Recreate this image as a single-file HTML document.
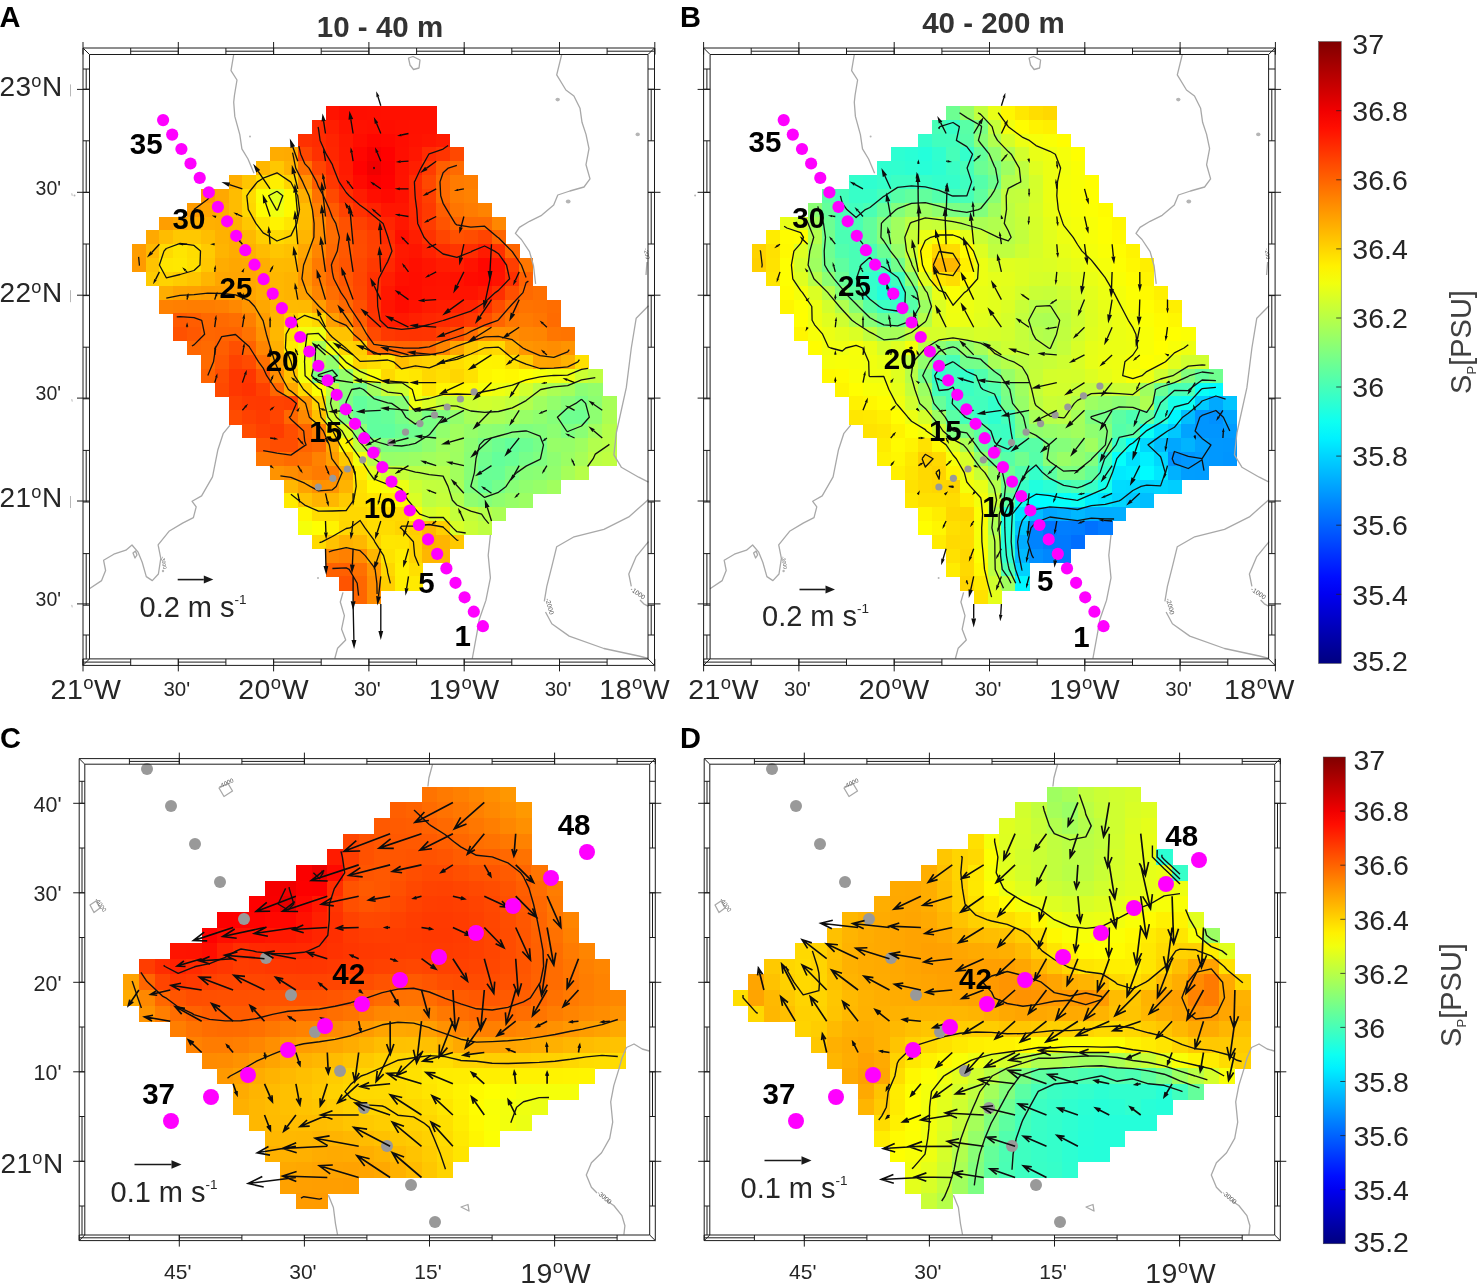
<!DOCTYPE html>
<html><head><meta charset="utf-8"><title>Figure</title>
<style>html,body{margin:0;padding:0;background:#fff}svg{display:block}text{font-family:'Liberation Sans', sans-serif}</style></head><body>
<svg width="1477" height="1287" viewBox="0 0 1477 1287">
<rect width="1477" height="1287" fill="#fff"/>
<g shape-rendering="crispEdges">
<rect x="325.5" y="105.8" width="14.2" height="14.2" fill="#ff1300"/>
<rect x="339.3" y="105.8" width="14.2" height="14.2" fill="#ff0d00"/>
<rect x="353.1" y="105.8" width="14.2" height="14.2" fill="#ff0e00"/>
<rect x="367" y="105.8" width="14.2" height="14.2" fill="#ff0f00"/>
<rect x="380.8" y="105.8" width="55.8" height="14.2" fill="#ff1000"/>
<rect x="311.6" y="119.6" width="14.2" height="14.2" fill="#ff2a00"/>
<rect x="325.5" y="119.6" width="14.2" height="14.2" fill="#ff1e00"/>
<rect x="339.3" y="119.6" width="14.2" height="14.2" fill="#ff1300"/>
<rect x="353.1" y="119.6" width="14.2" height="14.2" fill="#ff1100"/>
<rect x="367" y="119.6" width="14.2" height="14.2" fill="#ff0f00"/>
<rect x="380.8" y="119.6" width="14.2" height="14.2" fill="#ff0e00"/>
<rect x="394.7" y="119.6" width="14.2" height="14.2" fill="#ff1000"/>
<rect x="408.5" y="119.6" width="28.1" height="14.2" fill="#ff1100"/>
<rect x="297.8" y="133.5" width="14.2" height="14.2" fill="#ff3000"/>
<rect x="311.6" y="133.5" width="14.2" height="14.2" fill="#ff2b00"/>
<rect x="325.5" y="133.5" width="14.2" height="14.2" fill="#ff2400"/>
<rect x="339.3" y="133.5" width="14.2" height="14.2" fill="#ff1800"/>
<rect x="353.1" y="133.5" width="14.2" height="14.2" fill="#ff0d00"/>
<rect x="367" y="133.5" width="14.2" height="14.2" fill="#ff0600"/>
<rect x="380.8" y="133.5" width="14.2" height="14.2" fill="#ff0800"/>
<rect x="394.7" y="133.5" width="14.2" height="14.2" fill="#ff0d00"/>
<rect x="408.5" y="133.5" width="14.2" height="14.2" fill="#ff1200"/>
<rect x="422.3" y="133.5" width="14.2" height="14.2" fill="#ff1500"/>
<rect x="436.2" y="133.5" width="14.2" height="14.2" fill="#ff1a00"/>
<rect x="270.1" y="147.3" width="14.2" height="14.2" fill="#ffac00"/>
<rect x="283.9" y="147.3" width="14.2" height="14.2" fill="#ffaa00"/>
<rect x="297.8" y="147.3" width="14.2" height="14.2" fill="#ff4600"/>
<rect x="311.6" y="147.3" width="14.2" height="14.2" fill="#ff3000"/>
<rect x="325.5" y="147.3" width="14.2" height="14.2" fill="#ff2600"/>
<rect x="339.3" y="147.3" width="14.2" height="14.2" fill="#ff1900"/>
<rect x="353.1" y="147.3" width="14.2" height="14.2" fill="#ff0600"/>
<rect x="367" y="147.3" width="14.2" height="14.2" fill="#f80000"/>
<rect x="380.8" y="147.3" width="14.2" height="14.2" fill="#ff0100"/>
<rect x="394.7" y="147.3" width="14.2" height="14.2" fill="#ff0e00"/>
<rect x="408.5" y="147.3" width="14.2" height="14.2" fill="#ff1600"/>
<rect x="422.3" y="147.3" width="14.2" height="14.2" fill="#ff2b00"/>
<rect x="436.2" y="147.3" width="14.2" height="14.2" fill="#ff3400"/>
<rect x="450" y="147.3" width="14.2" height="14.2" fill="#ff4800"/>
<rect x="256.3" y="161.2" width="14.2" height="14.2" fill="#ffb700"/>
<rect x="270.1" y="161.2" width="14.2" height="14.2" fill="#ffc700"/>
<rect x="283.9" y="161.2" width="14.2" height="14.2" fill="#ffb300"/>
<rect x="297.8" y="161.2" width="14.2" height="14.2" fill="#ff7100"/>
<rect x="311.6" y="161.2" width="14.2" height="14.2" fill="#ff4400"/>
<rect x="325.5" y="161.2" width="14.2" height="14.2" fill="#ff2c00"/>
<rect x="339.3" y="161.2" width="14.2" height="14.2" fill="#ff1a00"/>
<rect x="353.1" y="161.2" width="14.2" height="14.2" fill="#ff0200"/>
<rect x="367" y="161.2" width="14.2" height="14.2" fill="#f00000"/>
<rect x="380.8" y="161.2" width="14.2" height="14.2" fill="#fd0000"/>
<rect x="394.7" y="161.2" width="14.2" height="14.2" fill="#ff1200"/>
<rect x="408.5" y="161.2" width="14.2" height="14.2" fill="#ff1e00"/>
<rect x="422.3" y="161.2" width="14.2" height="14.2" fill="#ff3c00"/>
<rect x="436.2" y="161.2" width="14.2" height="14.2" fill="#ff5f00"/>
<rect x="450" y="161.2" width="14.2" height="14.2" fill="#ff6a00"/>
<rect x="228.6" y="175" width="14.2" height="14.2" fill="#ffae00"/>
<rect x="242.4" y="175" width="14.2" height="14.2" fill="#ffc500"/>
<rect x="256.3" y="175" width="14.2" height="14.2" fill="#ffdf00"/>
<rect x="270.1" y="175" width="14.2" height="14.2" fill="#ffef00"/>
<rect x="283.9" y="175" width="14.2" height="14.2" fill="#ffd400"/>
<rect x="297.8" y="175" width="14.2" height="14.2" fill="#ff9300"/>
<rect x="311.6" y="175" width="14.2" height="14.2" fill="#ff5b00"/>
<rect x="325.5" y="175" width="14.2" height="14.2" fill="#ff3700"/>
<rect x="339.3" y="175" width="14.2" height="14.2" fill="#ff1d00"/>
<rect x="353.1" y="175" width="14.2" height="14.2" fill="#ff0a00"/>
<rect x="367" y="175" width="14.2" height="14.2" fill="#fc0000"/>
<rect x="380.8" y="175" width="14.2" height="14.2" fill="#ff0100"/>
<rect x="394.7" y="175" width="14.2" height="14.2" fill="#ff1300"/>
<rect x="408.5" y="175" width="14.2" height="14.2" fill="#ff2c00"/>
<rect x="422.3" y="175" width="14.2" height="14.2" fill="#ff4800"/>
<rect x="436.2" y="175" width="14.2" height="14.2" fill="#ff6b00"/>
<rect x="450" y="175" width="14.2" height="14.2" fill="#ff7b00"/>
<rect x="463.9" y="175" width="14.2" height="14.2" fill="#ff7e00"/>
<rect x="200.9" y="188.8" width="14.2" height="14.2" fill="#ff9900"/>
<rect x="214.7" y="188.8" width="14.2" height="14.2" fill="#ffa800"/>
<rect x="228.6" y="188.8" width="14.2" height="14.2" fill="#ffbc00"/>
<rect x="242.4" y="188.8" width="14.2" height="14.2" fill="#ffda00"/>
<rect x="256.3" y="188.8" width="14.2" height="14.2" fill="#faff05"/>
<rect x="270.1" y="188.8" width="14.2" height="14.2" fill="#e2ff1d"/>
<rect x="283.9" y="188.8" width="14.2" height="14.2" fill="#fff900"/>
<rect x="297.8" y="188.8" width="14.2" height="14.2" fill="#ffaf00"/>
<rect x="311.6" y="188.8" width="14.2" height="14.2" fill="#ff7100"/>
<rect x="325.5" y="188.8" width="14.2" height="14.2" fill="#ff4900"/>
<rect x="339.3" y="188.8" width="14.2" height="14.2" fill="#ff2f00"/>
<rect x="353.1" y="188.8" width="14.2" height="14.2" fill="#ff1c00"/>
<rect x="367" y="188.8" width="14.2" height="14.2" fill="#ff0e00"/>
<rect x="380.8" y="188.8" width="14.2" height="14.2" fill="#ff0900"/>
<rect x="394.7" y="188.8" width="14.2" height="14.2" fill="#ff1100"/>
<rect x="408.5" y="188.8" width="14.2" height="14.2" fill="#ff2b00"/>
<rect x="422.3" y="188.8" width="14.2" height="14.2" fill="#ff3f00"/>
<rect x="436.2" y="188.8" width="14.2" height="14.2" fill="#ff6b00"/>
<rect x="450" y="188.8" width="14.2" height="14.2" fill="#ff7d00"/>
<rect x="463.9" y="188.8" width="14.2" height="14.2" fill="#ff8200"/>
<rect x="187.1" y="202.7" width="14.2" height="14.2" fill="#ff9c00"/>
<rect x="200.9" y="202.7" width="14.2" height="14.2" fill="#ffa400"/>
<rect x="214.7" y="202.7" width="14.2" height="14.2" fill="#ffad00"/>
<rect x="228.6" y="202.7" width="14.2" height="14.2" fill="#ffbc00"/>
<rect x="242.4" y="202.7" width="14.2" height="14.2" fill="#ffd700"/>
<rect x="256.3" y="202.7" width="14.2" height="14.2" fill="#fffc00"/>
<rect x="270.1" y="202.7" width="14.2" height="14.2" fill="#f0ff0f"/>
<rect x="283.9" y="202.7" width="14.2" height="14.2" fill="#fff900"/>
<rect x="297.8" y="202.7" width="14.2" height="14.2" fill="#ffbe00"/>
<rect x="311.6" y="202.7" width="14.2" height="14.2" fill="#ff8100"/>
<rect x="325.5" y="202.7" width="14.2" height="14.2" fill="#ff5b00"/>
<rect x="339.3" y="202.7" width="14.2" height="14.2" fill="#ff4200"/>
<rect x="353.1" y="202.7" width="14.2" height="14.2" fill="#ff3100"/>
<rect x="367" y="202.7" width="14.2" height="14.2" fill="#ff2200"/>
<rect x="380.8" y="202.7" width="28.1" height="14.2" fill="#ff1600"/>
<rect x="408.5" y="202.7" width="14.2" height="14.2" fill="#ff2900"/>
<rect x="422.3" y="202.7" width="14.2" height="14.2" fill="#ff3a00"/>
<rect x="436.2" y="202.7" width="14.2" height="14.2" fill="#ff5d00"/>
<rect x="450" y="202.7" width="14.2" height="14.2" fill="#ff7500"/>
<rect x="463.9" y="202.7" width="14.2" height="14.2" fill="#ff7c00"/>
<rect x="477.7" y="202.7" width="14.2" height="14.2" fill="#ff8300"/>
<rect x="159.4" y="216.5" width="14.2" height="14.2" fill="#ff9e00"/>
<rect x="173.2" y="216.5" width="14.2" height="14.2" fill="#ffa600"/>
<rect x="187.1" y="216.5" width="14.2" height="14.2" fill="#ffaf00"/>
<rect x="200.9" y="216.5" width="14.2" height="14.2" fill="#ffb000"/>
<rect x="214.7" y="216.5" width="14.2" height="14.2" fill="#ffae00"/>
<rect x="228.6" y="216.5" width="14.2" height="14.2" fill="#ffb200"/>
<rect x="242.4" y="216.5" width="14.2" height="14.2" fill="#ffc700"/>
<rect x="256.3" y="216.5" width="14.2" height="14.2" fill="#ffe400"/>
<rect x="270.1" y="216.5" width="14.2" height="14.2" fill="#fff300"/>
<rect x="283.9" y="216.5" width="14.2" height="14.2" fill="#ffe600"/>
<rect x="297.8" y="216.5" width="14.2" height="14.2" fill="#ffbd00"/>
<rect x="311.6" y="216.5" width="14.2" height="14.2" fill="#ff8c00"/>
<rect x="325.5" y="216.5" width="14.2" height="14.2" fill="#ff6900"/>
<rect x="339.3" y="216.5" width="14.2" height="14.2" fill="#ff5100"/>
<rect x="353.1" y="216.5" width="14.2" height="14.2" fill="#ff4100"/>
<rect x="367" y="216.5" width="14.2" height="14.2" fill="#ff3500"/>
<rect x="380.8" y="216.5" width="14.2" height="14.2" fill="#ff2500"/>
<rect x="394.7" y="216.5" width="14.2" height="14.2" fill="#ff1700"/>
<rect x="408.5" y="216.5" width="14.2" height="14.2" fill="#ff2700"/>
<rect x="422.3" y="216.5" width="14.2" height="14.2" fill="#ff3c00"/>
<rect x="436.2" y="216.5" width="14.2" height="14.2" fill="#ff5400"/>
<rect x="450" y="216.5" width="14.2" height="14.2" fill="#ff6500"/>
<rect x="463.9" y="216.5" width="28.1" height="14.2" fill="#ff6b00"/>
<rect x="491.5" y="216.5" width="14.2" height="14.2" fill="#ff8700"/>
<rect x="145.5" y="230.4" width="14.2" height="14.2" fill="#ffa900"/>
<rect x="159.4" y="230.4" width="14.2" height="14.2" fill="#ffbc00"/>
<rect x="173.2" y="230.4" width="28.1" height="14.2" fill="#ffc800"/>
<rect x="200.9" y="230.4" width="14.2" height="14.2" fill="#ffbe00"/>
<rect x="214.7" y="230.4" width="14.2" height="14.2" fill="#ffb100"/>
<rect x="228.6" y="230.4" width="14.2" height="14.2" fill="#ffac00"/>
<rect x="242.4" y="230.4" width="14.2" height="14.2" fill="#ffb900"/>
<rect x="256.3" y="230.4" width="14.2" height="14.2" fill="#ffce00"/>
<rect x="270.1" y="230.4" width="14.2" height="14.2" fill="#ffda00"/>
<rect x="283.9" y="230.4" width="14.2" height="14.2" fill="#ffd200"/>
<rect x="297.8" y="230.4" width="14.2" height="14.2" fill="#ffb500"/>
<rect x="311.6" y="230.4" width="14.2" height="14.2" fill="#ff8f00"/>
<rect x="325.5" y="230.4" width="14.2" height="14.2" fill="#ff6e00"/>
<rect x="339.3" y="230.4" width="14.2" height="14.2" fill="#ff5800"/>
<rect x="353.1" y="230.4" width="14.2" height="14.2" fill="#ff4b00"/>
<rect x="367" y="230.4" width="14.2" height="14.2" fill="#ff4000"/>
<rect x="380.8" y="230.4" width="14.2" height="14.2" fill="#ff2b00"/>
<rect x="394.7" y="230.4" width="14.2" height="14.2" fill="#ff0f00"/>
<rect x="408.5" y="230.4" width="14.2" height="14.2" fill="#ff1e00"/>
<rect x="422.3" y="230.4" width="14.2" height="14.2" fill="#ff3200"/>
<rect x="436.2" y="230.4" width="14.2" height="14.2" fill="#ff4500"/>
<rect x="450" y="230.4" width="14.2" height="14.2" fill="#ff5100"/>
<rect x="463.9" y="230.4" width="14.2" height="14.2" fill="#ff4d00"/>
<rect x="477.7" y="230.4" width="14.2" height="14.2" fill="#ff4400"/>
<rect x="491.5" y="230.4" width="14.2" height="14.2" fill="#ff6500"/>
<rect x="131.7" y="244.2" width="14.2" height="14.2" fill="#ff9d00"/>
<rect x="145.5" y="244.2" width="14.2" height="14.2" fill="#ffb800"/>
<rect x="159.4" y="244.2" width="14.2" height="14.2" fill="#ffda00"/>
<rect x="173.2" y="244.2" width="14.2" height="14.2" fill="#ffe500"/>
<rect x="187.1" y="244.2" width="14.2" height="14.2" fill="#ffdd00"/>
<rect x="200.9" y="244.2" width="14.2" height="14.2" fill="#ffcb00"/>
<rect x="214.7" y="244.2" width="14.2" height="14.2" fill="#ffb400"/>
<rect x="228.6" y="244.2" width="14.2" height="14.2" fill="#ffac00"/>
<rect x="242.4" y="244.2" width="14.2" height="14.2" fill="#ffb100"/>
<rect x="256.3" y="244.2" width="14.2" height="14.2" fill="#ffbc00"/>
<rect x="270.1" y="244.2" width="14.2" height="14.2" fill="#ffc600"/>
<rect x="283.9" y="244.2" width="14.2" height="14.2" fill="#ffc100"/>
<rect x="297.8" y="244.2" width="14.2" height="14.2" fill="#ffa600"/>
<rect x="311.6" y="244.2" width="14.2" height="14.2" fill="#ff8500"/>
<rect x="325.5" y="244.2" width="14.2" height="14.2" fill="#ff6900"/>
<rect x="339.3" y="244.2" width="14.2" height="14.2" fill="#ff5800"/>
<rect x="353.1" y="244.2" width="14.2" height="14.2" fill="#ff4c00"/>
<rect x="367" y="244.2" width="14.2" height="14.2" fill="#ff4100"/>
<rect x="380.8" y="244.2" width="14.2" height="14.2" fill="#ff3200"/>
<rect x="394.7" y="244.2" width="14.2" height="14.2" fill="#ff1900"/>
<rect x="408.5" y="244.2" width="14.2" height="14.2" fill="#ff1500"/>
<rect x="422.3" y="244.2" width="14.2" height="14.2" fill="#ff2100"/>
<rect x="436.2" y="244.2" width="14.2" height="14.2" fill="#ff2e00"/>
<rect x="450" y="244.2" width="14.2" height="14.2" fill="#ff3500"/>
<rect x="463.9" y="244.2" width="14.2" height="14.2" fill="#ff2c00"/>
<rect x="477.7" y="244.2" width="14.2" height="14.2" fill="#ff1b00"/>
<rect x="491.5" y="244.2" width="14.2" height="14.2" fill="#ff3000"/>
<rect x="505.4" y="244.2" width="14.2" height="14.2" fill="#ff6500"/>
<rect x="131.7" y="258" width="14.2" height="14.2" fill="#ff9a00"/>
<rect x="145.5" y="258" width="14.2" height="14.2" fill="#ffc300"/>
<rect x="159.4" y="258" width="14.2" height="14.2" fill="#ffe600"/>
<rect x="173.2" y="258" width="14.2" height="14.2" fill="#ffe800"/>
<rect x="187.1" y="258" width="14.2" height="14.2" fill="#ffdf00"/>
<rect x="200.9" y="258" width="14.2" height="14.2" fill="#ffc700"/>
<rect x="214.7" y="258" width="14.2" height="14.2" fill="#ffac00"/>
<rect x="228.6" y="258" width="14.2" height="14.2" fill="#ffa700"/>
<rect x="242.4" y="258" width="14.2" height="14.2" fill="#ffa900"/>
<rect x="256.3" y="258" width="14.2" height="14.2" fill="#ffae00"/>
<rect x="270.1" y="258" width="14.2" height="14.2" fill="#ffba00"/>
<rect x="283.9" y="258" width="14.2" height="14.2" fill="#ffb900"/>
<rect x="297.8" y="258" width="14.2" height="14.2" fill="#ff9900"/>
<rect x="311.6" y="258" width="14.2" height="14.2" fill="#ff7900"/>
<rect x="325.5" y="258" width="14.2" height="14.2" fill="#ff6100"/>
<rect x="339.3" y="258" width="14.2" height="14.2" fill="#ff5400"/>
<rect x="353.1" y="258" width="14.2" height="14.2" fill="#ff4800"/>
<rect x="367" y="258" width="14.2" height="14.2" fill="#ff3900"/>
<rect x="380.8" y="258" width="14.2" height="14.2" fill="#ff2800"/>
<rect x="394.7" y="258" width="14.2" height="14.2" fill="#ff1500"/>
<rect x="408.5" y="258" width="14.2" height="14.2" fill="#ff0f00"/>
<rect x="422.3" y="258" width="14.2" height="14.2" fill="#ff1500"/>
<rect x="436.2" y="258" width="14.2" height="14.2" fill="#ff1c00"/>
<rect x="450" y="258" width="14.2" height="14.2" fill="#ff1d00"/>
<rect x="463.9" y="258" width="14.2" height="14.2" fill="#ff1300"/>
<rect x="477.7" y="258" width="14.2" height="14.2" fill="#ff0700"/>
<rect x="491.5" y="258" width="14.2" height="14.2" fill="#ff1000"/>
<rect x="505.4" y="258" width="14.2" height="14.2" fill="#ff3e00"/>
<rect x="519.2" y="258" width="14.2" height="14.2" fill="#ff7700"/>
<rect x="145.5" y="271.9" width="14.2" height="14.2" fill="#ffcb00"/>
<rect x="159.4" y="271.9" width="14.2" height="14.2" fill="#ffd300"/>
<rect x="173.2" y="271.9" width="14.2" height="14.2" fill="#ffcc00"/>
<rect x="187.1" y="271.9" width="14.2" height="14.2" fill="#ffc500"/>
<rect x="200.9" y="271.9" width="14.2" height="14.2" fill="#ffb500"/>
<rect x="214.7" y="271.9" width="14.2" height="14.2" fill="#ffa600"/>
<rect x="228.6" y="271.9" width="14.2" height="14.2" fill="#ffa500"/>
<rect x="242.4" y="271.9" width="14.2" height="14.2" fill="#ffa700"/>
<rect x="256.3" y="271.9" width="14.2" height="14.2" fill="#ffac00"/>
<rect x="270.1" y="271.9" width="14.2" height="14.2" fill="#ffb700"/>
<rect x="283.9" y="271.9" width="14.2" height="14.2" fill="#ffb300"/>
<rect x="297.8" y="271.9" width="14.2" height="14.2" fill="#ff9600"/>
<rect x="311.6" y="271.9" width="14.2" height="14.2" fill="#ff7900"/>
<rect x="325.5" y="271.9" width="14.2" height="14.2" fill="#ff6500"/>
<rect x="339.3" y="271.9" width="14.2" height="14.2" fill="#ff5700"/>
<rect x="353.1" y="271.9" width="14.2" height="14.2" fill="#ff4600"/>
<rect x="367" y="271.9" width="14.2" height="14.2" fill="#ff3100"/>
<rect x="380.8" y="271.9" width="14.2" height="14.2" fill="#ff1e00"/>
<rect x="394.7" y="271.9" width="14.2" height="14.2" fill="#ff1000"/>
<rect x="408.5" y="271.9" width="14.2" height="14.2" fill="#ff0d00"/>
<rect x="422.3" y="271.9" width="14.2" height="14.2" fill="#ff1100"/>
<rect x="436.2" y="271.9" width="14.2" height="14.2" fill="#ff1300"/>
<rect x="450" y="271.9" width="14.2" height="14.2" fill="#ff1100"/>
<rect x="463.9" y="271.9" width="14.2" height="14.2" fill="#ff0b00"/>
<rect x="477.7" y="271.9" width="14.2" height="14.2" fill="#ff0800"/>
<rect x="491.5" y="271.9" width="14.2" height="14.2" fill="#ff1200"/>
<rect x="505.4" y="271.9" width="14.2" height="14.2" fill="#ff3000"/>
<rect x="519.2" y="271.9" width="14.2" height="14.2" fill="#ff6100"/>
<rect x="159.4" y="285.7" width="14.2" height="14.2" fill="#ffad00"/>
<rect x="173.2" y="285.7" width="14.2" height="14.2" fill="#ffa300"/>
<rect x="187.1" y="285.7" width="14.2" height="14.2" fill="#ffa100"/>
<rect x="200.9" y="285.7" width="14.2" height="14.2" fill="#ff9d00"/>
<rect x="214.7" y="285.7" width="14.2" height="14.2" fill="#ff9e00"/>
<rect x="228.6" y="285.7" width="14.2" height="14.2" fill="#ffa000"/>
<rect x="242.4" y="285.7" width="14.2" height="14.2" fill="#ffa500"/>
<rect x="256.3" y="285.7" width="14.2" height="14.2" fill="#ffae00"/>
<rect x="270.1" y="285.7" width="14.2" height="14.2" fill="#ffb700"/>
<rect x="283.9" y="285.7" width="14.2" height="14.2" fill="#ffb300"/>
<rect x="297.8" y="285.7" width="14.2" height="14.2" fill="#ffa000"/>
<rect x="311.6" y="285.7" width="14.2" height="14.2" fill="#ff8400"/>
<rect x="325.5" y="285.7" width="14.2" height="14.2" fill="#ff6e00"/>
<rect x="339.3" y="285.7" width="14.2" height="14.2" fill="#ff5d00"/>
<rect x="353.1" y="285.7" width="14.2" height="14.2" fill="#ff4800"/>
<rect x="367" y="285.7" width="14.2" height="14.2" fill="#ff3100"/>
<rect x="380.8" y="285.7" width="14.2" height="14.2" fill="#ff1700"/>
<rect x="394.7" y="285.7" width="14.2" height="14.2" fill="#ff0b00"/>
<rect x="408.5" y="285.7" width="14.2" height="14.2" fill="#ff0d00"/>
<rect x="422.3" y="285.7" width="14.2" height="14.2" fill="#ff1300"/>
<rect x="436.2" y="285.7" width="14.2" height="14.2" fill="#ff1400"/>
<rect x="450" y="285.7" width="28.1" height="14.2" fill="#ff1300"/>
<rect x="477.7" y="285.7" width="14.2" height="14.2" fill="#ff1a00"/>
<rect x="491.5" y="285.7" width="14.2" height="14.2" fill="#ff2f00"/>
<rect x="505.4" y="285.7" width="14.2" height="14.2" fill="#ff4f00"/>
<rect x="519.2" y="285.7" width="14.2" height="14.2" fill="#ff6900"/>
<rect x="533.1" y="285.7" width="14.2" height="14.2" fill="#ff6f00"/>
<rect x="159.4" y="299.6" width="14.2" height="14.2" fill="#ff8100"/>
<rect x="173.2" y="299.6" width="14.2" height="14.2" fill="#ff7f00"/>
<rect x="187.1" y="299.6" width="28.1" height="14.2" fill="#ff7d00"/>
<rect x="214.7" y="299.6" width="14.2" height="14.2" fill="#ff8000"/>
<rect x="228.6" y="299.6" width="14.2" height="14.2" fill="#ff8800"/>
<rect x="242.4" y="299.6" width="14.2" height="14.2" fill="#ff9500"/>
<rect x="256.3" y="299.6" width="14.2" height="14.2" fill="#ffa700"/>
<rect x="270.1" y="299.6" width="14.2" height="14.2" fill="#ffb400"/>
<rect x="283.9" y="299.6" width="14.2" height="14.2" fill="#ffba00"/>
<rect x="297.8" y="299.6" width="14.2" height="14.2" fill="#ffb900"/>
<rect x="311.6" y="299.6" width="14.2" height="14.2" fill="#ff9d00"/>
<rect x="325.5" y="299.6" width="14.2" height="14.2" fill="#ff7c00"/>
<rect x="339.3" y="299.6" width="14.2" height="14.2" fill="#ff6900"/>
<rect x="353.1" y="299.6" width="14.2" height="14.2" fill="#ff5000"/>
<rect x="367" y="299.6" width="14.2" height="14.2" fill="#ff3300"/>
<rect x="380.8" y="299.6" width="14.2" height="14.2" fill="#ff1500"/>
<rect x="394.7" y="299.6" width="14.2" height="14.2" fill="#ff0c00"/>
<rect x="408.5" y="299.6" width="14.2" height="14.2" fill="#ff1200"/>
<rect x="422.3" y="299.6" width="14.2" height="14.2" fill="#ff1a00"/>
<rect x="436.2" y="299.6" width="14.2" height="14.2" fill="#ff1d00"/>
<rect x="450" y="299.6" width="14.2" height="14.2" fill="#ff2000"/>
<rect x="463.9" y="299.6" width="14.2" height="14.2" fill="#ff2300"/>
<rect x="477.7" y="299.6" width="14.2" height="14.2" fill="#ff3100"/>
<rect x="491.5" y="299.6" width="14.2" height="14.2" fill="#ff4c00"/>
<rect x="505.4" y="299.6" width="14.2" height="14.2" fill="#ff6800"/>
<rect x="519.2" y="299.6" width="14.2" height="14.2" fill="#ff7300"/>
<rect x="533.1" y="299.6" width="14.2" height="14.2" fill="#ff7100"/>
<rect x="546.9" y="299.6" width="14.2" height="14.2" fill="#ff6d00"/>
<rect x="173.2" y="313.4" width="14.2" height="14.2" fill="#ff5900"/>
<rect x="187.1" y="313.4" width="14.2" height="14.2" fill="#ff5d00"/>
<rect x="200.9" y="313.4" width="14.2" height="14.2" fill="#ff6800"/>
<rect x="214.7" y="313.4" width="14.2" height="14.2" fill="#ff6a00"/>
<rect x="228.6" y="313.4" width="14.2" height="14.2" fill="#ff6e00"/>
<rect x="242.4" y="313.4" width="14.2" height="14.2" fill="#ff7f00"/>
<rect x="256.3" y="313.4" width="14.2" height="14.2" fill="#ff9c00"/>
<rect x="270.1" y="313.4" width="14.2" height="14.2" fill="#ffb500"/>
<rect x="283.9" y="313.4" width="14.2" height="14.2" fill="#ffcb00"/>
<rect x="297.8" y="313.4" width="14.2" height="14.2" fill="#ffe400"/>
<rect x="311.6" y="313.4" width="14.2" height="14.2" fill="#ffd500"/>
<rect x="325.5" y="313.4" width="14.2" height="14.2" fill="#ff9f00"/>
<rect x="339.3" y="313.4" width="14.2" height="14.2" fill="#ff8600"/>
<rect x="353.1" y="313.4" width="14.2" height="14.2" fill="#ff5f00"/>
<rect x="367" y="313.4" width="14.2" height="14.2" fill="#ff3600"/>
<rect x="380.8" y="313.4" width="14.2" height="14.2" fill="#ff1c00"/>
<rect x="394.7" y="313.4" width="14.2" height="14.2" fill="#ff1900"/>
<rect x="408.5" y="313.4" width="14.2" height="14.2" fill="#ff2000"/>
<rect x="422.3" y="313.4" width="14.2" height="14.2" fill="#ff2600"/>
<rect x="436.2" y="313.4" width="14.2" height="14.2" fill="#ff2a00"/>
<rect x="450" y="313.4" width="14.2" height="14.2" fill="#ff3000"/>
<rect x="463.9" y="313.4" width="14.2" height="14.2" fill="#ff3800"/>
<rect x="477.7" y="313.4" width="14.2" height="14.2" fill="#ff4d00"/>
<rect x="491.5" y="313.4" width="14.2" height="14.2" fill="#ff6400"/>
<rect x="505.4" y="313.4" width="14.2" height="14.2" fill="#ff7700"/>
<rect x="519.2" y="313.4" width="14.2" height="14.2" fill="#ff7b00"/>
<rect x="533.1" y="313.4" width="14.2" height="14.2" fill="#ff7600"/>
<rect x="546.9" y="313.4" width="14.2" height="14.2" fill="#ff6b00"/>
<rect x="173.2" y="327.2" width="14.2" height="14.2" fill="#ff5100"/>
<rect x="187.1" y="327.2" width="14.2" height="14.2" fill="#ff5800"/>
<rect x="200.9" y="327.2" width="14.2" height="14.2" fill="#ff6600"/>
<rect x="214.7" y="327.2" width="28.1" height="14.2" fill="#ff6400"/>
<rect x="242.4" y="327.2" width="14.2" height="14.2" fill="#ff7300"/>
<rect x="256.3" y="327.2" width="14.2" height="14.2" fill="#ff9300"/>
<rect x="270.1" y="327.2" width="14.2" height="14.2" fill="#ffb700"/>
<rect x="283.9" y="327.2" width="14.2" height="14.2" fill="#ffe400"/>
<rect x="297.8" y="327.2" width="14.2" height="14.2" fill="#f2ff0d"/>
<rect x="311.6" y="327.2" width="14.2" height="14.2" fill="#edff12"/>
<rect x="325.5" y="327.2" width="14.2" height="14.2" fill="#ffc400"/>
<rect x="339.3" y="327.2" width="14.2" height="14.2" fill="#ffc200"/>
<rect x="353.1" y="327.2" width="14.2" height="14.2" fill="#ff7a00"/>
<rect x="367" y="327.2" width="14.2" height="14.2" fill="#ff4a00"/>
<rect x="380.8" y="327.2" width="14.2" height="14.2" fill="#ff3800"/>
<rect x="394.7" y="327.2" width="14.2" height="14.2" fill="#ff3400"/>
<rect x="408.5" y="327.2" width="14.2" height="14.2" fill="#ff3300"/>
<rect x="422.3" y="327.2" width="14.2" height="14.2" fill="#ff3400"/>
<rect x="436.2" y="327.2" width="14.2" height="14.2" fill="#ff4000"/>
<rect x="450" y="327.2" width="14.2" height="14.2" fill="#ff5100"/>
<rect x="463.9" y="327.2" width="14.2" height="14.2" fill="#ff6e00"/>
<rect x="477.7" y="327.2" width="14.2" height="14.2" fill="#ff8e00"/>
<rect x="491.5" y="327.2" width="14.2" height="14.2" fill="#ff9100"/>
<rect x="505.4" y="327.2" width="14.2" height="14.2" fill="#ff8e00"/>
<rect x="519.2" y="327.2" width="14.2" height="14.2" fill="#ff8700"/>
<rect x="533.1" y="327.2" width="14.2" height="14.2" fill="#ff8500"/>
<rect x="546.9" y="327.2" width="14.2" height="14.2" fill="#ff7600"/>
<rect x="560.7" y="327.2" width="14.2" height="14.2" fill="#ff7400"/>
<rect x="187.1" y="341.1" width="14.2" height="14.2" fill="#ff6600"/>
<rect x="200.9" y="341.1" width="14.2" height="14.2" fill="#ff6a00"/>
<rect x="214.7" y="341.1" width="14.2" height="14.2" fill="#ff5e00"/>
<rect x="228.6" y="341.1" width="14.2" height="14.2" fill="#ff4f00"/>
<rect x="242.4" y="341.1" width="14.2" height="14.2" fill="#ff6200"/>
<rect x="256.3" y="341.1" width="14.2" height="14.2" fill="#ff8500"/>
<rect x="270.1" y="341.1" width="14.2" height="14.2" fill="#ffb000"/>
<rect x="283.9" y="341.1" width="14.2" height="14.2" fill="#ffec00"/>
<rect x="297.8" y="341.1" width="14.2" height="14.2" fill="#f4ff0b"/>
<rect x="311.6" y="341.1" width="14.2" height="14.2" fill="#a8ff57"/>
<rect x="325.5" y="341.1" width="14.2" height="14.2" fill="#f1ff0e"/>
<rect x="339.3" y="341.1" width="14.2" height="14.2" fill="#ffd300"/>
<rect x="353.1" y="341.1" width="14.2" height="14.2" fill="#ffce00"/>
<rect x="367" y="341.1" width="14.2" height="14.2" fill="#ff6c00"/>
<rect x="380.8" y="341.1" width="14.2" height="14.2" fill="#ff6900"/>
<rect x="394.7" y="341.1" width="14.2" height="14.2" fill="#ff6300"/>
<rect x="408.5" y="341.1" width="14.2" height="14.2" fill="#ff6200"/>
<rect x="422.3" y="341.1" width="14.2" height="14.2" fill="#ff6800"/>
<rect x="436.2" y="341.1" width="14.2" height="14.2" fill="#ff8400"/>
<rect x="450" y="341.1" width="14.2" height="14.2" fill="#ffa700"/>
<rect x="463.9" y="341.1" width="14.2" height="14.2" fill="#ffc600"/>
<rect x="477.7" y="341.1" width="14.2" height="14.2" fill="#ffd500"/>
<rect x="491.5" y="341.1" width="14.2" height="14.2" fill="#ffd900"/>
<rect x="505.4" y="341.1" width="14.2" height="14.2" fill="#ffb100"/>
<rect x="519.2" y="341.1" width="14.2" height="14.2" fill="#ff9500"/>
<rect x="533.1" y="341.1" width="14.2" height="14.2" fill="#ff9100"/>
<rect x="546.9" y="341.1" width="14.2" height="14.2" fill="#ff8d00"/>
<rect x="560.7" y="341.1" width="14.2" height="14.2" fill="#ff9300"/>
<rect x="200.9" y="354.9" width="14.2" height="14.2" fill="#ff6b00"/>
<rect x="214.7" y="354.9" width="14.2" height="14.2" fill="#ff5800"/>
<rect x="228.6" y="354.9" width="14.2" height="14.2" fill="#ff4200"/>
<rect x="242.4" y="354.9" width="14.2" height="14.2" fill="#ff4b00"/>
<rect x="256.3" y="354.9" width="14.2" height="14.2" fill="#ff6f00"/>
<rect x="270.1" y="354.9" width="14.2" height="14.2" fill="#ffa400"/>
<rect x="283.9" y="354.9" width="14.2" height="14.2" fill="#ffd400"/>
<rect x="297.8" y="354.9" width="14.2" height="14.2" fill="#f0ff0f"/>
<rect x="311.6" y="354.9" width="14.2" height="14.2" fill="#a6ff59"/>
<rect x="325.5" y="354.9" width="14.2" height="14.2" fill="#92ff6d"/>
<rect x="339.3" y="354.9" width="14.2" height="14.2" fill="#f5ff0a"/>
<rect x="353.1" y="354.9" width="14.2" height="14.2" fill="#ffd500"/>
<rect x="367" y="354.9" width="14.2" height="14.2" fill="#ffdd00"/>
<rect x="380.8" y="354.9" width="14.2" height="14.2" fill="#ffe500"/>
<rect x="394.7" y="354.9" width="14.2" height="14.2" fill="#ffbd00"/>
<rect x="408.5" y="354.9" width="14.2" height="14.2" fill="#ffcd00"/>
<rect x="422.3" y="354.9" width="14.2" height="14.2" fill="#ffd200"/>
<rect x="436.2" y="354.9" width="14.2" height="14.2" fill="#ffd400"/>
<rect x="450" y="354.9" width="14.2" height="14.2" fill="#ffde00"/>
<rect x="463.9" y="354.9" width="14.2" height="14.2" fill="#ffe700"/>
<rect x="477.7" y="354.9" width="14.2" height="14.2" fill="#fff300"/>
<rect x="491.5" y="354.9" width="14.2" height="14.2" fill="#fff200"/>
<rect x="505.4" y="354.9" width="14.2" height="14.2" fill="#ffe100"/>
<rect x="519.2" y="354.9" width="14.2" height="14.2" fill="#ffcc00"/>
<rect x="533.1" y="354.9" width="14.2" height="14.2" fill="#ffa500"/>
<rect x="546.9" y="354.9" width="14.2" height="14.2" fill="#ffa300"/>
<rect x="560.7" y="354.9" width="14.2" height="14.2" fill="#ffb200"/>
<rect x="574.6" y="354.9" width="14.2" height="14.2" fill="#ffe000"/>
<rect x="200.9" y="368.8" width="14.2" height="14.2" fill="#ff6300"/>
<rect x="214.7" y="368.8" width="14.2" height="14.2" fill="#ff4d00"/>
<rect x="228.6" y="368.8" width="14.2" height="14.2" fill="#ff3700"/>
<rect x="242.4" y="368.8" width="14.2" height="14.2" fill="#ff3600"/>
<rect x="256.3" y="368.8" width="14.2" height="14.2" fill="#ff5500"/>
<rect x="270.1" y="368.8" width="14.2" height="14.2" fill="#ff8d00"/>
<rect x="283.9" y="368.8" width="14.2" height="14.2" fill="#ffc100"/>
<rect x="297.8" y="368.8" width="14.2" height="14.2" fill="#f4ff0b"/>
<rect x="311.6" y="368.8" width="14.2" height="14.2" fill="#7cff83"/>
<rect x="325.5" y="368.8" width="14.2" height="14.2" fill="#73ff8c"/>
<rect x="339.3" y="368.8" width="14.2" height="14.2" fill="#95ff6a"/>
<rect x="353.1" y="368.8" width="14.2" height="14.2" fill="#d8ff27"/>
<rect x="367" y="368.8" width="14.2" height="14.2" fill="#fbff04"/>
<rect x="380.8" y="368.8" width="14.2" height="14.2" fill="#ffd900"/>
<rect x="394.7" y="368.8" width="14.2" height="14.2" fill="#ffeb00"/>
<rect x="408.5" y="368.8" width="14.2" height="14.2" fill="#ffe700"/>
<rect x="422.3" y="368.8" width="14.2" height="14.2" fill="#ffd800"/>
<rect x="436.2" y="368.8" width="14.2" height="14.2" fill="#ffdf00"/>
<rect x="450" y="368.8" width="14.2" height="14.2" fill="#ffd600"/>
<rect x="463.9" y="368.8" width="14.2" height="14.2" fill="#ffe200"/>
<rect x="477.7" y="368.8" width="14.2" height="14.2" fill="#fff600"/>
<rect x="491.5" y="368.8" width="14.2" height="14.2" fill="#fffb00"/>
<rect x="505.4" y="368.8" width="14.2" height="14.2" fill="#fff800"/>
<rect x="519.2" y="368.8" width="14.2" height="14.2" fill="#feff01"/>
<rect x="533.1" y="368.8" width="14.2" height="14.2" fill="#f6ff09"/>
<rect x="546.9" y="368.8" width="14.2" height="14.2" fill="#f0ff0f"/>
<rect x="560.7" y="368.8" width="14.2" height="14.2" fill="#edff12"/>
<rect x="574.6" y="368.8" width="14.2" height="14.2" fill="#ccff33"/>
<rect x="588.4" y="368.8" width="14.2" height="14.2" fill="#beff41"/>
<rect x="214.7" y="382.6" width="14.2" height="14.2" fill="#ff4900"/>
<rect x="228.6" y="382.6" width="14.2" height="14.2" fill="#ff3700"/>
<rect x="242.4" y="382.6" width="14.2" height="14.2" fill="#ff3200"/>
<rect x="256.3" y="382.6" width="14.2" height="14.2" fill="#ff4000"/>
<rect x="270.1" y="382.6" width="14.2" height="14.2" fill="#ff6600"/>
<rect x="283.9" y="382.6" width="14.2" height="14.2" fill="#ffa800"/>
<rect x="297.8" y="382.6" width="14.2" height="14.2" fill="#ffd900"/>
<rect x="311.6" y="382.6" width="14.2" height="14.2" fill="#fcff03"/>
<rect x="325.5" y="382.6" width="14.2" height="14.2" fill="#c0ff3f"/>
<rect x="339.3" y="382.6" width="14.2" height="14.2" fill="#87ff78"/>
<rect x="353.1" y="382.6" width="14.2" height="14.2" fill="#74ff8b"/>
<rect x="367" y="382.6" width="14.2" height="14.2" fill="#a1ff5e"/>
<rect x="380.8" y="382.6" width="14.2" height="14.2" fill="#c6ff39"/>
<rect x="394.7" y="382.6" width="14.2" height="14.2" fill="#ceff31"/>
<rect x="408.5" y="382.6" width="14.2" height="14.2" fill="#fbff04"/>
<rect x="422.3" y="382.6" width="14.2" height="14.2" fill="#ffe500"/>
<rect x="436.2" y="382.6" width="14.2" height="14.2" fill="#fff400"/>
<rect x="450" y="382.6" width="14.2" height="14.2" fill="#fff700"/>
<rect x="463.9" y="382.6" width="14.2" height="14.2" fill="#fffb00"/>
<rect x="477.7" y="382.6" width="14.2" height="14.2" fill="#f6ff09"/>
<rect x="491.5" y="382.6" width="14.2" height="14.2" fill="#efff10"/>
<rect x="505.4" y="382.6" width="14.2" height="14.2" fill="#e7ff18"/>
<rect x="519.2" y="382.6" width="14.2" height="14.2" fill="#d2ff2d"/>
<rect x="533.1" y="382.6" width="14.2" height="14.2" fill="#b9ff46"/>
<rect x="546.9" y="382.6" width="14.2" height="14.2" fill="#abff54"/>
<rect x="560.7" y="382.6" width="14.2" height="14.2" fill="#a3ff5c"/>
<rect x="574.6" y="382.6" width="14.2" height="14.2" fill="#8cff73"/>
<rect x="588.4" y="382.6" width="14.2" height="14.2" fill="#93ff6c"/>
<rect x="228.6" y="396.4" width="14.2" height="14.2" fill="#ff4100"/>
<rect x="242.4" y="396.4" width="14.2" height="14.2" fill="#ff3a00"/>
<rect x="256.3" y="396.4" width="14.2" height="14.2" fill="#ff3900"/>
<rect x="270.1" y="396.4" width="14.2" height="14.2" fill="#ff4300"/>
<rect x="283.9" y="396.4" width="14.2" height="14.2" fill="#ff4000"/>
<rect x="297.8" y="396.4" width="14.2" height="14.2" fill="#ff9800"/>
<rect x="311.6" y="396.4" width="14.2" height="14.2" fill="#ffd400"/>
<rect x="325.5" y="396.4" width="14.2" height="14.2" fill="#a6ff59"/>
<rect x="339.3" y="396.4" width="14.2" height="14.2" fill="#7eff81"/>
<rect x="353.1" y="396.4" width="14.2" height="14.2" fill="#62ff9d"/>
<rect x="367" y="396.4" width="14.2" height="14.2" fill="#6eff91"/>
<rect x="380.8" y="396.4" width="14.2" height="14.2" fill="#7dff82"/>
<rect x="394.7" y="396.4" width="14.2" height="14.2" fill="#87ff78"/>
<rect x="408.5" y="396.4" width="14.2" height="14.2" fill="#eeff11"/>
<rect x="422.3" y="396.4" width="14.2" height="14.2" fill="#dbff24"/>
<rect x="436.2" y="396.4" width="14.2" height="14.2" fill="#c1ff3e"/>
<rect x="450" y="396.4" width="14.2" height="14.2" fill="#c2ff3d"/>
<rect x="463.9" y="396.4" width="14.2" height="14.2" fill="#ceff31"/>
<rect x="477.7" y="396.4" width="14.2" height="14.2" fill="#d1ff2e"/>
<rect x="491.5" y="396.4" width="14.2" height="14.2" fill="#cdff32"/>
<rect x="505.4" y="396.4" width="14.2" height="14.2" fill="#c3ff3c"/>
<rect x="519.2" y="396.4" width="14.2" height="14.2" fill="#b2ff4d"/>
<rect x="533.1" y="396.4" width="14.2" height="14.2" fill="#a0ff5f"/>
<rect x="546.9" y="396.4" width="14.2" height="14.2" fill="#93ff6c"/>
<rect x="560.7" y="396.4" width="14.2" height="14.2" fill="#87ff78"/>
<rect x="574.6" y="396.4" width="14.2" height="14.2" fill="#7aff85"/>
<rect x="588.4" y="396.4" width="14.2" height="14.2" fill="#8cff73"/>
<rect x="602.3" y="396.4" width="14.2" height="14.2" fill="#a7ff58"/>
<rect x="228.6" y="410.3" width="14.2" height="14.2" fill="#ff4b00"/>
<rect x="242.4" y="410.3" width="14.2" height="14.2" fill="#ff4100"/>
<rect x="256.3" y="410.3" width="14.2" height="14.2" fill="#ff3b00"/>
<rect x="270.1" y="410.3" width="14.2" height="14.2" fill="#ff4500"/>
<rect x="283.9" y="410.3" width="14.2" height="14.2" fill="#ff6700"/>
<rect x="297.8" y="410.3" width="14.2" height="14.2" fill="#ff8900"/>
<rect x="311.6" y="410.3" width="14.2" height="14.2" fill="#ffc100"/>
<rect x="325.5" y="410.3" width="14.2" height="14.2" fill="#ceff31"/>
<rect x="339.3" y="410.3" width="14.2" height="14.2" fill="#86ff79"/>
<rect x="353.1" y="410.3" width="14.2" height="14.2" fill="#69ff96"/>
<rect x="367" y="410.3" width="14.2" height="14.2" fill="#62ff9d"/>
<rect x="380.8" y="410.3" width="14.2" height="14.2" fill="#66ff99"/>
<rect x="394.7" y="410.3" width="14.2" height="14.2" fill="#78ff87"/>
<rect x="408.5" y="410.3" width="14.2" height="14.2" fill="#90ff6f"/>
<rect x="422.3" y="410.3" width="14.2" height="14.2" fill="#79ff86"/>
<rect x="436.2" y="410.3" width="14.2" height="14.2" fill="#7fff80"/>
<rect x="450" y="410.3" width="14.2" height="14.2" fill="#93ff6c"/>
<rect x="463.9" y="410.3" width="14.2" height="14.2" fill="#a6ff59"/>
<rect x="477.7" y="410.3" width="14.2" height="14.2" fill="#abff54"/>
<rect x="491.5" y="410.3" width="14.2" height="14.2" fill="#a9ff56"/>
<rect x="505.4" y="410.3" width="14.2" height="14.2" fill="#a2ff5d"/>
<rect x="519.2" y="410.3" width="14.2" height="14.2" fill="#98ff67"/>
<rect x="533.1" y="410.3" width="14.2" height="14.2" fill="#90ff6f"/>
<rect x="546.9" y="410.3" width="14.2" height="14.2" fill="#85ff7a"/>
<rect x="560.7" y="410.3" width="14.2" height="14.2" fill="#6fff90"/>
<rect x="574.6" y="410.3" width="14.2" height="14.2" fill="#6eff91"/>
<rect x="588.4" y="410.3" width="14.2" height="14.2" fill="#8eff71"/>
<rect x="602.3" y="410.3" width="14.2" height="14.2" fill="#acff53"/>
<rect x="242.4" y="424.1" width="14.2" height="14.2" fill="#ff4b00"/>
<rect x="256.3" y="424.1" width="14.2" height="14.2" fill="#ff4100"/>
<rect x="270.1" y="424.1" width="14.2" height="14.2" fill="#ff3c00"/>
<rect x="283.9" y="424.1" width="14.2" height="14.2" fill="#ff4d00"/>
<rect x="297.8" y="424.1" width="14.2" height="14.2" fill="#ff6500"/>
<rect x="311.6" y="424.1" width="14.2" height="14.2" fill="#ff7f00"/>
<rect x="325.5" y="424.1" width="14.2" height="14.2" fill="#ffd200"/>
<rect x="339.3" y="424.1" width="14.2" height="14.2" fill="#d8ff27"/>
<rect x="353.1" y="424.1" width="14.2" height="14.2" fill="#8bff74"/>
<rect x="367" y="424.1" width="14.2" height="14.2" fill="#61ff9e"/>
<rect x="380.8" y="424.1" width="14.2" height="14.2" fill="#60ff9f"/>
<rect x="394.7" y="424.1" width="14.2" height="14.2" fill="#6bff94"/>
<rect x="408.5" y="424.1" width="14.2" height="14.2" fill="#6fff90"/>
<rect x="422.3" y="424.1" width="14.2" height="14.2" fill="#7aff85"/>
<rect x="436.2" y="424.1" width="14.2" height="14.2" fill="#92ff6d"/>
<rect x="450" y="424.1" width="14.2" height="14.2" fill="#a1ff5e"/>
<rect x="463.9" y="424.1" width="14.2" height="14.2" fill="#96ff69"/>
<rect x="477.7" y="424.1" width="14.2" height="14.2" fill="#8dff72"/>
<rect x="491.5" y="424.1" width="14.2" height="14.2" fill="#8aff75"/>
<rect x="505.4" y="424.1" width="14.2" height="14.2" fill="#82ff7d"/>
<rect x="519.2" y="424.1" width="14.2" height="14.2" fill="#7fff80"/>
<rect x="533.1" y="424.1" width="14.2" height="14.2" fill="#84ff7b"/>
<rect x="546.9" y="424.1" width="14.2" height="14.2" fill="#8dff72"/>
<rect x="560.7" y="424.1" width="14.2" height="14.2" fill="#7eff81"/>
<rect x="574.6" y="424.1" width="14.2" height="14.2" fill="#8aff75"/>
<rect x="588.4" y="424.1" width="14.2" height="14.2" fill="#a2ff5d"/>
<rect x="602.3" y="424.1" width="14.2" height="14.2" fill="#b5ff4a"/>
<rect x="256.3" y="438" width="14.2" height="14.2" fill="#ff5600"/>
<rect x="270.1" y="438" width="28.1" height="14.2" fill="#ff4d00"/>
<rect x="297.8" y="438" width="14.2" height="14.2" fill="#ff6300"/>
<rect x="311.6" y="438" width="14.2" height="14.2" fill="#ff6900"/>
<rect x="325.5" y="438" width="14.2" height="14.2" fill="#ffaa00"/>
<rect x="339.3" y="438" width="14.2" height="14.2" fill="#fff700"/>
<rect x="353.1" y="438" width="14.2" height="14.2" fill="#c1ff3e"/>
<rect x="367" y="438" width="14.2" height="14.2" fill="#8bff74"/>
<rect x="380.8" y="438" width="14.2" height="14.2" fill="#7fff80"/>
<rect x="394.7" y="438" width="14.2" height="14.2" fill="#7dff82"/>
<rect x="408.5" y="438" width="14.2" height="14.2" fill="#81ff7e"/>
<rect x="422.3" y="438" width="14.2" height="14.2" fill="#8eff71"/>
<rect x="436.2" y="438" width="14.2" height="14.2" fill="#9fff60"/>
<rect x="450" y="438" width="14.2" height="14.2" fill="#a0ff5f"/>
<rect x="463.9" y="438" width="14.2" height="14.2" fill="#8dff72"/>
<rect x="477.7" y="438" width="14.2" height="14.2" fill="#78ff87"/>
<rect x="491.5" y="438" width="14.2" height="14.2" fill="#6dff92"/>
<rect x="505.4" y="438" width="14.2" height="14.2" fill="#63ff9c"/>
<rect x="519.2" y="438" width="14.2" height="14.2" fill="#6cff93"/>
<rect x="533.1" y="438" width="14.2" height="14.2" fill="#77ff88"/>
<rect x="546.9" y="438" width="14.2" height="14.2" fill="#97ff68"/>
<rect x="560.7" y="438" width="14.2" height="14.2" fill="#96ff69"/>
<rect x="574.6" y="438" width="14.2" height="14.2" fill="#9fff60"/>
<rect x="588.4" y="438" width="14.2" height="14.2" fill="#b2ff4d"/>
<rect x="602.3" y="438" width="14.2" height="14.2" fill="#b8ff47"/>
<rect x="256.3" y="451.8" width="14.2" height="14.2" fill="#ff7600"/>
<rect x="270.1" y="451.8" width="14.2" height="14.2" fill="#ff7200"/>
<rect x="283.9" y="451.8" width="14.2" height="14.2" fill="#ff6b00"/>
<rect x="297.8" y="451.8" width="14.2" height="14.2" fill="#ff6f00"/>
<rect x="311.6" y="451.8" width="14.2" height="14.2" fill="#ff8200"/>
<rect x="325.5" y="451.8" width="14.2" height="14.2" fill="#ff9d00"/>
<rect x="339.3" y="451.8" width="14.2" height="14.2" fill="#ffc900"/>
<rect x="353.1" y="451.8" width="14.2" height="14.2" fill="#f3ff0c"/>
<rect x="367" y="451.8" width="14.2" height="14.2" fill="#b8ff47"/>
<rect x="380.8" y="451.8" width="14.2" height="14.2" fill="#97ff68"/>
<rect x="394.7" y="451.8" width="14.2" height="14.2" fill="#99ff66"/>
<rect x="408.5" y="451.8" width="14.2" height="14.2" fill="#9cff63"/>
<rect x="422.3" y="451.8" width="14.2" height="14.2" fill="#a1ff5e"/>
<rect x="436.2" y="451.8" width="14.2" height="14.2" fill="#a7ff58"/>
<rect x="450" y="451.8" width="14.2" height="14.2" fill="#9eff61"/>
<rect x="463.9" y="451.8" width="14.2" height="14.2" fill="#89ff76"/>
<rect x="477.7" y="451.8" width="14.2" height="14.2" fill="#70ff8f"/>
<rect x="491.5" y="451.8" width="14.2" height="14.2" fill="#64ff9b"/>
<rect x="505.4" y="451.8" width="14.2" height="14.2" fill="#69ff96"/>
<rect x="519.2" y="451.8" width="14.2" height="14.2" fill="#76ff89"/>
<rect x="533.1" y="451.8" width="14.2" height="14.2" fill="#7fff80"/>
<rect x="546.9" y="451.8" width="14.2" height="14.2" fill="#8eff71"/>
<rect x="560.7" y="451.8" width="14.2" height="14.2" fill="#9bff64"/>
<rect x="574.6" y="451.8" width="14.2" height="14.2" fill="#a7ff58"/>
<rect x="588.4" y="451.8" width="14.2" height="14.2" fill="#bbff44"/>
<rect x="602.3" y="451.8" width="14.2" height="14.2" fill="#bfff40"/>
<rect x="270.1" y="465.6" width="14.2" height="14.2" fill="#ff9300"/>
<rect x="283.9" y="465.6" width="14.2" height="14.2" fill="#ff8d00"/>
<rect x="297.8" y="465.6" width="14.2" height="14.2" fill="#ff8400"/>
<rect x="311.6" y="465.6" width="14.2" height="14.2" fill="#ff7b00"/>
<rect x="325.5" y="465.6" width="14.2" height="14.2" fill="#ff7e00"/>
<rect x="339.3" y="465.6" width="14.2" height="14.2" fill="#ffa800"/>
<rect x="353.1" y="465.6" width="14.2" height="14.2" fill="#ffed00"/>
<rect x="367" y="465.6" width="14.2" height="14.2" fill="#e1ff1e"/>
<rect x="380.8" y="465.6" width="14.2" height="14.2" fill="#caff35"/>
<rect x="394.7" y="465.6" width="14.2" height="14.2" fill="#c6ff39"/>
<rect x="408.5" y="465.6" width="14.2" height="14.2" fill="#b9ff46"/>
<rect x="422.3" y="465.6" width="14.2" height="14.2" fill="#b6ff49"/>
<rect x="436.2" y="465.6" width="14.2" height="14.2" fill="#b5ff4a"/>
<rect x="450" y="465.6" width="14.2" height="14.2" fill="#a2ff5d"/>
<rect x="463.9" y="465.6" width="14.2" height="14.2" fill="#87ff78"/>
<rect x="477.7" y="465.6" width="14.2" height="14.2" fill="#6aff95"/>
<rect x="491.5" y="465.6" width="14.2" height="14.2" fill="#69ff96"/>
<rect x="505.4" y="465.6" width="14.2" height="14.2" fill="#7bff84"/>
<rect x="519.2" y="465.6" width="14.2" height="14.2" fill="#88ff77"/>
<rect x="533.1" y="465.6" width="14.2" height="14.2" fill="#8bff74"/>
<rect x="546.9" y="465.6" width="14.2" height="14.2" fill="#92ff6d"/>
<rect x="560.7" y="465.6" width="14.2" height="14.2" fill="#a6ff59"/>
<rect x="574.6" y="465.6" width="14.2" height="14.2" fill="#b6ff49"/>
<rect x="283.9" y="479.5" width="14.2" height="14.2" fill="#ffb700"/>
<rect x="297.8" y="479.5" width="14.2" height="14.2" fill="#ffa300"/>
<rect x="311.6" y="479.5" width="14.2" height="14.2" fill="#ff9100"/>
<rect x="325.5" y="479.5" width="14.2" height="14.2" fill="#ff9300"/>
<rect x="339.3" y="479.5" width="14.2" height="14.2" fill="#ffb300"/>
<rect x="353.1" y="479.5" width="14.2" height="14.2" fill="#ffe100"/>
<rect x="367" y="479.5" width="14.2" height="14.2" fill="#fffb00"/>
<rect x="380.8" y="479.5" width="14.2" height="14.2" fill="#f8ff07"/>
<rect x="394.7" y="479.5" width="14.2" height="14.2" fill="#ecff13"/>
<rect x="408.5" y="479.5" width="14.2" height="14.2" fill="#cdff32"/>
<rect x="422.3" y="479.5" width="14.2" height="14.2" fill="#c2ff3d"/>
<rect x="436.2" y="479.5" width="14.2" height="14.2" fill="#c1ff3e"/>
<rect x="450" y="479.5" width="14.2" height="14.2" fill="#a8ff57"/>
<rect x="463.9" y="479.5" width="14.2" height="14.2" fill="#80ff7f"/>
<rect x="477.7" y="479.5" width="14.2" height="14.2" fill="#67ff98"/>
<rect x="491.5" y="479.5" width="14.2" height="14.2" fill="#74ff8b"/>
<rect x="505.4" y="479.5" width="14.2" height="14.2" fill="#88ff77"/>
<rect x="519.2" y="479.5" width="14.2" height="14.2" fill="#91ff6e"/>
<rect x="533.1" y="479.5" width="14.2" height="14.2" fill="#97ff68"/>
<rect x="546.9" y="479.5" width="14.2" height="14.2" fill="#a1ff5e"/>
<rect x="283.9" y="493.3" width="14.2" height="14.2" fill="#ffeb00"/>
<rect x="297.8" y="493.3" width="14.2" height="14.2" fill="#ffc200"/>
<rect x="311.6" y="493.3" width="14.2" height="14.2" fill="#ffb200"/>
<rect x="325.5" y="493.3" width="14.2" height="14.2" fill="#ffb700"/>
<rect x="339.3" y="493.3" width="14.2" height="14.2" fill="#ffca00"/>
<rect x="353.1" y="493.3" width="14.2" height="14.2" fill="#ffde00"/>
<rect x="367" y="493.3" width="14.2" height="14.2" fill="#ffe600"/>
<rect x="380.8" y="493.3" width="14.2" height="14.2" fill="#ffe900"/>
<rect x="394.7" y="493.3" width="14.2" height="14.2" fill="#fffa00"/>
<rect x="408.5" y="493.3" width="14.2" height="14.2" fill="#daff25"/>
<rect x="422.3" y="493.3" width="14.2" height="14.2" fill="#beff41"/>
<rect x="436.2" y="493.3" width="14.2" height="14.2" fill="#c5ff3a"/>
<rect x="450" y="493.3" width="14.2" height="14.2" fill="#b2ff4d"/>
<rect x="463.9" y="493.3" width="14.2" height="14.2" fill="#90ff6f"/>
<rect x="477.7" y="493.3" width="14.2" height="14.2" fill="#86ff79"/>
<rect x="491.5" y="493.3" width="14.2" height="14.2" fill="#8fff70"/>
<rect x="505.4" y="493.3" width="14.2" height="14.2" fill="#97ff68"/>
<rect x="519.2" y="493.3" width="14.2" height="14.2" fill="#9cff63"/>
<rect x="297.8" y="507.2" width="14.2" height="14.2" fill="#fff600"/>
<rect x="311.6" y="507.2" width="28.1" height="14.2" fill="#ffdd00"/>
<rect x="339.3" y="507.2" width="28.1" height="14.2" fill="#ffd800"/>
<rect x="367" y="507.2" width="14.2" height="14.2" fill="#ffdc00"/>
<rect x="380.8" y="507.2" width="14.2" height="14.2" fill="#ffd800"/>
<rect x="394.7" y="507.2" width="14.2" height="14.2" fill="#ffda00"/>
<rect x="408.5" y="507.2" width="14.2" height="14.2" fill="#fdff02"/>
<rect x="422.3" y="507.2" width="14.2" height="14.2" fill="#d5ff2a"/>
<rect x="436.2" y="507.2" width="14.2" height="14.2" fill="#deff21"/>
<rect x="450" y="507.2" width="14.2" height="14.2" fill="#c4ff3b"/>
<rect x="463.9" y="507.2" width="14.2" height="14.2" fill="#c3ff3c"/>
<rect x="477.7" y="507.2" width="14.2" height="14.2" fill="#b5ff4a"/>
<rect x="491.5" y="507.2" width="14.2" height="14.2" fill="#abff54"/>
<rect x="297.8" y="521" width="14.2" height="14.2" fill="#f5ff0a"/>
<rect x="311.6" y="521" width="14.2" height="14.2" fill="#feff01"/>
<rect x="325.5" y="521" width="14.2" height="14.2" fill="#fff300"/>
<rect x="339.3" y="521" width="14.2" height="14.2" fill="#ffd600"/>
<rect x="353.1" y="521" width="14.2" height="14.2" fill="#ffd000"/>
<rect x="367" y="521" width="28.1" height="14.2" fill="#ffdc00"/>
<rect x="394.7" y="521" width="14.2" height="14.2" fill="#ffd400"/>
<rect x="408.5" y="521" width="14.2" height="14.2" fill="#ffcd00"/>
<rect x="422.3" y="521" width="14.2" height="14.2" fill="#ffb900"/>
<rect x="436.2" y="521" width="14.2" height="14.2" fill="#ffcf00"/>
<rect x="450" y="521" width="14.2" height="14.2" fill="#d7ff28"/>
<rect x="463.9" y="521" width="14.2" height="14.2" fill="#caff35"/>
<rect x="477.7" y="521" width="14.2" height="14.2" fill="#beff41"/>
<rect x="311.6" y="534.8" width="14.2" height="14.2" fill="#ffda00"/>
<rect x="325.5" y="534.8" width="14.2" height="14.2" fill="#ffc200"/>
<rect x="339.3" y="534.8" width="14.2" height="14.2" fill="#ffb100"/>
<rect x="353.1" y="534.8" width="14.2" height="14.2" fill="#ffb700"/>
<rect x="367" y="534.8" width="14.2" height="14.2" fill="#ffd300"/>
<rect x="380.8" y="534.8" width="14.2" height="14.2" fill="#ffe600"/>
<rect x="394.7" y="534.8" width="14.2" height="14.2" fill="#ffe500"/>
<rect x="408.5" y="534.8" width="14.2" height="14.2" fill="#ffd200"/>
<rect x="422.3" y="534.8" width="14.2" height="14.2" fill="#ffb100"/>
<rect x="436.2" y="534.8" width="14.2" height="14.2" fill="#ffb500"/>
<rect x="450" y="534.8" width="14.2" height="14.2" fill="#ffc900"/>
<rect x="325.5" y="548.7" width="14.2" height="14.2" fill="#ff8600"/>
<rect x="339.3" y="548.7" width="14.2" height="14.2" fill="#ff8000"/>
<rect x="353.1" y="548.7" width="14.2" height="14.2" fill="#ff8d00"/>
<rect x="367" y="548.7" width="14.2" height="14.2" fill="#ffb500"/>
<rect x="380.8" y="548.7" width="14.2" height="14.2" fill="#ffe200"/>
<rect x="394.7" y="548.7" width="14.2" height="14.2" fill="#ffee00"/>
<rect x="408.5" y="548.7" width="14.2" height="14.2" fill="#ffd300"/>
<rect x="422.3" y="548.7" width="14.2" height="14.2" fill="#ffb600"/>
<rect x="436.2" y="548.7" width="14.2" height="14.2" fill="#ffb700"/>
<rect x="325.5" y="562.5" width="14.2" height="14.2" fill="#ff6100"/>
<rect x="339.3" y="562.5" width="14.2" height="14.2" fill="#ff6000"/>
<rect x="353.1" y="562.5" width="14.2" height="14.2" fill="#ff7000"/>
<rect x="367" y="562.5" width="14.2" height="14.2" fill="#ff9600"/>
<rect x="380.8" y="562.5" width="14.2" height="14.2" fill="#ffd700"/>
<rect x="394.7" y="562.5" width="14.2" height="14.2" fill="#fff100"/>
<rect x="408.5" y="562.5" width="14.2" height="14.2" fill="#ffdf00"/>
<rect x="339.3" y="576.4" width="14.2" height="14.2" fill="#ff5400"/>
<rect x="353.1" y="576.4" width="14.2" height="14.2" fill="#ff6700"/>
<rect x="367" y="576.4" width="14.2" height="14.2" fill="#ff8e00"/>
<rect x="380.8" y="576.4" width="14.2" height="14.2" fill="#ffce00"/>
<rect x="394.7" y="576.4" width="14.2" height="14.2" fill="#fff000"/>
<rect x="408.5" y="576.4" width="14.2" height="14.2" fill="#ffea00"/>
<rect x="353.1" y="590.2" width="14.2" height="14.2" fill="#ff6500"/>
<rect x="367" y="590.2" width="14.2" height="14.2" fill="#ff8d00"/>
</g>
<g shape-rendering="crispEdges">
<rect x="946.1" y="105.8" width="14.2" height="14.2" fill="#6dff92"/>
<rect x="959.9" y="105.8" width="14.2" height="14.2" fill="#94ff6b"/>
<rect x="973.7" y="105.8" width="14.2" height="14.2" fill="#c1ff3e"/>
<rect x="987.6" y="105.8" width="14.2" height="14.2" fill="#e9ff16"/>
<rect x="1001.4" y="105.8" width="14.2" height="14.2" fill="#fff700"/>
<rect x="1015.3" y="105.8" width="14.2" height="14.2" fill="#ffe800"/>
<rect x="1029.1" y="105.8" width="14.2" height="14.2" fill="#ffdd00"/>
<rect x="1042.9" y="105.8" width="14.2" height="14.2" fill="#ffd800"/>
<rect x="932.2" y="119.6" width="14.2" height="14.2" fill="#48ffb7"/>
<rect x="946.1" y="119.6" width="14.2" height="14.2" fill="#37ffc8"/>
<rect x="959.9" y="119.6" width="14.2" height="14.2" fill="#59ffa6"/>
<rect x="973.7" y="119.6" width="14.2" height="14.2" fill="#7aff85"/>
<rect x="987.6" y="119.6" width="14.2" height="14.2" fill="#c5ff3a"/>
<rect x="1001.4" y="119.6" width="14.2" height="14.2" fill="#f1ff0e"/>
<rect x="1015.3" y="119.6" width="14.2" height="14.2" fill="#fffd00"/>
<rect x="1029.1" y="119.6" width="14.2" height="14.2" fill="#fff300"/>
<rect x="1042.9" y="119.6" width="14.2" height="14.2" fill="#ffef00"/>
<rect x="918.4" y="133.5" width="14.2" height="14.2" fill="#33ffcc"/>
<rect x="932.2" y="133.5" width="14.2" height="14.2" fill="#41ffbe"/>
<rect x="946.1" y="133.5" width="14.2" height="14.2" fill="#42ffbd"/>
<rect x="959.9" y="133.5" width="14.2" height="14.2" fill="#56ffa9"/>
<rect x="973.7" y="133.5" width="14.2" height="14.2" fill="#88ff77"/>
<rect x="987.6" y="133.5" width="14.2" height="14.2" fill="#b0ff4f"/>
<rect x="1001.4" y="133.5" width="14.2" height="14.2" fill="#d5ff2a"/>
<rect x="1015.3" y="133.5" width="14.2" height="14.2" fill="#ecff13"/>
<rect x="1029.1" y="133.5" width="14.2" height="14.2" fill="#f6ff09"/>
<rect x="1042.9" y="133.5" width="14.2" height="14.2" fill="#faff05"/>
<rect x="1056.8" y="133.5" width="14.2" height="14.2" fill="#fffd00"/>
<rect x="890.7" y="147.3" width="14.2" height="14.2" fill="#2dffd2"/>
<rect x="904.5" y="147.3" width="14.2" height="14.2" fill="#29ffd6"/>
<rect x="918.4" y="147.3" width="14.2" height="14.2" fill="#24ffdb"/>
<rect x="932.2" y="147.3" width="14.2" height="14.2" fill="#30ffcf"/>
<rect x="946.1" y="147.3" width="14.2" height="14.2" fill="#46ffb9"/>
<rect x="959.9" y="147.3" width="14.2" height="14.2" fill="#34ffcb"/>
<rect x="973.7" y="147.3" width="14.2" height="14.2" fill="#63ff9c"/>
<rect x="987.6" y="147.3" width="14.2" height="14.2" fill="#90ff6f"/>
<rect x="1001.4" y="147.3" width="14.2" height="14.2" fill="#b1ff4e"/>
<rect x="1015.3" y="147.3" width="14.2" height="14.2" fill="#d3ff2c"/>
<rect x="1029.1" y="147.3" width="14.2" height="14.2" fill="#e9ff16"/>
<rect x="1042.9" y="147.3" width="14.2" height="14.2" fill="#eeff11"/>
<rect x="1056.8" y="147.3" width="14.2" height="14.2" fill="#f5ff0a"/>
<rect x="1070.6" y="147.3" width="14.2" height="14.2" fill="#ffff00"/>
<rect x="876.9" y="161.2" width="14.2" height="14.2" fill="#2fffd0"/>
<rect x="890.7" y="161.2" width="14.2" height="14.2" fill="#30ffcf"/>
<rect x="904.5" y="161.2" width="14.2" height="14.2" fill="#2cffd3"/>
<rect x="918.4" y="161.2" width="14.2" height="14.2" fill="#27ffd8"/>
<rect x="932.2" y="161.2" width="14.2" height="14.2" fill="#2dffd2"/>
<rect x="946.1" y="161.2" width="14.2" height="14.2" fill="#3affc5"/>
<rect x="959.9" y="161.2" width="14.2" height="14.2" fill="#46ffb9"/>
<rect x="973.7" y="161.2" width="14.2" height="14.2" fill="#6bff94"/>
<rect x="987.6" y="161.2" width="14.2" height="14.2" fill="#7dff82"/>
<rect x="1001.4" y="161.2" width="14.2" height="14.2" fill="#9dff62"/>
<rect x="1015.3" y="161.2" width="14.2" height="14.2" fill="#bfff40"/>
<rect x="1029.1" y="161.2" width="14.2" height="14.2" fill="#e0ff1f"/>
<rect x="1042.9" y="161.2" width="14.2" height="14.2" fill="#ecff13"/>
<rect x="1056.8" y="161.2" width="14.2" height="14.2" fill="#f2ff0d"/>
<rect x="1070.6" y="161.2" width="14.2" height="14.2" fill="#faff05"/>
<rect x="849.2" y="175" width="14.2" height="14.2" fill="#33ffcc"/>
<rect x="863" y="175" width="14.2" height="14.2" fill="#2fffd0"/>
<rect x="876.9" y="175" width="14.2" height="14.2" fill="#35ffca"/>
<rect x="890.7" y="175" width="28.1" height="14.2" fill="#3cffc3"/>
<rect x="918.4" y="175" width="14.2" height="14.2" fill="#38ffc7"/>
<rect x="932.2" y="175" width="14.2" height="14.2" fill="#33ffcc"/>
<rect x="946.1" y="175" width="14.2" height="14.2" fill="#35ffca"/>
<rect x="959.9" y="175" width="14.2" height="14.2" fill="#3fffc0"/>
<rect x="973.7" y="175" width="14.2" height="14.2" fill="#55ffaa"/>
<rect x="987.6" y="175" width="14.2" height="14.2" fill="#6fff90"/>
<rect x="1001.4" y="175" width="14.2" height="14.2" fill="#b1ff4e"/>
<rect x="1015.3" y="175" width="14.2" height="14.2" fill="#b9ff46"/>
<rect x="1029.1" y="175" width="14.2" height="14.2" fill="#d4ff2b"/>
<rect x="1042.9" y="175" width="14.2" height="14.2" fill="#ecff13"/>
<rect x="1056.8" y="175" width="14.2" height="14.2" fill="#f5ff0a"/>
<rect x="1070.6" y="175" width="14.2" height="14.2" fill="#f9ff06"/>
<rect x="1084.5" y="175" width="14.2" height="14.2" fill="#fffe00"/>
<rect x="821.5" y="188.8" width="14.2" height="14.2" fill="#5bffa4"/>
<rect x="835.3" y="188.8" width="14.2" height="14.2" fill="#44ffbb"/>
<rect x="849.2" y="188.8" width="28.1" height="14.2" fill="#37ffc8"/>
<rect x="876.9" y="188.8" width="14.2" height="14.2" fill="#45ffba"/>
<rect x="890.7" y="188.8" width="14.2" height="14.2" fill="#58ffa7"/>
<rect x="904.5" y="188.8" width="14.2" height="14.2" fill="#63ff9c"/>
<rect x="918.4" y="188.8" width="14.2" height="14.2" fill="#62ff9d"/>
<rect x="932.2" y="188.8" width="14.2" height="14.2" fill="#53ffac"/>
<rect x="946.1" y="188.8" width="14.2" height="14.2" fill="#46ffb9"/>
<rect x="959.9" y="188.8" width="14.2" height="14.2" fill="#47ffb8"/>
<rect x="973.7" y="188.8" width="14.2" height="14.2" fill="#60ff9f"/>
<rect x="987.6" y="188.8" width="14.2" height="14.2" fill="#8aff75"/>
<rect x="1001.4" y="188.8" width="14.2" height="14.2" fill="#c1ff3e"/>
<rect x="1015.3" y="188.8" width="14.2" height="14.2" fill="#c3ff3c"/>
<rect x="1029.1" y="188.8" width="14.2" height="14.2" fill="#d5ff2a"/>
<rect x="1042.9" y="188.8" width="14.2" height="14.2" fill="#ecff13"/>
<rect x="1056.8" y="188.8" width="14.2" height="14.2" fill="#f6ff09"/>
<rect x="1070.6" y="188.8" width="14.2" height="14.2" fill="#f9ff06"/>
<rect x="1084.5" y="188.8" width="14.2" height="14.2" fill="#feff01"/>
<rect x="807.7" y="202.7" width="14.2" height="14.2" fill="#8bff74"/>
<rect x="821.5" y="202.7" width="14.2" height="14.2" fill="#64ff9b"/>
<rect x="835.3" y="202.7" width="14.2" height="14.2" fill="#4affb5"/>
<rect x="849.2" y="202.7" width="14.2" height="14.2" fill="#41ffbe"/>
<rect x="863" y="202.7" width="14.2" height="14.2" fill="#4affb5"/>
<rect x="876.9" y="202.7" width="14.2" height="14.2" fill="#67ff98"/>
<rect x="890.7" y="202.7" width="14.2" height="14.2" fill="#82ff7d"/>
<rect x="904.5" y="202.7" width="14.2" height="14.2" fill="#98ff67"/>
<rect x="918.4" y="202.7" width="14.2" height="14.2" fill="#9dff62"/>
<rect x="932.2" y="202.7" width="14.2" height="14.2" fill="#8fff70"/>
<rect x="946.1" y="202.7" width="14.2" height="14.2" fill="#7cff83"/>
<rect x="959.9" y="202.7" width="14.2" height="14.2" fill="#73ff8c"/>
<rect x="973.7" y="202.7" width="14.2" height="14.2" fill="#82ff7d"/>
<rect x="987.6" y="202.7" width="14.2" height="14.2" fill="#a1ff5e"/>
<rect x="1001.4" y="202.7" width="14.2" height="14.2" fill="#bcff43"/>
<rect x="1015.3" y="202.7" width="14.2" height="14.2" fill="#c9ff36"/>
<rect x="1029.1" y="202.7" width="14.2" height="14.2" fill="#d8ff27"/>
<rect x="1042.9" y="202.7" width="14.2" height="14.2" fill="#eaff15"/>
<rect x="1056.8" y="202.7" width="14.2" height="14.2" fill="#f5ff0a"/>
<rect x="1070.6" y="202.7" width="14.2" height="14.2" fill="#f8ff07"/>
<rect x="1084.5" y="202.7" width="14.2" height="14.2" fill="#fcff03"/>
<rect x="1098.3" y="202.7" width="14.2" height="14.2" fill="#fffc00"/>
<rect x="780" y="216.5" width="14.2" height="14.2" fill="#e8ff17"/>
<rect x="793.8" y="216.5" width="14.2" height="14.2" fill="#d3ff2c"/>
<rect x="807.7" y="216.5" width="14.2" height="14.2" fill="#a1ff5e"/>
<rect x="821.5" y="216.5" width="14.2" height="14.2" fill="#6dff92"/>
<rect x="835.3" y="216.5" width="14.2" height="14.2" fill="#4dffb2"/>
<rect x="849.2" y="216.5" width="14.2" height="14.2" fill="#4bffb4"/>
<rect x="863" y="216.5" width="14.2" height="14.2" fill="#62ff9d"/>
<rect x="876.9" y="216.5" width="14.2" height="14.2" fill="#85ff7a"/>
<rect x="890.7" y="216.5" width="14.2" height="14.2" fill="#a1ff5e"/>
<rect x="904.5" y="216.5" width="14.2" height="14.2" fill="#bbff44"/>
<rect x="918.4" y="216.5" width="14.2" height="14.2" fill="#caff35"/>
<rect x="932.2" y="216.5" width="14.2" height="14.2" fill="#c7ff38"/>
<rect x="946.1" y="216.5" width="14.2" height="14.2" fill="#c1ff3e"/>
<rect x="959.9" y="216.5" width="14.2" height="14.2" fill="#b2ff4d"/>
<rect x="973.7" y="216.5" width="14.2" height="14.2" fill="#abff54"/>
<rect x="987.6" y="216.5" width="14.2" height="14.2" fill="#b1ff4e"/>
<rect x="1001.4" y="216.5" width="14.2" height="14.2" fill="#bbff44"/>
<rect x="1015.3" y="216.5" width="14.2" height="14.2" fill="#c6ff39"/>
<rect x="1029.1" y="216.5" width="14.2" height="14.2" fill="#d6ff29"/>
<rect x="1042.9" y="216.5" width="14.2" height="14.2" fill="#e6ff19"/>
<rect x="1056.8" y="216.5" width="14.2" height="14.2" fill="#f1ff0e"/>
<rect x="1070.6" y="216.5" width="14.2" height="14.2" fill="#f5ff0a"/>
<rect x="1084.5" y="216.5" width="14.2" height="14.2" fill="#f8ff07"/>
<rect x="1098.3" y="216.5" width="14.2" height="14.2" fill="#ffff00"/>
<rect x="1112.1" y="216.5" width="14.2" height="14.2" fill="#fff600"/>
<rect x="766.1" y="230.4" width="14.2" height="14.2" fill="#ffec00"/>
<rect x="780" y="230.4" width="14.2" height="14.2" fill="#fffc00"/>
<rect x="793.8" y="230.4" width="14.2" height="14.2" fill="#fffe00"/>
<rect x="807.7" y="230.4" width="14.2" height="14.2" fill="#b3ff4c"/>
<rect x="821.5" y="230.4" width="14.2" height="14.2" fill="#72ff8d"/>
<rect x="835.3" y="230.4" width="28.1" height="14.2" fill="#4bffb4"/>
<rect x="863" y="230.4" width="14.2" height="14.2" fill="#62ff9d"/>
<rect x="876.9" y="230.4" width="14.2" height="14.2" fill="#87ff78"/>
<rect x="890.7" y="230.4" width="14.2" height="14.2" fill="#a6ff59"/>
<rect x="904.5" y="230.4" width="14.2" height="14.2" fill="#c9ff36"/>
<rect x="918.4" y="230.4" width="14.2" height="14.2" fill="#ebff14"/>
<rect x="932.2" y="230.4" width="28.1" height="14.2" fill="#faff05"/>
<rect x="959.9" y="230.4" width="14.2" height="14.2" fill="#e6ff19"/>
<rect x="973.7" y="230.4" width="14.2" height="14.2" fill="#cbff34"/>
<rect x="987.6" y="230.4" width="14.2" height="14.2" fill="#b9ff46"/>
<rect x="1001.4" y="230.4" width="14.2" height="14.2" fill="#b6ff49"/>
<rect x="1015.3" y="230.4" width="14.2" height="14.2" fill="#c2ff3d"/>
<rect x="1029.1" y="230.4" width="14.2" height="14.2" fill="#d4ff2b"/>
<rect x="1042.9" y="230.4" width="14.2" height="14.2" fill="#e2ff1d"/>
<rect x="1056.8" y="230.4" width="14.2" height="14.2" fill="#edff12"/>
<rect x="1070.6" y="230.4" width="14.2" height="14.2" fill="#f3ff0c"/>
<rect x="1084.5" y="230.4" width="14.2" height="14.2" fill="#f7ff08"/>
<rect x="1098.3" y="230.4" width="14.2" height="14.2" fill="#fdff02"/>
<rect x="1112.1" y="230.4" width="14.2" height="14.2" fill="#fff900"/>
<rect x="752.3" y="244.2" width="14.2" height="14.2" fill="#ffd300"/>
<rect x="766.1" y="244.2" width="14.2" height="14.2" fill="#ffe100"/>
<rect x="780" y="244.2" width="14.2" height="14.2" fill="#fffa00"/>
<rect x="793.8" y="244.2" width="14.2" height="14.2" fill="#deff21"/>
<rect x="807.7" y="244.2" width="14.2" height="14.2" fill="#a4ff5b"/>
<rect x="821.5" y="244.2" width="14.2" height="14.2" fill="#6fff90"/>
<rect x="835.3" y="244.2" width="14.2" height="14.2" fill="#52ffad"/>
<rect x="849.2" y="244.2" width="14.2" height="14.2" fill="#49ffb6"/>
<rect x="863" y="244.2" width="14.2" height="14.2" fill="#4bffb4"/>
<rect x="876.9" y="244.2" width="14.2" height="14.2" fill="#6bff94"/>
<rect x="890.7" y="244.2" width="14.2" height="14.2" fill="#96ff69"/>
<rect x="904.5" y="244.2" width="14.2" height="14.2" fill="#caff35"/>
<rect x="918.4" y="244.2" width="14.2" height="14.2" fill="#fff900"/>
<rect x="932.2" y="244.2" width="14.2" height="14.2" fill="#ffd500"/>
<rect x="946.1" y="244.2" width="14.2" height="14.2" fill="#ffdb00"/>
<rect x="959.9" y="244.2" width="14.2" height="14.2" fill="#fffc00"/>
<rect x="973.7" y="244.2" width="14.2" height="14.2" fill="#deff21"/>
<rect x="987.6" y="244.2" width="14.2" height="14.2" fill="#c0ff3f"/>
<rect x="1001.4" y="244.2" width="14.2" height="14.2" fill="#bfff40"/>
<rect x="1015.3" y="244.2" width="14.2" height="14.2" fill="#ccff33"/>
<rect x="1029.1" y="244.2" width="14.2" height="14.2" fill="#d6ff29"/>
<rect x="1042.9" y="244.2" width="14.2" height="14.2" fill="#e0ff1f"/>
<rect x="1056.8" y="244.2" width="14.2" height="14.2" fill="#e8ff17"/>
<rect x="1070.6" y="244.2" width="14.2" height="14.2" fill="#efff10"/>
<rect x="1084.5" y="244.2" width="14.2" height="14.2" fill="#f4ff0b"/>
<rect x="1098.3" y="244.2" width="14.2" height="14.2" fill="#faff05"/>
<rect x="1112.1" y="244.2" width="14.2" height="14.2" fill="#fffd00"/>
<rect x="1126" y="244.2" width="14.2" height="14.2" fill="#fff400"/>
<rect x="752.3" y="258" width="14.2" height="14.2" fill="#ffd000"/>
<rect x="766.1" y="258" width="14.2" height="14.2" fill="#ffe300"/>
<rect x="780" y="258" width="14.2" height="14.2" fill="#feff01"/>
<rect x="793.8" y="258" width="14.2" height="14.2" fill="#d5ff2a"/>
<rect x="807.7" y="258" width="14.2" height="14.2" fill="#9fff60"/>
<rect x="821.5" y="258" width="14.2" height="14.2" fill="#74ff8b"/>
<rect x="835.3" y="258" width="14.2" height="14.2" fill="#5fffa0"/>
<rect x="849.2" y="258" width="14.2" height="14.2" fill="#4affb5"/>
<rect x="863" y="258" width="14.2" height="14.2" fill="#41ffbe"/>
<rect x="876.9" y="258" width="14.2" height="14.2" fill="#4cffb3"/>
<rect x="890.7" y="258" width="14.2" height="14.2" fill="#73ff8c"/>
<rect x="904.5" y="258" width="14.2" height="14.2" fill="#b5ff4a"/>
<rect x="918.4" y="258" width="14.2" height="14.2" fill="#fffe00"/>
<rect x="932.2" y="258" width="14.2" height="14.2" fill="#ffb600"/>
<rect x="946.1" y="258" width="14.2" height="14.2" fill="#ffb700"/>
<rect x="959.9" y="258" width="14.2" height="14.2" fill="#fff000"/>
<rect x="973.7" y="258" width="14.2" height="14.2" fill="#ecff13"/>
<rect x="987.6" y="258" width="14.2" height="14.2" fill="#dbff24"/>
<rect x="1001.4" y="258" width="14.2" height="14.2" fill="#e0ff1f"/>
<rect x="1015.3" y="258" width="14.2" height="14.2" fill="#ddff22"/>
<rect x="1029.1" y="258" width="14.2" height="14.2" fill="#daff25"/>
<rect x="1042.9" y="258" width="14.2" height="14.2" fill="#dcff23"/>
<rect x="1056.8" y="258" width="14.2" height="14.2" fill="#e2ff1d"/>
<rect x="1070.6" y="258" width="14.2" height="14.2" fill="#e9ff16"/>
<rect x="1084.5" y="258" width="14.2" height="14.2" fill="#efff10"/>
<rect x="1098.3" y="258" width="14.2" height="14.2" fill="#f5ff0a"/>
<rect x="1112.1" y="258" width="14.2" height="14.2" fill="#fdff02"/>
<rect x="1126" y="258" width="14.2" height="14.2" fill="#fff800"/>
<rect x="1139.8" y="258" width="14.2" height="14.2" fill="#ffef00"/>
<rect x="766.1" y="271.9" width="14.2" height="14.2" fill="#ffe600"/>
<rect x="780" y="271.9" width="14.2" height="14.2" fill="#feff01"/>
<rect x="793.8" y="271.9" width="14.2" height="14.2" fill="#dfff20"/>
<rect x="807.7" y="271.9" width="14.2" height="14.2" fill="#b6ff49"/>
<rect x="821.5" y="271.9" width="14.2" height="14.2" fill="#8dff72"/>
<rect x="835.3" y="271.9" width="14.2" height="14.2" fill="#6bff94"/>
<rect x="849.2" y="271.9" width="14.2" height="14.2" fill="#47ffb8"/>
<rect x="863" y="271.9" width="14.2" height="14.2" fill="#34ffcb"/>
<rect x="876.9" y="271.9" width="14.2" height="14.2" fill="#2cffd3"/>
<rect x="890.7" y="271.9" width="14.2" height="14.2" fill="#41ffbe"/>
<rect x="904.5" y="271.9" width="14.2" height="14.2" fill="#8bff74"/>
<rect x="918.4" y="271.9" width="14.2" height="14.2" fill="#e0ff1f"/>
<rect x="932.2" y="271.9" width="14.2" height="14.2" fill="#ffe600"/>
<rect x="946.1" y="271.9" width="14.2" height="14.2" fill="#ffdd00"/>
<rect x="959.9" y="271.9" width="14.2" height="14.2" fill="#fffc00"/>
<rect x="973.7" y="271.9" width="14.2" height="14.2" fill="#ecff13"/>
<rect x="987.6" y="271.9" width="14.2" height="14.2" fill="#e5ff1a"/>
<rect x="1001.4" y="271.9" width="14.2" height="14.2" fill="#e4ff1b"/>
<rect x="1015.3" y="271.9" width="14.2" height="14.2" fill="#ddff22"/>
<rect x="1029.1" y="271.9" width="14.2" height="14.2" fill="#d6ff29"/>
<rect x="1042.9" y="271.9" width="14.2" height="14.2" fill="#d4ff2b"/>
<rect x="1056.8" y="271.9" width="14.2" height="14.2" fill="#d9ff26"/>
<rect x="1070.6" y="271.9" width="14.2" height="14.2" fill="#e1ff1e"/>
<rect x="1084.5" y="271.9" width="14.2" height="14.2" fill="#e9ff16"/>
<rect x="1098.3" y="271.9" width="14.2" height="14.2" fill="#f0ff0f"/>
<rect x="1112.1" y="271.9" width="14.2" height="14.2" fill="#f9ff06"/>
<rect x="1126" y="271.9" width="14.2" height="14.2" fill="#fffd00"/>
<rect x="1139.8" y="271.9" width="14.2" height="14.2" fill="#fff400"/>
<rect x="780" y="285.7" width="14.2" height="14.2" fill="#fffc00"/>
<rect x="793.8" y="285.7" width="14.2" height="14.2" fill="#f4ff0b"/>
<rect x="807.7" y="285.7" width="14.2" height="14.2" fill="#dbff24"/>
<rect x="821.5" y="285.7" width="14.2" height="14.2" fill="#b7ff48"/>
<rect x="835.3" y="285.7" width="14.2" height="14.2" fill="#87ff78"/>
<rect x="849.2" y="285.7" width="14.2" height="14.2" fill="#5cffa3"/>
<rect x="863" y="285.7" width="14.2" height="14.2" fill="#36ffc9"/>
<rect x="876.9" y="285.7" width="14.2" height="14.2" fill="#21ffde"/>
<rect x="890.7" y="285.7" width="14.2" height="14.2" fill="#28ffd7"/>
<rect x="904.5" y="285.7" width="14.2" height="14.2" fill="#5fffa0"/>
<rect x="918.4" y="285.7" width="14.2" height="14.2" fill="#b0ff4f"/>
<rect x="932.2" y="285.7" width="14.2" height="14.2" fill="#e9ff16"/>
<rect x="946.1" y="285.7" width="14.2" height="14.2" fill="#fbff04"/>
<rect x="959.9" y="285.7" width="14.2" height="14.2" fill="#efff10"/>
<rect x="973.7" y="285.7" width="14.2" height="14.2" fill="#e7ff18"/>
<rect x="987.6" y="285.7" width="14.2" height="14.2" fill="#e4ff1b"/>
<rect x="1001.4" y="285.7" width="14.2" height="14.2" fill="#e0ff1f"/>
<rect x="1015.3" y="285.7" width="14.2" height="14.2" fill="#d4ff2b"/>
<rect x="1029.1" y="285.7" width="14.2" height="14.2" fill="#c9ff36"/>
<rect x="1042.9" y="285.7" width="14.2" height="14.2" fill="#c7ff38"/>
<rect x="1056.8" y="285.7" width="14.2" height="14.2" fill="#ceff31"/>
<rect x="1070.6" y="285.7" width="14.2" height="14.2" fill="#d9ff26"/>
<rect x="1084.5" y="285.7" width="14.2" height="14.2" fill="#e3ff1c"/>
<rect x="1098.3" y="285.7" width="14.2" height="14.2" fill="#ecff13"/>
<rect x="1112.1" y="285.7" width="14.2" height="14.2" fill="#f4ff0b"/>
<rect x="1126" y="285.7" width="14.2" height="14.2" fill="#fcff03"/>
<rect x="1139.8" y="285.7" width="14.2" height="14.2" fill="#fff900"/>
<rect x="1153.7" y="285.7" width="14.2" height="14.2" fill="#fff000"/>
<rect x="780" y="299.6" width="14.2" height="14.2" fill="#fff500"/>
<rect x="793.8" y="299.6" width="14.2" height="14.2" fill="#feff01"/>
<rect x="807.7" y="299.6" width="14.2" height="14.2" fill="#eeff11"/>
<rect x="821.5" y="299.6" width="14.2" height="14.2" fill="#d3ff2c"/>
<rect x="835.3" y="299.6" width="14.2" height="14.2" fill="#b1ff4e"/>
<rect x="849.2" y="299.6" width="14.2" height="14.2" fill="#87ff78"/>
<rect x="863" y="299.6" width="14.2" height="14.2" fill="#5affa5"/>
<rect x="876.9" y="299.6" width="14.2" height="14.2" fill="#3dffc2"/>
<rect x="890.7" y="299.6" width="14.2" height="14.2" fill="#38ffc7"/>
<rect x="904.5" y="299.6" width="14.2" height="14.2" fill="#55ffaa"/>
<rect x="918.4" y="299.6" width="14.2" height="14.2" fill="#9cff63"/>
<rect x="932.2" y="299.6" width="14.2" height="14.2" fill="#dbff24"/>
<rect x="946.1" y="299.6" width="14.2" height="14.2" fill="#f0ff0f"/>
<rect x="959.9" y="299.6" width="14.2" height="14.2" fill="#edff12"/>
<rect x="973.7" y="299.6" width="14.2" height="14.2" fill="#e6ff19"/>
<rect x="987.6" y="299.6" width="14.2" height="14.2" fill="#e2ff1d"/>
<rect x="1001.4" y="299.6" width="14.2" height="14.2" fill="#dbff24"/>
<rect x="1015.3" y="299.6" width="14.2" height="14.2" fill="#c8ff37"/>
<rect x="1029.1" y="299.6" width="14.2" height="14.2" fill="#b8ff47"/>
<rect x="1042.9" y="299.6" width="14.2" height="14.2" fill="#b7ff48"/>
<rect x="1056.8" y="299.6" width="14.2" height="14.2" fill="#c3ff3c"/>
<rect x="1070.6" y="299.6" width="14.2" height="14.2" fill="#d1ff2e"/>
<rect x="1084.5" y="299.6" width="14.2" height="14.2" fill="#deff21"/>
<rect x="1098.3" y="299.6" width="14.2" height="14.2" fill="#e8ff17"/>
<rect x="1112.1" y="299.6" width="14.2" height="14.2" fill="#f0ff0f"/>
<rect x="1126" y="299.6" width="14.2" height="14.2" fill="#f8ff07"/>
<rect x="1139.8" y="299.6" width="14.2" height="14.2" fill="#fffe00"/>
<rect x="1153.7" y="299.6" width="14.2" height="14.2" fill="#fff600"/>
<rect x="1167.5" y="299.6" width="14.2" height="14.2" fill="#ffef00"/>
<rect x="793.8" y="313.4" width="14.2" height="14.2" fill="#ffff00"/>
<rect x="807.7" y="313.4" width="14.2" height="14.2" fill="#eeff11"/>
<rect x="821.5" y="313.4" width="14.2" height="14.2" fill="#e0ff1f"/>
<rect x="835.3" y="313.4" width="14.2" height="14.2" fill="#ceff31"/>
<rect x="849.2" y="313.4" width="14.2" height="14.2" fill="#afff50"/>
<rect x="863" y="313.4" width="14.2" height="14.2" fill="#88ff77"/>
<rect x="876.9" y="313.4" width="14.2" height="14.2" fill="#6dff92"/>
<rect x="890.7" y="313.4" width="14.2" height="14.2" fill="#66ff99"/>
<rect x="904.5" y="313.4" width="14.2" height="14.2" fill="#7eff81"/>
<rect x="918.4" y="313.4" width="14.2" height="14.2" fill="#b5ff4a"/>
<rect x="932.2" y="313.4" width="14.2" height="14.2" fill="#e0ff1f"/>
<rect x="946.1" y="313.4" width="14.2" height="14.2" fill="#eeff11"/>
<rect x="959.9" y="313.4" width="14.2" height="14.2" fill="#ebff14"/>
<rect x="973.7" y="313.4" width="14.2" height="14.2" fill="#e2ff1d"/>
<rect x="987.6" y="313.4" width="14.2" height="14.2" fill="#ddff22"/>
<rect x="1001.4" y="313.4" width="14.2" height="14.2" fill="#d5ff2a"/>
<rect x="1015.3" y="313.4" width="14.2" height="14.2" fill="#c2ff3d"/>
<rect x="1029.1" y="313.4" width="14.2" height="14.2" fill="#adff52"/>
<rect x="1042.9" y="313.4" width="14.2" height="14.2" fill="#abff54"/>
<rect x="1056.8" y="313.4" width="14.2" height="14.2" fill="#bdff42"/>
<rect x="1070.6" y="313.4" width="14.2" height="14.2" fill="#cfff30"/>
<rect x="1084.5" y="313.4" width="14.2" height="14.2" fill="#ddff22"/>
<rect x="1098.3" y="313.4" width="14.2" height="14.2" fill="#e6ff19"/>
<rect x="1112.1" y="313.4" width="14.2" height="14.2" fill="#ecff13"/>
<rect x="1126" y="313.4" width="14.2" height="14.2" fill="#f3ff0c"/>
<rect x="1139.8" y="313.4" width="14.2" height="14.2" fill="#fbff04"/>
<rect x="1153.7" y="313.4" width="14.2" height="14.2" fill="#fffb00"/>
<rect x="1167.5" y="313.4" width="14.2" height="14.2" fill="#fff700"/>
<rect x="793.8" y="327.2" width="14.2" height="14.2" fill="#fff600"/>
<rect x="807.7" y="327.2" width="14.2" height="14.2" fill="#f7ff08"/>
<rect x="821.5" y="327.2" width="14.2" height="14.2" fill="#ecff13"/>
<rect x="835.3" y="327.2" width="14.2" height="14.2" fill="#e4ff1b"/>
<rect x="849.2" y="327.2" width="14.2" height="14.2" fill="#daff25"/>
<rect x="863" y="327.2" width="14.2" height="14.2" fill="#c0ff3f"/>
<rect x="876.9" y="327.2" width="14.2" height="14.2" fill="#a4ff5b"/>
<rect x="890.7" y="327.2" width="14.2" height="14.2" fill="#a6ff59"/>
<rect x="904.5" y="327.2" width="14.2" height="14.2" fill="#c0ff3f"/>
<rect x="918.4" y="327.2" width="14.2" height="14.2" fill="#d5ff2a"/>
<rect x="932.2" y="327.2" width="14.2" height="14.2" fill="#d6ff29"/>
<rect x="946.1" y="327.2" width="14.2" height="14.2" fill="#cfff30"/>
<rect x="959.9" y="327.2" width="14.2" height="14.2" fill="#d2ff2d"/>
<rect x="973.7" y="327.2" width="14.2" height="14.2" fill="#d8ff27"/>
<rect x="987.6" y="327.2" width="14.2" height="14.2" fill="#d6ff29"/>
<rect x="1001.4" y="327.2" width="14.2" height="14.2" fill="#d2ff2d"/>
<rect x="1015.3" y="327.2" width="14.2" height="14.2" fill="#c5ff3a"/>
<rect x="1029.1" y="327.2" width="14.2" height="14.2" fill="#b5ff4a"/>
<rect x="1042.9" y="327.2" width="14.2" height="14.2" fill="#b1ff4e"/>
<rect x="1056.8" y="327.2" width="14.2" height="14.2" fill="#c0ff3f"/>
<rect x="1070.6" y="327.2" width="14.2" height="14.2" fill="#d2ff2d"/>
<rect x="1084.5" y="327.2" width="14.2" height="14.2" fill="#e0ff1f"/>
<rect x="1098.3" y="327.2" width="14.2" height="14.2" fill="#e7ff18"/>
<rect x="1112.1" y="327.2" width="14.2" height="14.2" fill="#ebff14"/>
<rect x="1126" y="327.2" width="14.2" height="14.2" fill="#efff10"/>
<rect x="1139.8" y="327.2" width="14.2" height="14.2" fill="#f8ff07"/>
<rect x="1153.7" y="327.2" width="14.2" height="14.2" fill="#fffd00"/>
<rect x="1167.5" y="327.2" width="14.2" height="14.2" fill="#ffff00"/>
<rect x="1181.3" y="327.2" width="14.2" height="14.2" fill="#fcff03"/>
<rect x="807.7" y="341.1" width="14.2" height="14.2" fill="#fffd00"/>
<rect x="821.5" y="341.1" width="14.2" height="14.2" fill="#f1ff0e"/>
<rect x="835.3" y="341.1" width="14.2" height="14.2" fill="#efff10"/>
<rect x="849.2" y="341.1" width="14.2" height="14.2" fill="#f6ff09"/>
<rect x="863" y="341.1" width="14.2" height="14.2" fill="#ebff14"/>
<rect x="876.9" y="341.1" width="14.2" height="14.2" fill="#d5ff2a"/>
<rect x="890.7" y="341.1" width="14.2" height="14.2" fill="#dfff20"/>
<rect x="904.5" y="341.1" width="14.2" height="14.2" fill="#f4ff0b"/>
<rect x="918.4" y="341.1" width="14.2" height="14.2" fill="#baff45"/>
<rect x="932.2" y="341.1" width="14.2" height="14.2" fill="#8cff73"/>
<rect x="946.1" y="341.1" width="14.2" height="14.2" fill="#78ff87"/>
<rect x="959.9" y="341.1" width="14.2" height="14.2" fill="#95ff6a"/>
<rect x="973.7" y="341.1" width="14.2" height="14.2" fill="#a7ff58"/>
<rect x="987.6" y="341.1" width="14.2" height="14.2" fill="#c3ff3c"/>
<rect x="1001.4" y="341.1" width="14.2" height="14.2" fill="#cdff32"/>
<rect x="1015.3" y="341.1" width="14.2" height="14.2" fill="#c6ff39"/>
<rect x="1029.1" y="341.1" width="14.2" height="14.2" fill="#beff41"/>
<rect x="1042.9" y="341.1" width="14.2" height="14.2" fill="#b8ff47"/>
<rect x="1056.8" y="341.1" width="14.2" height="14.2" fill="#c4ff3b"/>
<rect x="1070.6" y="341.1" width="14.2" height="14.2" fill="#d8ff27"/>
<rect x="1084.5" y="341.1" width="14.2" height="14.2" fill="#e6ff19"/>
<rect x="1098.3" y="341.1" width="28.1" height="14.2" fill="#ebff14"/>
<rect x="1126" y="341.1" width="14.2" height="14.2" fill="#edff12"/>
<rect x="1139.8" y="341.1" width="14.2" height="14.2" fill="#f8ff07"/>
<rect x="1153.7" y="341.1" width="14.2" height="14.2" fill="#ffff00"/>
<rect x="1167.5" y="341.1" width="14.2" height="14.2" fill="#f8ff07"/>
<rect x="1181.3" y="341.1" width="14.2" height="14.2" fill="#eeff11"/>
<rect x="821.5" y="354.9" width="14.2" height="14.2" fill="#f5ff0a"/>
<rect x="835.3" y="354.9" width="14.2" height="14.2" fill="#f7ff08"/>
<rect x="849.2" y="354.9" width="14.2" height="14.2" fill="#f5ff0a"/>
<rect x="863" y="354.9" width="14.2" height="14.2" fill="#f0ff0f"/>
<rect x="876.9" y="354.9" width="14.2" height="14.2" fill="#e9ff16"/>
<rect x="890.7" y="354.9" width="14.2" height="14.2" fill="#deff21"/>
<rect x="904.5" y="354.9" width="14.2" height="14.2" fill="#beff41"/>
<rect x="918.4" y="354.9" width="14.2" height="14.2" fill="#92ff6d"/>
<rect x="932.2" y="354.9" width="14.2" height="14.2" fill="#59ffa6"/>
<rect x="946.1" y="354.9" width="14.2" height="14.2" fill="#46ffb9"/>
<rect x="959.9" y="354.9" width="14.2" height="14.2" fill="#74ff8b"/>
<rect x="973.7" y="354.9" width="14.2" height="14.2" fill="#76ff89"/>
<rect x="987.6" y="354.9" width="14.2" height="14.2" fill="#a8ff57"/>
<rect x="1001.4" y="354.9" width="14.2" height="14.2" fill="#b5ff4a"/>
<rect x="1015.3" y="354.9" width="14.2" height="14.2" fill="#bdff42"/>
<rect x="1029.1" y="354.9" width="14.2" height="14.2" fill="#c3ff3c"/>
<rect x="1042.9" y="354.9" width="14.2" height="14.2" fill="#c8ff37"/>
<rect x="1056.8" y="354.9" width="14.2" height="14.2" fill="#ceff31"/>
<rect x="1070.6" y="354.9" width="14.2" height="14.2" fill="#d9ff26"/>
<rect x="1084.5" y="354.9" width="14.2" height="14.2" fill="#e7ff18"/>
<rect x="1098.3" y="354.9" width="14.2" height="14.2" fill="#edff12"/>
<rect x="1112.1" y="354.9" width="14.2" height="14.2" fill="#eeff11"/>
<rect x="1126" y="354.9" width="14.2" height="14.2" fill="#f4ff0b"/>
<rect x="1139.8" y="354.9" width="14.2" height="14.2" fill="#fdff02"/>
<rect x="1153.7" y="354.9" width="14.2" height="14.2" fill="#f8ff07"/>
<rect x="1167.5" y="354.9" width="14.2" height="14.2" fill="#e3ff1c"/>
<rect x="1181.3" y="354.9" width="14.2" height="14.2" fill="#d0ff2f"/>
<rect x="1195.2" y="354.9" width="14.2" height="14.2" fill="#cfff30"/>
<rect x="821.5" y="368.8" width="14.2" height="14.2" fill="#fff900"/>
<rect x="835.3" y="368.8" width="14.2" height="14.2" fill="#fffb00"/>
<rect x="849.2" y="368.8" width="14.2" height="14.2" fill="#f9ff06"/>
<rect x="863" y="368.8" width="28.1" height="14.2" fill="#f0ff0f"/>
<rect x="890.7" y="368.8" width="14.2" height="14.2" fill="#e0ff1f"/>
<rect x="904.5" y="368.8" width="14.2" height="14.2" fill="#b7ff48"/>
<rect x="918.4" y="368.8" width="14.2" height="14.2" fill="#73ff8c"/>
<rect x="932.2" y="368.8" width="14.2" height="14.2" fill="#32ffcd"/>
<rect x="946.1" y="368.8" width="14.2" height="14.2" fill="#41ffbe"/>
<rect x="959.9" y="368.8" width="14.2" height="14.2" fill="#33ffcc"/>
<rect x="973.7" y="368.8" width="14.2" height="14.2" fill="#50ffaf"/>
<rect x="987.6" y="368.8" width="14.2" height="14.2" fill="#6eff91"/>
<rect x="1001.4" y="368.8" width="14.2" height="14.2" fill="#96ff69"/>
<rect x="1015.3" y="368.8" width="14.2" height="14.2" fill="#afff50"/>
<rect x="1029.1" y="368.8" width="14.2" height="14.2" fill="#c6ff39"/>
<rect x="1042.9" y="368.8" width="14.2" height="14.2" fill="#d4ff2b"/>
<rect x="1056.8" y="368.8" width="14.2" height="14.2" fill="#d5ff2a"/>
<rect x="1070.6" y="368.8" width="14.2" height="14.2" fill="#d4ff2b"/>
<rect x="1084.5" y="368.8" width="14.2" height="14.2" fill="#ddff22"/>
<rect x="1098.3" y="368.8" width="14.2" height="14.2" fill="#e6ff19"/>
<rect x="1112.1" y="368.8" width="14.2" height="14.2" fill="#edff12"/>
<rect x="1126" y="368.8" width="14.2" height="14.2" fill="#faff05"/>
<rect x="1139.8" y="368.8" width="14.2" height="14.2" fill="#ecff13"/>
<rect x="1153.7" y="368.8" width="14.2" height="14.2" fill="#d0ff2f"/>
<rect x="1167.5" y="368.8" width="14.2" height="14.2" fill="#b5ff4a"/>
<rect x="1181.3" y="368.8" width="14.2" height="14.2" fill="#82ff7d"/>
<rect x="1195.2" y="368.8" width="14.2" height="14.2" fill="#63ff9c"/>
<rect x="1209" y="368.8" width="14.2" height="14.2" fill="#70ff8f"/>
<rect x="835.3" y="382.6" width="14.2" height="14.2" fill="#fff500"/>
<rect x="849.2" y="382.6" width="14.2" height="14.2" fill="#fffe00"/>
<rect x="863" y="382.6" width="14.2" height="14.2" fill="#f8ff07"/>
<rect x="876.9" y="382.6" width="14.2" height="14.2" fill="#f7ff08"/>
<rect x="890.7" y="382.6" width="14.2" height="14.2" fill="#e7ff18"/>
<rect x="904.5" y="382.6" width="14.2" height="14.2" fill="#c2ff3d"/>
<rect x="918.4" y="382.6" width="14.2" height="14.2" fill="#9bff64"/>
<rect x="932.2" y="382.6" width="14.2" height="14.2" fill="#44ffbb"/>
<rect x="946.1" y="382.6" width="14.2" height="14.2" fill="#48ffb7"/>
<rect x="959.9" y="382.6" width="14.2" height="14.2" fill="#3cffc3"/>
<rect x="973.7" y="382.6" width="14.2" height="14.2" fill="#45ffba"/>
<rect x="987.6" y="382.6" width="14.2" height="14.2" fill="#50ffaf"/>
<rect x="1001.4" y="382.6" width="14.2" height="14.2" fill="#7cff83"/>
<rect x="1015.3" y="382.6" width="14.2" height="14.2" fill="#9fff60"/>
<rect x="1029.1" y="382.6" width="14.2" height="14.2" fill="#c4ff3b"/>
<rect x="1042.9" y="382.6" width="14.2" height="14.2" fill="#d3ff2c"/>
<rect x="1056.8" y="382.6" width="14.2" height="14.2" fill="#d2ff2d"/>
<rect x="1070.6" y="382.6" width="14.2" height="14.2" fill="#c8ff37"/>
<rect x="1084.5" y="382.6" width="14.2" height="14.2" fill="#c3ff3c"/>
<rect x="1098.3" y="382.6" width="14.2" height="14.2" fill="#c5ff3a"/>
<rect x="1112.1" y="382.6" width="14.2" height="14.2" fill="#ccff33"/>
<rect x="1126" y="382.6" width="14.2" height="14.2" fill="#cdff32"/>
<rect x="1139.8" y="382.6" width="14.2" height="14.2" fill="#9fff60"/>
<rect x="1153.7" y="382.6" width="14.2" height="14.2" fill="#6dff92"/>
<rect x="1167.5" y="382.6" width="14.2" height="14.2" fill="#4affb5"/>
<rect x="1181.3" y="382.6" width="14.2" height="14.2" fill="#4bffb4"/>
<rect x="1195.2" y="382.6" width="14.2" height="14.2" fill="#09fff6"/>
<rect x="1209" y="382.6" width="14.2" height="14.2" fill="#00fbff"/>
<rect x="849.2" y="396.4" width="14.2" height="14.2" fill="#fff200"/>
<rect x="863" y="396.4" width="14.2" height="14.2" fill="#fff700"/>
<rect x="876.9" y="396.4" width="14.2" height="14.2" fill="#fffd00"/>
<rect x="890.7" y="396.4" width="14.2" height="14.2" fill="#efff10"/>
<rect x="904.5" y="396.4" width="14.2" height="14.2" fill="#d1ff2e"/>
<rect x="918.4" y="396.4" width="14.2" height="14.2" fill="#a8ff57"/>
<rect x="932.2" y="396.4" width="14.2" height="14.2" fill="#67ff98"/>
<rect x="946.1" y="396.4" width="28.1" height="14.2" fill="#45ffba"/>
<rect x="973.7" y="396.4" width="14.2" height="14.2" fill="#42ffbd"/>
<rect x="987.6" y="396.4" width="14.2" height="14.2" fill="#33ffcc"/>
<rect x="1001.4" y="396.4" width="14.2" height="14.2" fill="#75ff8a"/>
<rect x="1015.3" y="396.4" width="14.2" height="14.2" fill="#97ff68"/>
<rect x="1029.1" y="396.4" width="14.2" height="14.2" fill="#bbff44"/>
<rect x="1042.9" y="396.4" width="14.2" height="14.2" fill="#caff35"/>
<rect x="1056.8" y="396.4" width="14.2" height="14.2" fill="#c7ff38"/>
<rect x="1070.6" y="396.4" width="14.2" height="14.2" fill="#b4ff4b"/>
<rect x="1084.5" y="396.4" width="14.2" height="14.2" fill="#9dff62"/>
<rect x="1098.3" y="396.4" width="14.2" height="14.2" fill="#93ff6c"/>
<rect x="1112.1" y="396.4" width="14.2" height="14.2" fill="#8bff74"/>
<rect x="1126" y="396.4" width="14.2" height="14.2" fill="#94ff6b"/>
<rect x="1139.8" y="396.4" width="14.2" height="14.2" fill="#afff50"/>
<rect x="1153.7" y="396.4" width="14.2" height="14.2" fill="#45ffba"/>
<rect x="1167.5" y="396.4" width="14.2" height="14.2" fill="#16ffe9"/>
<rect x="1181.3" y="396.4" width="14.2" height="14.2" fill="#0efff1"/>
<rect x="1195.2" y="396.4" width="14.2" height="14.2" fill="#00caff"/>
<rect x="1209" y="396.4" width="14.2" height="14.2" fill="#00a9ff"/>
<rect x="1222.9" y="396.4" width="14.2" height="14.2" fill="#00c4ff"/>
<rect x="849.2" y="410.3" width="14.2" height="14.2" fill="#ffe700"/>
<rect x="863" y="410.3" width="14.2" height="14.2" fill="#ffe900"/>
<rect x="876.9" y="410.3" width="14.2" height="14.2" fill="#ffef00"/>
<rect x="890.7" y="410.3" width="14.2" height="14.2" fill="#fffe00"/>
<rect x="904.5" y="410.3" width="14.2" height="14.2" fill="#ecff13"/>
<rect x="918.4" y="410.3" width="14.2" height="14.2" fill="#d5ff2a"/>
<rect x="932.2" y="410.3" width="14.2" height="14.2" fill="#9dff62"/>
<rect x="946.1" y="410.3" width="14.2" height="14.2" fill="#5affa5"/>
<rect x="959.9" y="410.3" width="14.2" height="14.2" fill="#45ffba"/>
<rect x="973.7" y="410.3" width="14.2" height="14.2" fill="#39ffc6"/>
<rect x="987.6" y="410.3" width="14.2" height="14.2" fill="#2effd1"/>
<rect x="1001.4" y="410.3" width="14.2" height="14.2" fill="#45ffba"/>
<rect x="1015.3" y="410.3" width="14.2" height="14.2" fill="#7bff84"/>
<rect x="1029.1" y="410.3" width="14.2" height="14.2" fill="#a8ff57"/>
<rect x="1042.9" y="410.3" width="14.2" height="14.2" fill="#b7ff48"/>
<rect x="1056.8" y="410.3" width="14.2" height="14.2" fill="#baff45"/>
<rect x="1070.6" y="410.3" width="14.2" height="14.2" fill="#a5ff5a"/>
<rect x="1084.5" y="410.3" width="14.2" height="14.2" fill="#7eff81"/>
<rect x="1098.3" y="410.3" width="14.2" height="14.2" fill="#75ff8a"/>
<rect x="1112.1" y="410.3" width="14.2" height="14.2" fill="#5cffa3"/>
<rect x="1126" y="410.3" width="14.2" height="14.2" fill="#4cffb3"/>
<rect x="1139.8" y="410.3" width="14.2" height="14.2" fill="#67ff98"/>
<rect x="1153.7" y="410.3" width="14.2" height="14.2" fill="#2bffd4"/>
<rect x="1167.5" y="410.3" width="14.2" height="14.2" fill="#00f7ff"/>
<rect x="1181.3" y="410.3" width="14.2" height="14.2" fill="#00beff"/>
<rect x="1195.2" y="410.3" width="14.2" height="14.2" fill="#0095ff"/>
<rect x="1209" y="410.3" width="14.2" height="14.2" fill="#0090ff"/>
<rect x="1222.9" y="410.3" width="14.2" height="14.2" fill="#00a6ff"/>
<rect x="863" y="424.1" width="14.2" height="14.2" fill="#ffe300"/>
<rect x="876.9" y="424.1" width="14.2" height="14.2" fill="#ffe600"/>
<rect x="890.7" y="424.1" width="14.2" height="14.2" fill="#fff300"/>
<rect x="904.5" y="424.1" width="14.2" height="14.2" fill="#fdff02"/>
<rect x="918.4" y="424.1" width="14.2" height="14.2" fill="#f4ff0b"/>
<rect x="932.2" y="424.1" width="14.2" height="14.2" fill="#cdff32"/>
<rect x="946.1" y="424.1" width="14.2" height="14.2" fill="#80ff7f"/>
<rect x="959.9" y="424.1" width="14.2" height="14.2" fill="#79ff86"/>
<rect x="973.7" y="424.1" width="14.2" height="14.2" fill="#5cffa3"/>
<rect x="987.6" y="424.1" width="14.2" height="14.2" fill="#3fffc0"/>
<rect x="1001.4" y="424.1" width="14.2" height="14.2" fill="#3cffc3"/>
<rect x="1015.3" y="424.1" width="14.2" height="14.2" fill="#77ff88"/>
<rect x="1029.1" y="424.1" width="14.2" height="14.2" fill="#91ff6e"/>
<rect x="1042.9" y="424.1" width="14.2" height="14.2" fill="#97ff68"/>
<rect x="1056.8" y="424.1" width="14.2" height="14.2" fill="#9bff64"/>
<rect x="1070.6" y="424.1" width="14.2" height="14.2" fill="#a2ff5d"/>
<rect x="1084.5" y="424.1" width="14.2" height="14.2" fill="#8fff70"/>
<rect x="1098.3" y="424.1" width="14.2" height="14.2" fill="#87ff78"/>
<rect x="1112.1" y="424.1" width="14.2" height="14.2" fill="#55ffaa"/>
<rect x="1126" y="424.1" width="14.2" height="14.2" fill="#5dffa2"/>
<rect x="1139.8" y="424.1" width="14.2" height="14.2" fill="#0bfff4"/>
<rect x="1153.7" y="424.1" width="14.2" height="14.2" fill="#00e1ff"/>
<rect x="1167.5" y="424.1" width="14.2" height="14.2" fill="#00c8ff"/>
<rect x="1181.3" y="424.1" width="14.2" height="14.2" fill="#00a3ff"/>
<rect x="1195.2" y="424.1" width="28.1" height="14.2" fill="#0095ff"/>
<rect x="1222.9" y="424.1" width="14.2" height="14.2" fill="#009cff"/>
<rect x="876.9" y="438" width="14.2" height="14.2" fill="#ffec00"/>
<rect x="890.7" y="438" width="14.2" height="14.2" fill="#fffb00"/>
<rect x="904.5" y="438" width="14.2" height="14.2" fill="#fff400"/>
<rect x="918.4" y="438" width="14.2" height="14.2" fill="#ffe200"/>
<rect x="932.2" y="438" width="14.2" height="14.2" fill="#fff900"/>
<rect x="946.1" y="438" width="14.2" height="14.2" fill="#dcff23"/>
<rect x="959.9" y="438" width="14.2" height="14.2" fill="#acff53"/>
<rect x="973.7" y="438" width="14.2" height="14.2" fill="#67ff98"/>
<rect x="987.6" y="438" width="14.2" height="14.2" fill="#49ffb6"/>
<rect x="1001.4" y="438" width="14.2" height="14.2" fill="#3effc1"/>
<rect x="1015.3" y="438" width="14.2" height="14.2" fill="#55ffaa"/>
<rect x="1029.1" y="438" width="14.2" height="14.2" fill="#59ffa6"/>
<rect x="1042.9" y="438" width="14.2" height="14.2" fill="#81ff7e"/>
<rect x="1056.8" y="438" width="14.2" height="14.2" fill="#85ff7a"/>
<rect x="1070.6" y="438" width="14.2" height="14.2" fill="#8eff71"/>
<rect x="1084.5" y="438" width="14.2" height="14.2" fill="#a0ff5f"/>
<rect x="1098.3" y="438" width="14.2" height="14.2" fill="#80ff7f"/>
<rect x="1112.1" y="438" width="14.2" height="14.2" fill="#36ffc9"/>
<rect x="1126" y="438" width="14.2" height="14.2" fill="#02fffd"/>
<rect x="1139.8" y="438" width="14.2" height="14.2" fill="#00d7ff"/>
<rect x="1153.7" y="438" width="14.2" height="14.2" fill="#00bdff"/>
<rect x="1167.5" y="438" width="14.2" height="14.2" fill="#00a7ff"/>
<rect x="1181.3" y="438" width="14.2" height="14.2" fill="#00b4ff"/>
<rect x="1195.2" y="438" width="14.2" height="14.2" fill="#00a2ff"/>
<rect x="1209" y="438" width="14.2" height="14.2" fill="#0098ff"/>
<rect x="1222.9" y="438" width="14.2" height="14.2" fill="#0097ff"/>
<rect x="876.9" y="451.8" width="14.2" height="14.2" fill="#fff200"/>
<rect x="890.7" y="451.8" width="14.2" height="14.2" fill="#fff700"/>
<rect x="904.5" y="451.8" width="14.2" height="14.2" fill="#ffe900"/>
<rect x="918.4" y="451.8" width="14.2" height="14.2" fill="#ffce00"/>
<rect x="932.2" y="451.8" width="14.2" height="14.2" fill="#ffd900"/>
<rect x="946.1" y="451.8" width="14.2" height="14.2" fill="#f8ff07"/>
<rect x="959.9" y="451.8" width="14.2" height="14.2" fill="#d9ff26"/>
<rect x="973.7" y="451.8" width="14.2" height="14.2" fill="#96ff69"/>
<rect x="987.6" y="451.8" width="14.2" height="14.2" fill="#6aff95"/>
<rect x="1001.4" y="451.8" width="14.2" height="14.2" fill="#58ffa7"/>
<rect x="1015.3" y="451.8" width="14.2" height="14.2" fill="#71ff8e"/>
<rect x="1029.1" y="451.8" width="14.2" height="14.2" fill="#56ffa9"/>
<rect x="1042.9" y="451.8" width="14.2" height="14.2" fill="#8aff75"/>
<rect x="1056.8" y="451.8" width="14.2" height="14.2" fill="#9aff65"/>
<rect x="1070.6" y="451.8" width="14.2" height="14.2" fill="#92ff6d"/>
<rect x="1084.5" y="451.8" width="14.2" height="14.2" fill="#81ff7e"/>
<rect x="1098.3" y="451.8" width="14.2" height="14.2" fill="#44ffbb"/>
<rect x="1112.1" y="451.8" width="14.2" height="14.2" fill="#04fffb"/>
<rect x="1126" y="451.8" width="14.2" height="14.2" fill="#00e1ff"/>
<rect x="1139.8" y="451.8" width="14.2" height="14.2" fill="#00f0ff"/>
<rect x="1153.7" y="451.8" width="14.2" height="14.2" fill="#00d8ff"/>
<rect x="1167.5" y="451.8" width="14.2" height="14.2" fill="#0090ff"/>
<rect x="1181.3" y="451.8" width="14.2" height="14.2" fill="#0097ff"/>
<rect x="1195.2" y="451.8" width="14.2" height="14.2" fill="#009cff"/>
<rect x="1209" y="451.8" width="14.2" height="14.2" fill="#0098ff"/>
<rect x="1222.9" y="451.8" width="14.2" height="14.2" fill="#0095ff"/>
<rect x="890.7" y="465.6" width="14.2" height="14.2" fill="#fff000"/>
<rect x="904.5" y="465.6" width="14.2" height="14.2" fill="#ffe500"/>
<rect x="918.4" y="465.6" width="14.2" height="14.2" fill="#ffd900"/>
<rect x="932.2" y="465.6" width="14.2" height="14.2" fill="#ffd300"/>
<rect x="946.1" y="465.6" width="14.2" height="14.2" fill="#fff400"/>
<rect x="959.9" y="465.6" width="14.2" height="14.2" fill="#ebff14"/>
<rect x="973.7" y="465.6" width="14.2" height="14.2" fill="#c7ff38"/>
<rect x="987.6" y="465.6" width="14.2" height="14.2" fill="#98ff67"/>
<rect x="1001.4" y="465.6" width="14.2" height="14.2" fill="#6eff91"/>
<rect x="1015.3" y="465.6" width="14.2" height="14.2" fill="#51ffae"/>
<rect x="1029.1" y="465.6" width="14.2" height="14.2" fill="#35ffca"/>
<rect x="1042.9" y="465.6" width="14.2" height="14.2" fill="#5bffa4"/>
<rect x="1056.8" y="465.6" width="14.2" height="14.2" fill="#7dff82"/>
<rect x="1070.6" y="465.6" width="14.2" height="14.2" fill="#7cff83"/>
<rect x="1084.5" y="465.6" width="14.2" height="14.2" fill="#65ff9a"/>
<rect x="1098.3" y="465.6" width="14.2" height="14.2" fill="#35ffca"/>
<rect x="1112.1" y="465.6" width="14.2" height="14.2" fill="#00eaff"/>
<rect x="1126" y="465.6" width="14.2" height="14.2" fill="#00efff"/>
<rect x="1139.8" y="465.6" width="14.2" height="14.2" fill="#00fcff"/>
<rect x="1153.7" y="465.6" width="14.2" height="14.2" fill="#00e7ff"/>
<rect x="1167.5" y="465.6" width="14.2" height="14.2" fill="#00b1ff"/>
<rect x="1181.3" y="465.6" width="14.2" height="14.2" fill="#009eff"/>
<rect x="1195.2" y="465.6" width="14.2" height="14.2" fill="#009dff"/>
<rect x="904.5" y="479.5" width="14.2" height="14.2" fill="#ffe200"/>
<rect x="918.4" y="479.5" width="14.2" height="14.2" fill="#ffda00"/>
<rect x="932.2" y="479.5" width="14.2" height="14.2" fill="#ffd600"/>
<rect x="946.1" y="479.5" width="14.2" height="14.2" fill="#ffd400"/>
<rect x="959.9" y="479.5" width="14.2" height="14.2" fill="#f4ff0b"/>
<rect x="973.7" y="479.5" width="14.2" height="14.2" fill="#e9ff16"/>
<rect x="987.6" y="479.5" width="14.2" height="14.2" fill="#b4ff4b"/>
<rect x="1001.4" y="479.5" width="14.2" height="14.2" fill="#72ff8d"/>
<rect x="1015.3" y="479.5" width="14.2" height="14.2" fill="#39ffc6"/>
<rect x="1029.1" y="479.5" width="14.2" height="14.2" fill="#20ffdf"/>
<rect x="1042.9" y="479.5" width="14.2" height="14.2" fill="#2bffd4"/>
<rect x="1056.8" y="479.5" width="14.2" height="14.2" fill="#42ffbd"/>
<rect x="1070.6" y="479.5" width="14.2" height="14.2" fill="#4dffb2"/>
<rect x="1084.5" y="479.5" width="14.2" height="14.2" fill="#39ffc6"/>
<rect x="1098.3" y="479.5" width="14.2" height="14.2" fill="#14ffeb"/>
<rect x="1112.1" y="479.5" width="14.2" height="14.2" fill="#00dcff"/>
<rect x="1126" y="479.5" width="14.2" height="14.2" fill="#00daff"/>
<rect x="1139.8" y="479.5" width="14.2" height="14.2" fill="#00d1ff"/>
<rect x="1153.7" y="479.5" width="14.2" height="14.2" fill="#00d4ff"/>
<rect x="1167.5" y="479.5" width="14.2" height="14.2" fill="#00ceff"/>
<rect x="904.5" y="493.3" width="14.2" height="14.2" fill="#ffe800"/>
<rect x="918.4" y="493.3" width="28.1" height="14.2" fill="#ffe000"/>
<rect x="946.1" y="493.3" width="14.2" height="14.2" fill="#ffdc00"/>
<rect x="959.9" y="493.3" width="14.2" height="14.2" fill="#ffee00"/>
<rect x="973.7" y="493.3" width="14.2" height="14.2" fill="#f3ff0c"/>
<rect x="987.6" y="493.3" width="14.2" height="14.2" fill="#c8ff37"/>
<rect x="1001.4" y="493.3" width="14.2" height="14.2" fill="#5effa1"/>
<rect x="1015.3" y="493.3" width="14.2" height="14.2" fill="#13ffec"/>
<rect x="1029.1" y="493.3" width="28.1" height="14.2" fill="#00ffff"/>
<rect x="1056.8" y="493.3" width="14.2" height="14.2" fill="#06fff9"/>
<rect x="1070.6" y="493.3" width="14.2" height="14.2" fill="#0ffff0"/>
<rect x="1084.5" y="493.3" width="14.2" height="14.2" fill="#00eeff"/>
<rect x="1098.3" y="493.3" width="14.2" height="14.2" fill="#00e5ff"/>
<rect x="1112.1" y="493.3" width="14.2" height="14.2" fill="#00d6ff"/>
<rect x="1126" y="493.3" width="14.2" height="14.2" fill="#00c8ff"/>
<rect x="1139.8" y="493.3" width="14.2" height="14.2" fill="#00beff"/>
<rect x="918.4" y="507.2" width="14.2" height="14.2" fill="#fff700"/>
<rect x="932.2" y="507.2" width="14.2" height="14.2" fill="#ffed00"/>
<rect x="946.1" y="507.2" width="14.2" height="14.2" fill="#ffd700"/>
<rect x="959.9" y="507.2" width="14.2" height="14.2" fill="#ffd500"/>
<rect x="973.7" y="507.2" width="14.2" height="14.2" fill="#fbff04"/>
<rect x="987.6" y="507.2" width="14.2" height="14.2" fill="#b1ff4e"/>
<rect x="1001.4" y="507.2" width="14.2" height="14.2" fill="#20ffdf"/>
<rect x="1015.3" y="507.2" width="14.2" height="14.2" fill="#00e2ff"/>
<rect x="1029.1" y="507.2" width="14.2" height="14.2" fill="#00beff"/>
<rect x="1042.9" y="507.2" width="14.2" height="14.2" fill="#00a6ff"/>
<rect x="1056.8" y="507.2" width="14.2" height="14.2" fill="#00acff"/>
<rect x="1070.6" y="507.2" width="14.2" height="14.2" fill="#00b8ff"/>
<rect x="1084.5" y="507.2" width="14.2" height="14.2" fill="#00aeff"/>
<rect x="1098.3" y="507.2" width="14.2" height="14.2" fill="#00adff"/>
<rect x="1112.1" y="507.2" width="14.2" height="14.2" fill="#00aeff"/>
<rect x="918.4" y="521" width="14.2" height="14.2" fill="#ffff00"/>
<rect x="932.2" y="521" width="14.2" height="14.2" fill="#fff600"/>
<rect x="946.1" y="521" width="14.2" height="14.2" fill="#ffdf00"/>
<rect x="959.9" y="521" width="14.2" height="14.2" fill="#ffdb00"/>
<rect x="973.7" y="521" width="14.2" height="14.2" fill="#f7ff08"/>
<rect x="987.6" y="521" width="14.2" height="14.2" fill="#aaff55"/>
<rect x="1001.4" y="521" width="14.2" height="14.2" fill="#24ffdb"/>
<rect x="1015.3" y="521" width="14.2" height="14.2" fill="#00c5ff"/>
<rect x="1029.1" y="521" width="14.2" height="14.2" fill="#0084ff"/>
<rect x="1042.9" y="521" width="14.2" height="14.2" fill="#0074ff"/>
<rect x="1056.8" y="521" width="14.2" height="14.2" fill="#007eff"/>
<rect x="1070.6" y="521" width="14.2" height="14.2" fill="#007cff"/>
<rect x="1084.5" y="521" width="14.2" height="14.2" fill="#0071ff"/>
<rect x="1098.3" y="521" width="14.2" height="14.2" fill="#007bff"/>
<rect x="932.2" y="534.8" width="14.2" height="14.2" fill="#ffeb00"/>
<rect x="946.1" y="534.8" width="28.1" height="14.2" fill="#ffda00"/>
<rect x="973.7" y="534.8" width="14.2" height="14.2" fill="#f6ff09"/>
<rect x="987.6" y="534.8" width="14.2" height="14.2" fill="#bbff44"/>
<rect x="1001.4" y="534.8" width="14.2" height="14.2" fill="#28ffd7"/>
<rect x="1015.3" y="534.8" width="14.2" height="14.2" fill="#00acff"/>
<rect x="1029.1" y="534.8" width="14.2" height="14.2" fill="#0083ff"/>
<rect x="1042.9" y="534.8" width="28.1" height="14.2" fill="#0079ff"/>
<rect x="1070.6" y="534.8" width="14.2" height="14.2" fill="#006eff"/>
<rect x="946.1" y="548.7" width="14.2" height="14.2" fill="#ffe100"/>
<rect x="959.9" y="548.7" width="14.2" height="14.2" fill="#ffd700"/>
<rect x="973.7" y="548.7" width="14.2" height="14.2" fill="#fdff02"/>
<rect x="987.6" y="548.7" width="14.2" height="14.2" fill="#bcff43"/>
<rect x="1001.4" y="548.7" width="14.2" height="14.2" fill="#33ffcc"/>
<rect x="1015.3" y="548.7" width="14.2" height="14.2" fill="#00b8ff"/>
<rect x="1029.1" y="548.7" width="14.2" height="14.2" fill="#0090ff"/>
<rect x="1042.9" y="548.7" width="14.2" height="14.2" fill="#0087ff"/>
<rect x="1056.8" y="548.7" width="14.2" height="14.2" fill="#0079ff"/>
<rect x="946.1" y="562.5" width="14.2" height="14.2" fill="#ffec00"/>
<rect x="959.9" y="562.5" width="14.2" height="14.2" fill="#ffd900"/>
<rect x="973.7" y="562.5" width="14.2" height="14.2" fill="#fff900"/>
<rect x="987.6" y="562.5" width="14.2" height="14.2" fill="#bdff42"/>
<rect x="1001.4" y="562.5" width="14.2" height="14.2" fill="#4effb1"/>
<rect x="1015.3" y="562.5" width="14.2" height="14.2" fill="#00d1ff"/>
<rect x="959.9" y="576.4" width="14.2" height="14.2" fill="#ffd400"/>
<rect x="973.7" y="576.4" width="14.2" height="14.2" fill="#ffea00"/>
<rect x="987.6" y="576.4" width="14.2" height="14.2" fill="#d0ff2f"/>
<rect x="1001.4" y="576.4" width="14.2" height="14.2" fill="#a0ff5f"/>
<rect x="1015.3" y="576.4" width="14.2" height="14.2" fill="#00f8ff"/>
<rect x="973.7" y="590.2" width="14.2" height="14.2" fill="#ffe100"/>
<rect x="987.6" y="590.2" width="14.2" height="14.2" fill="#e5ff1a"/>
</g>
<g shape-rendering="crispEdges">
<rect x="421.5" y="786.8" width="16.1" height="16" fill="#ff7300"/>
<rect x="437.2" y="786.8" width="16.1" height="16" fill="#ff7a00"/>
<rect x="452.9" y="786.8" width="16.1" height="16" fill="#ff8000"/>
<rect x="468.6" y="786.8" width="16.1" height="16" fill="#ff8700"/>
<rect x="484.3" y="786.8" width="16.1" height="16" fill="#ff8f00"/>
<rect x="500" y="786.8" width="16.1" height="16" fill="#ff9700"/>
<rect x="390.1" y="802.4" width="16.1" height="16" fill="#ff5f00"/>
<rect x="405.8" y="802.4" width="16.1" height="16" fill="#ff6300"/>
<rect x="421.5" y="802.4" width="16.1" height="16" fill="#ff6b00"/>
<rect x="437.2" y="802.4" width="16.1" height="16" fill="#ff7200"/>
<rect x="452.9" y="802.4" width="16.1" height="16" fill="#ff7800"/>
<rect x="468.6" y="802.4" width="16.1" height="16" fill="#ff8000"/>
<rect x="484.3" y="802.4" width="16.1" height="16" fill="#ff8800"/>
<rect x="500" y="802.4" width="16.1" height="16" fill="#ff9000"/>
<rect x="515.7" y="802.4" width="16.1" height="16" fill="#ff9900"/>
<rect x="374.4" y="818.1" width="16.1" height="16" fill="#ff5900"/>
<rect x="390.1" y="818.1" width="16.1" height="16" fill="#ff5b00"/>
<rect x="405.8" y="818.1" width="16.1" height="16" fill="#ff5d00"/>
<rect x="421.5" y="818.1" width="16.1" height="16" fill="#ff6200"/>
<rect x="437.2" y="818.1" width="16.1" height="16" fill="#ff6900"/>
<rect x="452.9" y="818.1" width="16.1" height="16" fill="#ff7000"/>
<rect x="468.6" y="818.1" width="16.1" height="16" fill="#ff7700"/>
<rect x="484.3" y="818.1" width="16.1" height="16" fill="#ff7e00"/>
<rect x="500" y="818.1" width="16.1" height="16" fill="#ff8700"/>
<rect x="515.7" y="818.1" width="16.1" height="16" fill="#ff9000"/>
<rect x="343" y="833.7" width="16.1" height="16" fill="#ff4500"/>
<rect x="358.7" y="833.7" width="16.1" height="16" fill="#ff5100"/>
<rect x="374.4" y="833.7" width="16.1" height="16" fill="#ff5700"/>
<rect x="390.1" y="833.7" width="16.1" height="16" fill="#ff5800"/>
<rect x="405.8" y="833.7" width="16.1" height="16" fill="#ff5900"/>
<rect x="421.5" y="833.7" width="16.1" height="16" fill="#ff5a00"/>
<rect x="437.2" y="833.7" width="16.1" height="16" fill="#ff5f00"/>
<rect x="452.9" y="833.7" width="16.1" height="16" fill="#ff6700"/>
<rect x="468.6" y="833.7" width="16.1" height="16" fill="#ff6e00"/>
<rect x="484.3" y="833.7" width="16.1" height="16" fill="#ff7200"/>
<rect x="500" y="833.7" width="16.1" height="16" fill="#ff7800"/>
<rect x="515.7" y="833.7" width="16.1" height="16" fill="#ff8200"/>
<rect x="327.3" y="849.3" width="16.1" height="16" fill="#ff1b00"/>
<rect x="343" y="849.3" width="16.1" height="16" fill="#ff3d00"/>
<rect x="358.7" y="849.3" width="16.1" height="16" fill="#ff5100"/>
<rect x="374.4" y="849.3" width="16.1" height="16" fill="#ff5700"/>
<rect x="390.1" y="849.3" width="16.1" height="16" fill="#ff5600"/>
<rect x="405.8" y="849.3" width="16.1" height="16" fill="#ff5400"/>
<rect x="421.5" y="849.3" width="16.1" height="16" fill="#ff5200"/>
<rect x="437.2" y="849.3" width="16.1" height="16" fill="#ff5500"/>
<rect x="452.9" y="849.3" width="16.1" height="16" fill="#ff5c00"/>
<rect x="468.6" y="849.3" width="16.1" height="16" fill="#ff6200"/>
<rect x="484.3" y="849.3" width="16.1" height="16" fill="#ff6300"/>
<rect x="500" y="849.3" width="16.1" height="16" fill="#ff6800"/>
<rect x="515.7" y="849.3" width="16.1" height="16" fill="#ff7200"/>
<rect x="295.9" y="864.9" width="16.1" height="16" fill="#fb0000"/>
<rect x="311.6" y="864.9" width="16.1" height="16" fill="#ea0000"/>
<rect x="327.3" y="864.9" width="16.1" height="16" fill="#ff0800"/>
<rect x="343" y="864.9" width="16.1" height="16" fill="#ff4100"/>
<rect x="358.7" y="864.9" width="16.1" height="16" fill="#ff5500"/>
<rect x="374.4" y="864.9" width="16.1" height="16" fill="#ff5800"/>
<rect x="390.1" y="864.9" width="16.1" height="16" fill="#ff5400"/>
<rect x="405.8" y="864.9" width="16.1" height="16" fill="#ff4e00"/>
<rect x="421.5" y="864.9" width="31.8" height="16" fill="#ff4a00"/>
<rect x="452.9" y="864.9" width="16.1" height="16" fill="#ff4f00"/>
<rect x="468.6" y="864.9" width="16.1" height="16" fill="#ff5400"/>
<rect x="484.3" y="864.9" width="16.1" height="16" fill="#ff5600"/>
<rect x="500" y="864.9" width="16.1" height="16" fill="#ff5b00"/>
<rect x="515.7" y="864.9" width="16.1" height="16" fill="#ff6500"/>
<rect x="531.4" y="864.9" width="16.1" height="16" fill="#ff7400"/>
<rect x="264.5" y="880.6" width="16.1" height="16" fill="#f60000"/>
<rect x="280.2" y="880.6" width="16.1" height="16" fill="#f00000"/>
<rect x="295.9" y="880.6" width="16.1" height="16" fill="#fd0000"/>
<rect x="311.6" y="880.6" width="16.1" height="16" fill="#fc0000"/>
<rect x="327.3" y="880.6" width="16.1" height="16" fill="#ff2d00"/>
<rect x="343" y="880.6" width="16.1" height="16" fill="#ff5300"/>
<rect x="358.7" y="880.6" width="16.1" height="16" fill="#ff5a00"/>
<rect x="374.4" y="880.6" width="16.1" height="16" fill="#ff5700"/>
<rect x="390.1" y="880.6" width="16.1" height="16" fill="#ff5000"/>
<rect x="405.8" y="880.6" width="16.1" height="16" fill="#ff4800"/>
<rect x="421.5" y="880.6" width="16.1" height="16" fill="#ff4300"/>
<rect x="437.2" y="880.6" width="16.1" height="16" fill="#ff4200"/>
<rect x="452.9" y="880.6" width="16.1" height="16" fill="#ff4500"/>
<rect x="468.6" y="880.6" width="16.1" height="16" fill="#ff4900"/>
<rect x="484.3" y="880.6" width="16.1" height="16" fill="#ff4d00"/>
<rect x="500" y="880.6" width="16.1" height="16" fill="#ff5400"/>
<rect x="515.7" y="880.6" width="16.1" height="16" fill="#ff5e00"/>
<rect x="531.4" y="880.6" width="16.1" height="16" fill="#ff6d00"/>
<rect x="547.1" y="880.6" width="16.1" height="16" fill="#ff7d00"/>
<rect x="248.8" y="896.2" width="16.1" height="16" fill="#fe0000"/>
<rect x="264.5" y="896.2" width="16.1" height="16" fill="#f80000"/>
<rect x="280.2" y="896.2" width="16.1" height="16" fill="#e40000"/>
<rect x="295.9" y="896.2" width="16.1" height="16" fill="#ff0700"/>
<rect x="311.6" y="896.2" width="16.1" height="16" fill="#ff1800"/>
<rect x="327.3" y="896.2" width="16.1" height="16" fill="#ff3500"/>
<rect x="343" y="896.2" width="16.1" height="16" fill="#ff4f00"/>
<rect x="358.7" y="896.2" width="16.1" height="16" fill="#ff5500"/>
<rect x="374.4" y="896.2" width="16.1" height="16" fill="#ff5100"/>
<rect x="390.1" y="896.2" width="16.1" height="16" fill="#ff4a00"/>
<rect x="405.8" y="896.2" width="16.1" height="16" fill="#ff4200"/>
<rect x="421.5" y="896.2" width="16.1" height="16" fill="#ff3e00"/>
<rect x="437.2" y="896.2" width="16.1" height="16" fill="#ff3d00"/>
<rect x="452.9" y="896.2" width="16.1" height="16" fill="#ff3f00"/>
<rect x="468.6" y="896.2" width="16.1" height="16" fill="#ff4300"/>
<rect x="484.3" y="896.2" width="16.1" height="16" fill="#ff4800"/>
<rect x="500" y="896.2" width="16.1" height="16" fill="#ff5000"/>
<rect x="515.7" y="896.2" width="16.1" height="16" fill="#ff5a00"/>
<rect x="531.4" y="896.2" width="16.1" height="16" fill="#ff6800"/>
<rect x="547.1" y="896.2" width="16.1" height="16" fill="#ff7900"/>
<rect x="217.4" y="911.8" width="16.1" height="16" fill="#fd0000"/>
<rect x="233.1" y="911.8" width="16.1" height="16" fill="#ff0000"/>
<rect x="248.8" y="911.8" width="16.1" height="16" fill="#ff0300"/>
<rect x="264.5" y="911.8" width="16.1" height="16" fill="#ff0700"/>
<rect x="280.2" y="911.8" width="16.1" height="16" fill="#ff0600"/>
<rect x="295.9" y="911.8" width="16.1" height="16" fill="#ff1100"/>
<rect x="311.6" y="911.8" width="16.1" height="16" fill="#ff2000"/>
<rect x="327.3" y="911.8" width="16.1" height="16" fill="#ff3100"/>
<rect x="343" y="911.8" width="16.1" height="16" fill="#ff4200"/>
<rect x="358.7" y="911.8" width="16.1" height="16" fill="#ff4800"/>
<rect x="374.4" y="911.8" width="16.1" height="16" fill="#ff4700"/>
<rect x="390.1" y="911.8" width="16.1" height="16" fill="#ff4200"/>
<rect x="405.8" y="911.8" width="16.1" height="16" fill="#ff3d00"/>
<rect x="421.5" y="911.8" width="31.8" height="16" fill="#ff3a00"/>
<rect x="452.9" y="911.8" width="16.1" height="16" fill="#ff3c00"/>
<rect x="468.6" y="911.8" width="16.1" height="16" fill="#ff4000"/>
<rect x="484.3" y="911.8" width="16.1" height="16" fill="#ff4600"/>
<rect x="500" y="911.8" width="16.1" height="16" fill="#ff4d00"/>
<rect x="515.7" y="911.8" width="16.1" height="16" fill="#ff5700"/>
<rect x="531.4" y="911.8" width="16.1" height="16" fill="#ff6500"/>
<rect x="547.1" y="911.8" width="16.1" height="16" fill="#ff7500"/>
<rect x="562.8" y="911.8" width="16.1" height="16" fill="#ff8500"/>
<rect x="201.7" y="927.5" width="16.1" height="16" fill="#ff0100"/>
<rect x="217.4" y="927.5" width="16.1" height="16" fill="#ff0d00"/>
<rect x="233.1" y="927.5" width="31.8" height="16" fill="#ff1200"/>
<rect x="264.5" y="927.5" width="16.1" height="16" fill="#ff1600"/>
<rect x="280.2" y="927.5" width="16.1" height="16" fill="#ff1900"/>
<rect x="295.9" y="927.5" width="16.1" height="16" fill="#ff1e00"/>
<rect x="311.6" y="927.5" width="16.1" height="16" fill="#ff2500"/>
<rect x="327.3" y="927.5" width="16.1" height="16" fill="#ff2f00"/>
<rect x="343" y="927.5" width="16.1" height="16" fill="#ff3900"/>
<rect x="358.7" y="927.5" width="16.1" height="16" fill="#ff3d00"/>
<rect x="374.4" y="927.5" width="16.1" height="16" fill="#ff3e00"/>
<rect x="390.1" y="927.5" width="16.1" height="16" fill="#ff3d00"/>
<rect x="405.8" y="927.5" width="16.1" height="16" fill="#ff3b00"/>
<rect x="421.5" y="927.5" width="31.8" height="16" fill="#ff3900"/>
<rect x="452.9" y="927.5" width="16.1" height="16" fill="#ff3b00"/>
<rect x="468.6" y="927.5" width="16.1" height="16" fill="#ff4000"/>
<rect x="484.3" y="927.5" width="16.1" height="16" fill="#ff4500"/>
<rect x="500" y="927.5" width="16.1" height="16" fill="#ff4c00"/>
<rect x="515.7" y="927.5" width="16.1" height="16" fill="#ff5600"/>
<rect x="531.4" y="927.5" width="16.1" height="16" fill="#ff6200"/>
<rect x="547.1" y="927.5" width="16.1" height="16" fill="#ff7100"/>
<rect x="562.8" y="927.5" width="16.1" height="16" fill="#ff8100"/>
<rect x="170.3" y="943.1" width="16.1" height="16" fill="#ff1400"/>
<rect x="186" y="943.1" width="16.1" height="16" fill="#ff1300"/>
<rect x="201.7" y="943.1" width="16.1" height="16" fill="#ff0d00"/>
<rect x="217.4" y="943.1" width="16.1" height="16" fill="#ff2200"/>
<rect x="233.1" y="943.1" width="16.1" height="16" fill="#ff2e00"/>
<rect x="248.8" y="943.1" width="16.1" height="16" fill="#ff2900"/>
<rect x="264.5" y="943.1" width="31.8" height="16" fill="#ff2800"/>
<rect x="295.9" y="943.1" width="16.1" height="16" fill="#ff2900"/>
<rect x="311.6" y="943.1" width="16.1" height="16" fill="#ff2d00"/>
<rect x="327.3" y="943.1" width="16.1" height="16" fill="#ff3200"/>
<rect x="343" y="943.1" width="16.1" height="16" fill="#ff3600"/>
<rect x="358.7" y="943.1" width="16.1" height="16" fill="#ff3900"/>
<rect x="374.4" y="943.1" width="16.1" height="16" fill="#ff3a00"/>
<rect x="390.1" y="943.1" width="16.1" height="16" fill="#ff3c00"/>
<rect x="405.8" y="943.1" width="16.1" height="16" fill="#ff3d00"/>
<rect x="421.5" y="943.1" width="31.8" height="16" fill="#ff3b00"/>
<rect x="452.9" y="943.1" width="16.1" height="16" fill="#ff3d00"/>
<rect x="468.6" y="943.1" width="16.1" height="16" fill="#ff4000"/>
<rect x="484.3" y="943.1" width="16.1" height="16" fill="#ff4500"/>
<rect x="500" y="943.1" width="16.1" height="16" fill="#ff4c00"/>
<rect x="515.7" y="943.1" width="16.1" height="16" fill="#ff5500"/>
<rect x="531.4" y="943.1" width="16.1" height="16" fill="#ff6000"/>
<rect x="547.1" y="943.1" width="16.1" height="16" fill="#ff6d00"/>
<rect x="562.8" y="943.1" width="16.1" height="16" fill="#ff7b00"/>
<rect x="578.5" y="943.1" width="16.1" height="16" fill="#ff8500"/>
<rect x="138.9" y="958.7" width="16.1" height="16" fill="#ff3d00"/>
<rect x="154.6" y="958.7" width="16.1" height="16" fill="#ff2c00"/>
<rect x="170.3" y="958.7" width="16.1" height="16" fill="#ff2100"/>
<rect x="186" y="958.7" width="16.1" height="16" fill="#ff2a00"/>
<rect x="201.7" y="958.7" width="16.1" height="16" fill="#ff3100"/>
<rect x="217.4" y="958.7" width="16.1" height="16" fill="#ff3600"/>
<rect x="233.1" y="958.7" width="16.1" height="16" fill="#ff3d00"/>
<rect x="248.8" y="958.7" width="16.1" height="16" fill="#ff3b00"/>
<rect x="264.5" y="958.7" width="16.1" height="16" fill="#ff3800"/>
<rect x="280.2" y="958.7" width="16.1" height="16" fill="#ff3600"/>
<rect x="295.9" y="958.7" width="16.1" height="16" fill="#ff3500"/>
<rect x="311.6" y="958.7" width="16.1" height="16" fill="#ff3600"/>
<rect x="327.3" y="958.7" width="16.1" height="16" fill="#ff3900"/>
<rect x="343" y="958.7" width="16.1" height="16" fill="#ff3b00"/>
<rect x="358.7" y="958.7" width="16.1" height="16" fill="#ff3e00"/>
<rect x="374.4" y="958.7" width="16.1" height="16" fill="#ff4100"/>
<rect x="390.1" y="958.7" width="16.1" height="16" fill="#ff4500"/>
<rect x="405.8" y="958.7" width="16.1" height="16" fill="#ff4700"/>
<rect x="421.5" y="958.7" width="16.1" height="16" fill="#ff4400"/>
<rect x="437.2" y="958.7" width="31.8" height="16" fill="#ff4100"/>
<rect x="468.6" y="958.7" width="16.1" height="16" fill="#ff4400"/>
<rect x="484.3" y="958.7" width="16.1" height="16" fill="#ff4700"/>
<rect x="500" y="958.7" width="16.1" height="16" fill="#ff4d00"/>
<rect x="515.7" y="958.7" width="16.1" height="16" fill="#ff5500"/>
<rect x="531.4" y="958.7" width="16.1" height="16" fill="#ff6000"/>
<rect x="547.1" y="958.7" width="16.1" height="16" fill="#ff6c00"/>
<rect x="562.8" y="958.7" width="16.1" height="16" fill="#ff7600"/>
<rect x="578.5" y="958.7" width="16.1" height="16" fill="#ff8000"/>
<rect x="594.2" y="958.7" width="16.1" height="16" fill="#ff8600"/>
<rect x="123.2" y="974.4" width="16.1" height="16" fill="#ffa200"/>
<rect x="138.9" y="974.4" width="16.1" height="16" fill="#ff6500"/>
<rect x="154.6" y="974.4" width="16.1" height="16" fill="#ff4400"/>
<rect x="170.3" y="974.4" width="16.1" height="16" fill="#ff3600"/>
<rect x="186" y="974.4" width="16.1" height="16" fill="#ff3900"/>
<rect x="201.7" y="974.4" width="16.1" height="16" fill="#ff4100"/>
<rect x="217.4" y="974.4" width="16.1" height="16" fill="#ff4500"/>
<rect x="233.1" y="974.4" width="16.1" height="16" fill="#ff4700"/>
<rect x="248.8" y="974.4" width="16.1" height="16" fill="#ff4600"/>
<rect x="264.5" y="974.4" width="16.1" height="16" fill="#ff4500"/>
<rect x="280.2" y="974.4" width="16.1" height="16" fill="#ff4300"/>
<rect x="295.9" y="974.4" width="16.1" height="16" fill="#ff4200"/>
<rect x="311.6" y="974.4" width="16.1" height="16" fill="#ff4300"/>
<rect x="327.3" y="974.4" width="16.1" height="16" fill="#ff4500"/>
<rect x="343" y="974.4" width="16.1" height="16" fill="#ff4800"/>
<rect x="358.7" y="974.4" width="16.1" height="16" fill="#ff4d00"/>
<rect x="374.4" y="974.4" width="16.1" height="16" fill="#ff5300"/>
<rect x="390.1" y="974.4" width="16.1" height="16" fill="#ff5800"/>
<rect x="405.8" y="974.4" width="16.1" height="16" fill="#ff5a00"/>
<rect x="421.5" y="974.4" width="16.1" height="16" fill="#ff5500"/>
<rect x="437.2" y="974.4" width="16.1" height="16" fill="#ff4e00"/>
<rect x="452.9" y="974.4" width="16.1" height="16" fill="#ff4c00"/>
<rect x="468.6" y="974.4" width="16.1" height="16" fill="#ff4b00"/>
<rect x="484.3" y="974.4" width="16.1" height="16" fill="#ff4d00"/>
<rect x="500" y="974.4" width="16.1" height="16" fill="#ff5100"/>
<rect x="515.7" y="974.4" width="16.1" height="16" fill="#ff5800"/>
<rect x="531.4" y="974.4" width="16.1" height="16" fill="#ff6200"/>
<rect x="547.1" y="974.4" width="16.1" height="16" fill="#ff6c00"/>
<rect x="562.8" y="974.4" width="16.1" height="16" fill="#ff7500"/>
<rect x="578.5" y="974.4" width="16.1" height="16" fill="#ff7d00"/>
<rect x="594.2" y="974.4" width="16.1" height="16" fill="#ff8300"/>
<rect x="123.2" y="990" width="16.1" height="16" fill="#ffab00"/>
<rect x="138.9" y="990" width="16.1" height="16" fill="#ff8800"/>
<rect x="154.6" y="990" width="16.1" height="16" fill="#ff6700"/>
<rect x="170.3" y="990" width="16.1" height="16" fill="#ff5500"/>
<rect x="186" y="990" width="16.1" height="16" fill="#ff4e00"/>
<rect x="201.7" y="990" width="16.1" height="16" fill="#ff4f00"/>
<rect x="217.4" y="990" width="31.8" height="16" fill="#ff5000"/>
<rect x="248.8" y="990" width="16.1" height="16" fill="#ff5100"/>
<rect x="264.5" y="990" width="47.5" height="16" fill="#ff5200"/>
<rect x="311.6" y="990" width="16.1" height="16" fill="#ff5300"/>
<rect x="327.3" y="990" width="16.1" height="16" fill="#ff5600"/>
<rect x="343" y="990" width="16.1" height="16" fill="#ff5b00"/>
<rect x="358.7" y="990" width="16.1" height="16" fill="#ff6300"/>
<rect x="374.4" y="990" width="16.1" height="16" fill="#ff6b00"/>
<rect x="390.1" y="990" width="16.1" height="16" fill="#ff7100"/>
<rect x="405.8" y="990" width="16.1" height="16" fill="#ff7200"/>
<rect x="421.5" y="990" width="16.1" height="16" fill="#ff6c00"/>
<rect x="437.2" y="990" width="16.1" height="16" fill="#ff6200"/>
<rect x="452.9" y="990" width="16.1" height="16" fill="#ff5c00"/>
<rect x="468.6" y="990" width="16.1" height="16" fill="#ff5800"/>
<rect x="484.3" y="990" width="16.1" height="16" fill="#ff5700"/>
<rect x="500" y="990" width="16.1" height="16" fill="#ff5a00"/>
<rect x="515.7" y="990" width="16.1" height="16" fill="#ff5f00"/>
<rect x="531.4" y="990" width="16.1" height="16" fill="#ff6800"/>
<rect x="547.1" y="990" width="16.1" height="16" fill="#ff7100"/>
<rect x="562.8" y="990" width="16.1" height="16" fill="#ff7900"/>
<rect x="578.5" y="990" width="16.1" height="16" fill="#ff7f00"/>
<rect x="594.2" y="990" width="16.1" height="16" fill="#ff8400"/>
<rect x="609.9" y="990" width="16.1" height="16" fill="#ff8700"/>
<rect x="138.9" y="1005.6" width="16.1" height="16" fill="#ff9400"/>
<rect x="154.6" y="1005.6" width="16.1" height="16" fill="#ff7e00"/>
<rect x="170.3" y="1005.6" width="16.1" height="16" fill="#ff6d00"/>
<rect x="186" y="1005.6" width="16.1" height="16" fill="#ff6200"/>
<rect x="201.7" y="1005.6" width="16.1" height="16" fill="#ff5d00"/>
<rect x="217.4" y="1005.6" width="31.8" height="16" fill="#ff5c00"/>
<rect x="248.8" y="1005.6" width="16.1" height="16" fill="#ff5d00"/>
<rect x="264.5" y="1005.6" width="16.1" height="16" fill="#ff6200"/>
<rect x="280.2" y="1005.6" width="16.1" height="16" fill="#ff6600"/>
<rect x="295.9" y="1005.6" width="16.1" height="16" fill="#ff6800"/>
<rect x="311.6" y="1005.6" width="16.1" height="16" fill="#ff6900"/>
<rect x="327.3" y="1005.6" width="16.1" height="16" fill="#ff6e00"/>
<rect x="343" y="1005.6" width="16.1" height="16" fill="#ff7400"/>
<rect x="358.7" y="1005.6" width="16.1" height="16" fill="#ff7e00"/>
<rect x="374.4" y="1005.6" width="16.1" height="16" fill="#ff8700"/>
<rect x="390.1" y="1005.6" width="16.1" height="16" fill="#ff8c00"/>
<rect x="405.8" y="1005.6" width="16.1" height="16" fill="#ff8b00"/>
<rect x="421.5" y="1005.6" width="16.1" height="16" fill="#ff8300"/>
<rect x="437.2" y="1005.6" width="16.1" height="16" fill="#ff7800"/>
<rect x="452.9" y="1005.6" width="16.1" height="16" fill="#ff6e00"/>
<rect x="468.6" y="1005.6" width="16.1" height="16" fill="#ff6800"/>
<rect x="484.3" y="1005.6" width="16.1" height="16" fill="#ff6700"/>
<rect x="500" y="1005.6" width="16.1" height="16" fill="#ff6900"/>
<rect x="515.7" y="1005.6" width="16.1" height="16" fill="#ff6e00"/>
<rect x="531.4" y="1005.6" width="16.1" height="16" fill="#ff7500"/>
<rect x="547.1" y="1005.6" width="16.1" height="16" fill="#ff7d00"/>
<rect x="562.8" y="1005.6" width="16.1" height="16" fill="#ff8400"/>
<rect x="578.5" y="1005.6" width="16.1" height="16" fill="#ff8900"/>
<rect x="594.2" y="1005.6" width="16.1" height="16" fill="#ff8d00"/>
<rect x="609.9" y="1005.6" width="16.1" height="16" fill="#ff9300"/>
<rect x="170.3" y="1021.2" width="16.1" height="16" fill="#ff7e00"/>
<rect x="186" y="1021.2" width="16.1" height="16" fill="#ff7300"/>
<rect x="201.7" y="1021.2" width="16.1" height="16" fill="#ff6d00"/>
<rect x="217.4" y="1021.2" width="16.1" height="16" fill="#ff6b00"/>
<rect x="233.1" y="1021.2" width="16.1" height="16" fill="#ff6c00"/>
<rect x="248.8" y="1021.2" width="16.1" height="16" fill="#ff7000"/>
<rect x="264.5" y="1021.2" width="16.1" height="16" fill="#ff7700"/>
<rect x="280.2" y="1021.2" width="16.1" height="16" fill="#ff7e00"/>
<rect x="295.9" y="1021.2" width="16.1" height="16" fill="#ff8200"/>
<rect x="311.6" y="1021.2" width="16.1" height="16" fill="#ff8500"/>
<rect x="327.3" y="1021.2" width="16.1" height="16" fill="#ff8a00"/>
<rect x="343" y="1021.2" width="16.1" height="16" fill="#ff9000"/>
<rect x="358.7" y="1021.2" width="16.1" height="16" fill="#ff9a00"/>
<rect x="374.4" y="1021.2" width="16.1" height="16" fill="#ffa400"/>
<rect x="390.1" y="1021.2" width="16.1" height="16" fill="#ffa800"/>
<rect x="405.8" y="1021.2" width="16.1" height="16" fill="#ffa600"/>
<rect x="421.5" y="1021.2" width="16.1" height="16" fill="#ff9e00"/>
<rect x="437.2" y="1021.2" width="16.1" height="16" fill="#ff9100"/>
<rect x="452.9" y="1021.2" width="16.1" height="16" fill="#ff8500"/>
<rect x="468.6" y="1021.2" width="31.8" height="16" fill="#ff7f00"/>
<rect x="500" y="1021.2" width="16.1" height="16" fill="#ff8200"/>
<rect x="515.7" y="1021.2" width="16.1" height="16" fill="#ff8600"/>
<rect x="531.4" y="1021.2" width="16.1" height="16" fill="#ff8c00"/>
<rect x="547.1" y="1021.2" width="16.1" height="16" fill="#ff9100"/>
<rect x="562.8" y="1021.2" width="16.1" height="16" fill="#ff9800"/>
<rect x="578.5" y="1021.2" width="16.1" height="16" fill="#ff9d00"/>
<rect x="594.2" y="1021.2" width="16.1" height="16" fill="#ffa200"/>
<rect x="609.9" y="1021.2" width="16.1" height="16" fill="#ffa900"/>
<rect x="186" y="1036.9" width="16.1" height="16" fill="#ff8200"/>
<rect x="201.7" y="1036.9" width="31.8" height="16" fill="#ff7c00"/>
<rect x="233.1" y="1036.9" width="16.1" height="16" fill="#ff7f00"/>
<rect x="248.8" y="1036.9" width="16.1" height="16" fill="#ff8600"/>
<rect x="264.5" y="1036.9" width="16.1" height="16" fill="#ff8f00"/>
<rect x="280.2" y="1036.9" width="16.1" height="16" fill="#ff9700"/>
<rect x="295.9" y="1036.9" width="16.1" height="16" fill="#ff9d00"/>
<rect x="311.6" y="1036.9" width="16.1" height="16" fill="#ffa100"/>
<rect x="327.3" y="1036.9" width="16.1" height="16" fill="#ffa500"/>
<rect x="343" y="1036.9" width="16.1" height="16" fill="#ffac00"/>
<rect x="358.7" y="1036.9" width="16.1" height="16" fill="#ffb400"/>
<rect x="374.4" y="1036.9" width="16.1" height="16" fill="#ffbd00"/>
<rect x="390.1" y="1036.9" width="16.1" height="16" fill="#ffc100"/>
<rect x="405.8" y="1036.9" width="16.1" height="16" fill="#ffc200"/>
<rect x="421.5" y="1036.9" width="16.1" height="16" fill="#ffc000"/>
<rect x="437.2" y="1036.9" width="16.1" height="16" fill="#ffb500"/>
<rect x="452.9" y="1036.9" width="16.1" height="16" fill="#ffa800"/>
<rect x="468.6" y="1036.9" width="16.1" height="16" fill="#ffa200"/>
<rect x="484.3" y="1036.9" width="16.1" height="16" fill="#ffa300"/>
<rect x="500" y="1036.9" width="16.1" height="16" fill="#ffa400"/>
<rect x="515.7" y="1036.9" width="16.1" height="16" fill="#ffa700"/>
<rect x="531.4" y="1036.9" width="16.1" height="16" fill="#ffab00"/>
<rect x="547.1" y="1036.9" width="16.1" height="16" fill="#ffb000"/>
<rect x="562.8" y="1036.9" width="16.1" height="16" fill="#ffb600"/>
<rect x="578.5" y="1036.9" width="16.1" height="16" fill="#ffbc00"/>
<rect x="594.2" y="1036.9" width="16.1" height="16" fill="#ffc000"/>
<rect x="609.9" y="1036.9" width="16.1" height="16" fill="#ffc200"/>
<rect x="201.7" y="1052.5" width="16.1" height="16" fill="#ff8b00"/>
<rect x="217.4" y="1052.5" width="16.1" height="16" fill="#ff8c00"/>
<rect x="233.1" y="1052.5" width="16.1" height="16" fill="#ff9200"/>
<rect x="248.8" y="1052.5" width="16.1" height="16" fill="#ff9b00"/>
<rect x="264.5" y="1052.5" width="16.1" height="16" fill="#ffa400"/>
<rect x="280.2" y="1052.5" width="16.1" height="16" fill="#ffac00"/>
<rect x="295.9" y="1052.5" width="16.1" height="16" fill="#ffb200"/>
<rect x="311.6" y="1052.5" width="16.1" height="16" fill="#ffb700"/>
<rect x="327.3" y="1052.5" width="16.1" height="16" fill="#ffbc00"/>
<rect x="343" y="1052.5" width="16.1" height="16" fill="#ffc300"/>
<rect x="358.7" y="1052.5" width="16.1" height="16" fill="#ffc900"/>
<rect x="374.4" y="1052.5" width="16.1" height="16" fill="#ffd000"/>
<rect x="390.1" y="1052.5" width="16.1" height="16" fill="#ffd500"/>
<rect x="405.8" y="1052.5" width="16.1" height="16" fill="#ffd800"/>
<rect x="421.5" y="1052.5" width="16.1" height="16" fill="#ffdd00"/>
<rect x="437.2" y="1052.5" width="16.1" height="16" fill="#ffde00"/>
<rect x="452.9" y="1052.5" width="16.1" height="16" fill="#ffd400"/>
<rect x="468.6" y="1052.5" width="16.1" height="16" fill="#ffd300"/>
<rect x="484.3" y="1052.5" width="16.1" height="16" fill="#ffcf00"/>
<rect x="500" y="1052.5" width="16.1" height="16" fill="#ffcd00"/>
<rect x="515.7" y="1052.5" width="16.1" height="16" fill="#ffce00"/>
<rect x="531.4" y="1052.5" width="16.1" height="16" fill="#ffd000"/>
<rect x="547.1" y="1052.5" width="16.1" height="16" fill="#ffd200"/>
<rect x="562.8" y="1052.5" width="16.1" height="16" fill="#ffd700"/>
<rect x="578.5" y="1052.5" width="16.1" height="16" fill="#ffdc00"/>
<rect x="594.2" y="1052.5" width="16.1" height="16" fill="#ffde00"/>
<rect x="609.9" y="1052.5" width="16.1" height="16" fill="#ffdb00"/>
<rect x="217.4" y="1068.1" width="16.1" height="16" fill="#ff9900"/>
<rect x="233.1" y="1068.1" width="16.1" height="16" fill="#ffa100"/>
<rect x="248.8" y="1068.1" width="16.1" height="16" fill="#ffac00"/>
<rect x="264.5" y="1068.1" width="16.1" height="16" fill="#ffb300"/>
<rect x="280.2" y="1068.1" width="16.1" height="16" fill="#ffb900"/>
<rect x="295.9" y="1068.1" width="16.1" height="16" fill="#ffbf00"/>
<rect x="311.6" y="1068.1" width="16.1" height="16" fill="#ffc500"/>
<rect x="327.3" y="1068.1" width="16.1" height="16" fill="#ffcc00"/>
<rect x="343" y="1068.1" width="16.1" height="16" fill="#ffd200"/>
<rect x="358.7" y="1068.1" width="16.1" height="16" fill="#ffd600"/>
<rect x="374.4" y="1068.1" width="16.1" height="16" fill="#ffda00"/>
<rect x="390.1" y="1068.1" width="16.1" height="16" fill="#ffdd00"/>
<rect x="405.8" y="1068.1" width="16.1" height="16" fill="#ffe100"/>
<rect x="421.5" y="1068.1" width="16.1" height="16" fill="#ffe800"/>
<rect x="437.2" y="1068.1" width="16.1" height="16" fill="#ffec00"/>
<rect x="452.9" y="1068.1" width="16.1" height="16" fill="#ffed00"/>
<rect x="468.6" y="1068.1" width="31.8" height="16" fill="#ffef00"/>
<rect x="500" y="1068.1" width="16.1" height="16" fill="#fff000"/>
<rect x="515.7" y="1068.1" width="31.8" height="16" fill="#fff200"/>
<rect x="547.1" y="1068.1" width="16.1" height="16" fill="#fff300"/>
<rect x="562.8" y="1068.1" width="16.1" height="16" fill="#fff400"/>
<rect x="578.5" y="1068.1" width="16.1" height="16" fill="#fff500"/>
<rect x="233.1" y="1083.8" width="16.1" height="16" fill="#ffab00"/>
<rect x="248.8" y="1083.8" width="16.1" height="16" fill="#ffb400"/>
<rect x="264.5" y="1083.8" width="16.1" height="16" fill="#ffbb00"/>
<rect x="280.2" y="1083.8" width="16.1" height="16" fill="#ffc000"/>
<rect x="295.9" y="1083.8" width="16.1" height="16" fill="#ffc400"/>
<rect x="311.6" y="1083.8" width="16.1" height="16" fill="#ffca00"/>
<rect x="327.3" y="1083.8" width="16.1" height="16" fill="#ffd100"/>
<rect x="343" y="1083.8" width="16.1" height="16" fill="#ffd700"/>
<rect x="358.7" y="1083.8" width="16.1" height="16" fill="#ffd900"/>
<rect x="374.4" y="1083.8" width="16.1" height="16" fill="#ffda00"/>
<rect x="390.1" y="1083.8" width="16.1" height="16" fill="#ffdc00"/>
<rect x="405.8" y="1083.8" width="16.1" height="16" fill="#ffdf00"/>
<rect x="421.5" y="1083.8" width="16.1" height="16" fill="#ffe500"/>
<rect x="437.2" y="1083.8" width="16.1" height="16" fill="#ffec00"/>
<rect x="452.9" y="1083.8" width="16.1" height="16" fill="#fff300"/>
<rect x="468.6" y="1083.8" width="16.1" height="16" fill="#fffa00"/>
<rect x="484.3" y="1083.8" width="16.1" height="16" fill="#feff01"/>
<rect x="500" y="1083.8" width="16.1" height="16" fill="#f9ff06"/>
<rect x="515.7" y="1083.8" width="16.1" height="16" fill="#f4ff0b"/>
<rect x="531.4" y="1083.8" width="47.5" height="16" fill="#f5ff0a"/>
<rect x="233.1" y="1099.4" width="16.1" height="16" fill="#ffb000"/>
<rect x="248.8" y="1099.4" width="16.1" height="16" fill="#ffb700"/>
<rect x="264.5" y="1099.4" width="16.1" height="16" fill="#ffbc00"/>
<rect x="280.2" y="1099.4" width="16.1" height="16" fill="#ffc000"/>
<rect x="295.9" y="1099.4" width="16.1" height="16" fill="#ffc300"/>
<rect x="311.6" y="1099.4" width="16.1" height="16" fill="#ffc600"/>
<rect x="327.3" y="1099.4" width="16.1" height="16" fill="#ffcb00"/>
<rect x="343" y="1099.4" width="16.1" height="16" fill="#ffd100"/>
<rect x="358.7" y="1099.4" width="31.8" height="16" fill="#ffd400"/>
<rect x="390.1" y="1099.4" width="16.1" height="16" fill="#ffd600"/>
<rect x="405.8" y="1099.4" width="16.1" height="16" fill="#ffd800"/>
<rect x="421.5" y="1099.4" width="16.1" height="16" fill="#ffdd00"/>
<rect x="437.2" y="1099.4" width="16.1" height="16" fill="#ffe600"/>
<rect x="452.9" y="1099.4" width="16.1" height="16" fill="#fff100"/>
<rect x="468.6" y="1099.4" width="16.1" height="16" fill="#fffc00"/>
<rect x="484.3" y="1099.4" width="16.1" height="16" fill="#f9ff06"/>
<rect x="500" y="1099.4" width="16.1" height="16" fill="#f3ff0c"/>
<rect x="515.7" y="1099.4" width="16.1" height="16" fill="#efff10"/>
<rect x="531.4" y="1099.4" width="16.1" height="16" fill="#ebff14"/>
<rect x="248.8" y="1115" width="16.1" height="16" fill="#ffb700"/>
<rect x="264.5" y="1115" width="16.1" height="16" fill="#ffbb00"/>
<rect x="280.2" y="1115" width="47.5" height="16" fill="#ffbd00"/>
<rect x="327.3" y="1115" width="16.1" height="16" fill="#ffbf00"/>
<rect x="343" y="1115" width="16.1" height="16" fill="#ffc500"/>
<rect x="358.7" y="1115" width="16.1" height="16" fill="#ffc900"/>
<rect x="374.4" y="1115" width="16.1" height="16" fill="#ffcd00"/>
<rect x="390.1" y="1115" width="16.1" height="16" fill="#ffd300"/>
<rect x="405.8" y="1115" width="16.1" height="16" fill="#ffd200"/>
<rect x="421.5" y="1115" width="16.1" height="16" fill="#ffd600"/>
<rect x="437.2" y="1115" width="16.1" height="16" fill="#ffe000"/>
<rect x="452.9" y="1115" width="16.1" height="16" fill="#ffed00"/>
<rect x="468.6" y="1115" width="16.1" height="16" fill="#fffa00"/>
<rect x="484.3" y="1115" width="16.1" height="16" fill="#faff05"/>
<rect x="500" y="1115" width="16.1" height="16" fill="#f2ff0d"/>
<rect x="515.7" y="1115" width="16.1" height="16" fill="#ecff13"/>
<rect x="264.5" y="1130.7" width="16.1" height="16" fill="#ffb700"/>
<rect x="280.2" y="1130.7" width="16.1" height="16" fill="#ffb800"/>
<rect x="295.9" y="1130.7" width="16.1" height="16" fill="#ffb700"/>
<rect x="311.6" y="1130.7" width="16.1" height="16" fill="#ffb400"/>
<rect x="327.3" y="1130.7" width="16.1" height="16" fill="#ffb300"/>
<rect x="343" y="1130.7" width="16.1" height="16" fill="#ffb700"/>
<rect x="358.7" y="1130.7" width="16.1" height="16" fill="#ffbc00"/>
<rect x="374.4" y="1130.7" width="16.1" height="16" fill="#ffc100"/>
<rect x="390.1" y="1130.7" width="16.1" height="16" fill="#ffc700"/>
<rect x="405.8" y="1130.7" width="16.1" height="16" fill="#ffcb00"/>
<rect x="421.5" y="1130.7" width="16.1" height="16" fill="#ffd100"/>
<rect x="437.2" y="1130.7" width="16.1" height="16" fill="#ffdc00"/>
<rect x="452.9" y="1130.7" width="16.1" height="16" fill="#ffe900"/>
<rect x="468.6" y="1130.7" width="16.1" height="16" fill="#fff600"/>
<rect x="484.3" y="1130.7" width="16.1" height="16" fill="#fcff03"/>
<rect x="264.5" y="1146.3" width="31.8" height="16" fill="#ffb100"/>
<rect x="295.9" y="1146.3" width="16.1" height="16" fill="#ffb000"/>
<rect x="311.6" y="1146.3" width="16.1" height="16" fill="#ffac00"/>
<rect x="327.3" y="1146.3" width="16.1" height="16" fill="#ffaa00"/>
<rect x="343" y="1146.3" width="16.1" height="16" fill="#ffab00"/>
<rect x="358.7" y="1146.3" width="16.1" height="16" fill="#ffae00"/>
<rect x="374.4" y="1146.3" width="16.1" height="16" fill="#ffb400"/>
<rect x="390.1" y="1146.3" width="16.1" height="16" fill="#ffbb00"/>
<rect x="405.8" y="1146.3" width="16.1" height="16" fill="#ffc300"/>
<rect x="421.5" y="1146.3" width="16.1" height="16" fill="#ffcc00"/>
<rect x="437.2" y="1146.3" width="16.1" height="16" fill="#ffd800"/>
<rect x="452.9" y="1146.3" width="16.1" height="16" fill="#ffe500"/>
<rect x="280.2" y="1161.9" width="16.1" height="16" fill="#ffa900"/>
<rect x="295.9" y="1161.9" width="16.1" height="16" fill="#ffa700"/>
<rect x="311.6" y="1161.9" width="16.1" height="16" fill="#ffa400"/>
<rect x="327.3" y="1161.9" width="16.1" height="16" fill="#ffa300"/>
<rect x="343" y="1161.9" width="16.1" height="16" fill="#ffa200"/>
<rect x="358.7" y="1161.9" width="16.1" height="16" fill="#ffa400"/>
<rect x="374.4" y="1161.9" width="16.1" height="16" fill="#ffa800"/>
<rect x="390.1" y="1161.9" width="16.1" height="16" fill="#ffb100"/>
<rect x="405.8" y="1161.9" width="16.1" height="16" fill="#ffbb00"/>
<rect x="421.5" y="1161.9" width="16.1" height="16" fill="#ffc700"/>
<rect x="437.2" y="1161.9" width="16.1" height="16" fill="#ffd400"/>
<rect x="280.2" y="1177.5" width="16.1" height="16" fill="#ffa100"/>
<rect x="295.9" y="1177.5" width="16.1" height="16" fill="#ff9f00"/>
<rect x="311.6" y="1177.5" width="31.8" height="16" fill="#ff9e00"/>
<rect x="343" y="1177.5" width="16.1" height="16" fill="#ff9d00"/>
<rect x="295.9" y="1193.2" width="31.8" height="16" fill="#ff9b00"/>
</g>
<g shape-rendering="crispEdges">
<rect x="1046.5" y="786.8" width="16.1" height="16" fill="#9fff60"/>
<rect x="1062.2" y="786.8" width="16.1" height="16" fill="#a9ff56"/>
<rect x="1077.9" y="786.8" width="16.1" height="16" fill="#c2ff3d"/>
<rect x="1093.6" y="786.8" width="16.1" height="16" fill="#cbff34"/>
<rect x="1109.3" y="786.8" width="16.1" height="16" fill="#d0ff2f"/>
<rect x="1125" y="786.8" width="16.1" height="16" fill="#d5ff2a"/>
<rect x="1015.1" y="802.4" width="16.1" height="16" fill="#d2ff2d"/>
<rect x="1030.8" y="802.4" width="16.1" height="16" fill="#c2ff3d"/>
<rect x="1046.5" y="802.4" width="16.1" height="16" fill="#a5ff5a"/>
<rect x="1062.2" y="802.4" width="16.1" height="16" fill="#9aff65"/>
<rect x="1077.9" y="802.4" width="16.1" height="16" fill="#baff45"/>
<rect x="1093.6" y="802.4" width="16.1" height="16" fill="#c8ff37"/>
<rect x="1109.3" y="802.4" width="16.1" height="16" fill="#cfff30"/>
<rect x="1125" y="802.4" width="16.1" height="16" fill="#d9ff26"/>
<rect x="1140.7" y="802.4" width="16.1" height="16" fill="#deff21"/>
<rect x="999.4" y="818.1" width="16.1" height="16" fill="#dfff20"/>
<rect x="1015.1" y="818.1" width="16.1" height="16" fill="#d6ff29"/>
<rect x="1030.8" y="818.1" width="16.1" height="16" fill="#c8ff37"/>
<rect x="1046.5" y="818.1" width="16.1" height="16" fill="#b1ff4e"/>
<rect x="1062.2" y="818.1" width="16.1" height="16" fill="#a5ff5a"/>
<rect x="1077.9" y="818.1" width="16.1" height="16" fill="#b3ff4c"/>
<rect x="1093.6" y="818.1" width="16.1" height="16" fill="#c1ff3e"/>
<rect x="1109.3" y="818.1" width="16.1" height="16" fill="#cfff30"/>
<rect x="1125" y="818.1" width="16.1" height="16" fill="#ddff22"/>
<rect x="1140.7" y="818.1" width="16.1" height="16" fill="#e5ff1a"/>
<rect x="968" y="833.7" width="16.1" height="16" fill="#ffe000"/>
<rect x="983.7" y="833.7" width="16.1" height="16" fill="#f5ff0a"/>
<rect x="999.4" y="833.7" width="16.1" height="16" fill="#deff21"/>
<rect x="1015.1" y="833.7" width="16.1" height="16" fill="#d5ff2a"/>
<rect x="1030.8" y="833.7" width="16.1" height="16" fill="#ccff33"/>
<rect x="1046.5" y="833.7" width="16.1" height="16" fill="#c0ff3f"/>
<rect x="1062.2" y="833.7" width="31.8" height="16" fill="#baff45"/>
<rect x="1093.6" y="833.7" width="16.1" height="16" fill="#c2ff3d"/>
<rect x="1109.3" y="833.7" width="16.1" height="16" fill="#d1ff2e"/>
<rect x="1125" y="833.7" width="16.1" height="16" fill="#dfff20"/>
<rect x="1140.7" y="833.7" width="16.1" height="16" fill="#e7ff18"/>
<rect x="936.6" y="849.3" width="16.1" height="16" fill="#ffc600"/>
<rect x="952.3" y="849.3" width="16.1" height="16" fill="#ffd400"/>
<rect x="968" y="849.3" width="16.1" height="16" fill="#ffd900"/>
<rect x="983.7" y="849.3" width="16.1" height="16" fill="#fdff02"/>
<rect x="999.4" y="849.3" width="16.1" height="16" fill="#dfff20"/>
<rect x="1015.1" y="849.3" width="16.1" height="16" fill="#d2ff2d"/>
<rect x="1030.8" y="849.3" width="16.1" height="16" fill="#caff35"/>
<rect x="1046.5" y="849.3" width="16.1" height="16" fill="#c1ff3e"/>
<rect x="1062.2" y="849.3" width="16.1" height="16" fill="#bbff44"/>
<rect x="1077.9" y="849.3" width="16.1" height="16" fill="#bcff43"/>
<rect x="1093.6" y="849.3" width="16.1" height="16" fill="#c6ff39"/>
<rect x="1109.3" y="849.3" width="16.1" height="16" fill="#d4ff2b"/>
<rect x="1125" y="849.3" width="16.1" height="16" fill="#dfff20"/>
<rect x="1140.7" y="849.3" width="16.1" height="16" fill="#e6ff19"/>
<rect x="1156.4" y="849.3" width="16.1" height="16" fill="#2bffd4"/>
<rect x="920.9" y="864.9" width="16.1" height="16" fill="#ffae00"/>
<rect x="936.6" y="864.9" width="16.1" height="16" fill="#ffc000"/>
<rect x="952.3" y="864.9" width="16.1" height="16" fill="#ffd400"/>
<rect x="968" y="864.9" width="16.1" height="16" fill="#ffe700"/>
<rect x="983.7" y="864.9" width="16.1" height="16" fill="#f8ff07"/>
<rect x="999.4" y="864.9" width="16.1" height="16" fill="#e1ff1e"/>
<rect x="1015.1" y="864.9" width="16.1" height="16" fill="#d4ff2b"/>
<rect x="1030.8" y="864.9" width="16.1" height="16" fill="#cbff34"/>
<rect x="1046.5" y="864.9" width="16.1" height="16" fill="#c1ff3e"/>
<rect x="1062.2" y="864.9" width="16.1" height="16" fill="#b9ff46"/>
<rect x="1077.9" y="864.9" width="16.1" height="16" fill="#bdff42"/>
<rect x="1093.6" y="864.9" width="16.1" height="16" fill="#c9ff36"/>
<rect x="1109.3" y="864.9" width="16.1" height="16" fill="#d6ff29"/>
<rect x="1125" y="864.9" width="16.1" height="16" fill="#e0ff1f"/>
<rect x="1140.7" y="864.9" width="16.1" height="16" fill="#e6ff19"/>
<rect x="1156.4" y="864.9" width="16.1" height="16" fill="#e9ff16"/>
<rect x="1172.1" y="864.9" width="16.1" height="16" fill="#36ffc9"/>
<rect x="889.5" y="880.6" width="16.1" height="16" fill="#ffa900"/>
<rect x="905.2" y="880.6" width="16.1" height="16" fill="#ffa800"/>
<rect x="920.9" y="880.6" width="16.1" height="16" fill="#ffad00"/>
<rect x="936.6" y="880.6" width="16.1" height="16" fill="#ffbd00"/>
<rect x="952.3" y="880.6" width="16.1" height="16" fill="#ffd100"/>
<rect x="968" y="880.6" width="16.1" height="16" fill="#ffe800"/>
<rect x="983.7" y="880.6" width="16.1" height="16" fill="#ffff00"/>
<rect x="999.4" y="880.6" width="16.1" height="16" fill="#ecff13"/>
<rect x="1015.1" y="880.6" width="16.1" height="16" fill="#dfff20"/>
<rect x="1030.8" y="880.6" width="16.1" height="16" fill="#d5ff2a"/>
<rect x="1046.5" y="880.6" width="16.1" height="16" fill="#cbff34"/>
<rect x="1062.2" y="880.6" width="16.1" height="16" fill="#c5ff3a"/>
<rect x="1077.9" y="880.6" width="16.1" height="16" fill="#c7ff38"/>
<rect x="1093.6" y="880.6" width="16.1" height="16" fill="#d1ff2e"/>
<rect x="1109.3" y="880.6" width="16.1" height="16" fill="#dbff24"/>
<rect x="1125" y="880.6" width="16.1" height="16" fill="#e2ff1d"/>
<rect x="1140.7" y="880.6" width="16.1" height="16" fill="#e7ff18"/>
<rect x="1156.4" y="880.6" width="16.1" height="16" fill="#ecff13"/>
<rect x="1172.1" y="880.6" width="16.1" height="16" fill="#edff12"/>
<rect x="873.8" y="896.2" width="16.1" height="16" fill="#ffae00"/>
<rect x="889.5" y="896.2" width="16.1" height="16" fill="#ffa800"/>
<rect x="905.2" y="896.2" width="16.1" height="16" fill="#ffa700"/>
<rect x="920.9" y="896.2" width="16.1" height="16" fill="#ffad00"/>
<rect x="936.6" y="896.2" width="16.1" height="16" fill="#ffbb00"/>
<rect x="952.3" y="896.2" width="16.1" height="16" fill="#ffcf00"/>
<rect x="968" y="896.2" width="16.1" height="16" fill="#ffe100"/>
<rect x="983.7" y="896.2" width="16.1" height="16" fill="#ffee00"/>
<rect x="999.4" y="896.2" width="16.1" height="16" fill="#fffc00"/>
<rect x="1015.1" y="896.2" width="16.1" height="16" fill="#f5ff0a"/>
<rect x="1030.8" y="896.2" width="16.1" height="16" fill="#eaff15"/>
<rect x="1046.5" y="896.2" width="16.1" height="16" fill="#ddff22"/>
<rect x="1062.2" y="896.2" width="16.1" height="16" fill="#d7ff28"/>
<rect x="1077.9" y="896.2" width="16.1" height="16" fill="#d8ff27"/>
<rect x="1093.6" y="896.2" width="16.1" height="16" fill="#deff21"/>
<rect x="1109.3" y="896.2" width="16.1" height="16" fill="#e5ff1a"/>
<rect x="1125" y="896.2" width="16.1" height="16" fill="#ebff14"/>
<rect x="1140.7" y="896.2" width="16.1" height="16" fill="#f0ff0f"/>
<rect x="1156.4" y="896.2" width="16.1" height="16" fill="#f7ff08"/>
<rect x="1172.1" y="896.2" width="16.1" height="16" fill="#f9ff06"/>
<rect x="842.4" y="911.8" width="16.1" height="16" fill="#ffb700"/>
<rect x="858.1" y="911.8" width="16.1" height="16" fill="#ffb000"/>
<rect x="873.8" y="911.8" width="16.1" height="16" fill="#ffab00"/>
<rect x="889.5" y="911.8" width="16.1" height="16" fill="#ffa700"/>
<rect x="905.2" y="911.8" width="16.1" height="16" fill="#ffa500"/>
<rect x="920.9" y="911.8" width="16.1" height="16" fill="#ffa900"/>
<rect x="936.6" y="911.8" width="16.1" height="16" fill="#ffb400"/>
<rect x="952.3" y="911.8" width="16.1" height="16" fill="#ffc300"/>
<rect x="968" y="911.8" width="16.1" height="16" fill="#ffd000"/>
<rect x="983.7" y="911.8" width="16.1" height="16" fill="#ffd700"/>
<rect x="999.4" y="911.8" width="16.1" height="16" fill="#ffdd00"/>
<rect x="1015.1" y="911.8" width="16.1" height="16" fill="#ffe900"/>
<rect x="1030.8" y="911.8" width="16.1" height="16" fill="#fffa00"/>
<rect x="1046.5" y="911.8" width="16.1" height="16" fill="#f1ff0e"/>
<rect x="1062.2" y="911.8" width="31.8" height="16" fill="#e9ff16"/>
<rect x="1093.6" y="911.8" width="16.1" height="16" fill="#ecff13"/>
<rect x="1109.3" y="911.8" width="16.1" height="16" fill="#f1ff0e"/>
<rect x="1125" y="911.8" width="16.1" height="16" fill="#f9ff06"/>
<rect x="1140.7" y="911.8" width="16.1" height="16" fill="#fffb00"/>
<rect x="1156.4" y="911.8" width="16.1" height="16" fill="#fff100"/>
<rect x="1172.1" y="911.8" width="16.1" height="16" fill="#fff400"/>
<rect x="1187.8" y="911.8" width="16.1" height="16" fill="#e2ff1d"/>
<rect x="826.7" y="927.5" width="16.1" height="16" fill="#ffc100"/>
<rect x="842.4" y="927.5" width="16.1" height="16" fill="#ffb400"/>
<rect x="858.1" y="927.5" width="16.1" height="16" fill="#ffad00"/>
<rect x="873.8" y="927.5" width="16.1" height="16" fill="#ffa900"/>
<rect x="889.5" y="927.5" width="16.1" height="16" fill="#ffa600"/>
<rect x="905.2" y="927.5" width="31.8" height="16" fill="#ffa300"/>
<rect x="936.6" y="927.5" width="16.1" height="16" fill="#ffa900"/>
<rect x="952.3" y="927.5" width="16.1" height="16" fill="#ffb300"/>
<rect x="968" y="927.5" width="16.1" height="16" fill="#ffbb00"/>
<rect x="983.7" y="927.5" width="16.1" height="16" fill="#ffbe00"/>
<rect x="999.4" y="927.5" width="16.1" height="16" fill="#ffc200"/>
<rect x="1015.1" y="927.5" width="16.1" height="16" fill="#ffcd00"/>
<rect x="1030.8" y="927.5" width="16.1" height="16" fill="#ffe200"/>
<rect x="1046.5" y="927.5" width="16.1" height="16" fill="#fff900"/>
<rect x="1062.2" y="927.5" width="16.1" height="16" fill="#faff05"/>
<rect x="1077.9" y="927.5" width="31.8" height="16" fill="#f7ff08"/>
<rect x="1109.3" y="927.5" width="16.1" height="16" fill="#fbff04"/>
<rect x="1125" y="927.5" width="16.1" height="16" fill="#fffa00"/>
<rect x="1140.7" y="927.5" width="16.1" height="16" fill="#ffec00"/>
<rect x="1156.4" y="927.5" width="16.1" height="16" fill="#ffe200"/>
<rect x="1172.1" y="927.5" width="16.1" height="16" fill="#ffe600"/>
<rect x="1187.8" y="927.5" width="16.1" height="16" fill="#faff05"/>
<rect x="1203.5" y="927.5" width="16.1" height="16" fill="#9cff63"/>
<rect x="795.3" y="943.1" width="16.1" height="16" fill="#ffd900"/>
<rect x="811" y="943.1" width="16.1" height="16" fill="#ffd200"/>
<rect x="826.7" y="943.1" width="16.1" height="16" fill="#ffc100"/>
<rect x="842.4" y="943.1" width="16.1" height="16" fill="#ffb200"/>
<rect x="858.1" y="943.1" width="16.1" height="16" fill="#ffab00"/>
<rect x="873.8" y="943.1" width="16.1" height="16" fill="#ffa900"/>
<rect x="889.5" y="943.1" width="16.1" height="16" fill="#ffa600"/>
<rect x="905.2" y="943.1" width="16.1" height="16" fill="#ffa300"/>
<rect x="920.9" y="943.1" width="16.1" height="16" fill="#ffa000"/>
<rect x="936.6" y="943.1" width="16.1" height="16" fill="#ffa100"/>
<rect x="952.3" y="943.1" width="16.1" height="16" fill="#ffa600"/>
<rect x="968" y="943.1" width="16.1" height="16" fill="#ffaa00"/>
<rect x="983.7" y="943.1" width="16.1" height="16" fill="#ffac00"/>
<rect x="999.4" y="943.1" width="16.1" height="16" fill="#ffaf00"/>
<rect x="1015.1" y="943.1" width="16.1" height="16" fill="#ffba00"/>
<rect x="1030.8" y="943.1" width="16.1" height="16" fill="#ffd000"/>
<rect x="1046.5" y="943.1" width="16.1" height="16" fill="#ffe500"/>
<rect x="1062.2" y="943.1" width="16.1" height="16" fill="#fff300"/>
<rect x="1077.9" y="943.1" width="16.1" height="16" fill="#fffb00"/>
<rect x="1093.6" y="943.1" width="16.1" height="16" fill="#fffe00"/>
<rect x="1109.3" y="943.1" width="16.1" height="16" fill="#fffc00"/>
<rect x="1125" y="943.1" width="16.1" height="16" fill="#fff500"/>
<rect x="1140.7" y="943.1" width="16.1" height="16" fill="#ffe800"/>
<rect x="1156.4" y="943.1" width="16.1" height="16" fill="#ffdb00"/>
<rect x="1172.1" y="943.1" width="16.1" height="16" fill="#ffd200"/>
<rect x="1187.8" y="943.1" width="16.1" height="16" fill="#ffd000"/>
<rect x="1203.5" y="943.1" width="16.1" height="16" fill="#ffec00"/>
<rect x="1219.2" y="943.1" width="16.1" height="16" fill="#e1ff1e"/>
<rect x="763.9" y="958.7" width="16.1" height="16" fill="#ffc900"/>
<rect x="779.6" y="958.7" width="16.1" height="16" fill="#ffd600"/>
<rect x="795.3" y="958.7" width="16.1" height="16" fill="#ffdb00"/>
<rect x="811" y="958.7" width="16.1" height="16" fill="#ffd400"/>
<rect x="826.7" y="958.7" width="16.1" height="16" fill="#ffbf00"/>
<rect x="842.4" y="958.7" width="16.1" height="16" fill="#ffb100"/>
<rect x="858.1" y="958.7" width="16.1" height="16" fill="#ffac00"/>
<rect x="873.8" y="958.7" width="16.1" height="16" fill="#ffaa00"/>
<rect x="889.5" y="958.7" width="16.1" height="16" fill="#ffa800"/>
<rect x="905.2" y="958.7" width="16.1" height="16" fill="#ffa400"/>
<rect x="920.9" y="958.7" width="16.1" height="16" fill="#ffa000"/>
<rect x="936.6" y="958.7" width="16.1" height="16" fill="#ff9f00"/>
<rect x="952.3" y="958.7" width="31.8" height="16" fill="#ffa000"/>
<rect x="983.7" y="958.7" width="31.8" height="16" fill="#ff9f00"/>
<rect x="1015.1" y="958.7" width="16.1" height="16" fill="#ffa600"/>
<rect x="1030.8" y="958.7" width="16.1" height="16" fill="#ffb500"/>
<rect x="1046.5" y="958.7" width="16.1" height="16" fill="#ffc700"/>
<rect x="1062.2" y="958.7" width="16.1" height="16" fill="#ffd800"/>
<rect x="1077.9" y="958.7" width="16.1" height="16" fill="#ffe500"/>
<rect x="1093.6" y="958.7" width="16.1" height="16" fill="#ffe900"/>
<rect x="1109.3" y="958.7" width="16.1" height="16" fill="#ffef00"/>
<rect x="1125" y="958.7" width="16.1" height="16" fill="#fff000"/>
<rect x="1140.7" y="958.7" width="16.1" height="16" fill="#ffe600"/>
<rect x="1156.4" y="958.7" width="16.1" height="16" fill="#ffd600"/>
<rect x="1172.1" y="958.7" width="16.1" height="16" fill="#ffbf00"/>
<rect x="1187.8" y="958.7" width="16.1" height="16" fill="#ffa600"/>
<rect x="1203.5" y="958.7" width="16.1" height="16" fill="#ffa200"/>
<rect x="1219.2" y="958.7" width="16.1" height="16" fill="#ffe000"/>
<rect x="748.2" y="974.4" width="16.1" height="16" fill="#ffa500"/>
<rect x="763.9" y="974.4" width="16.1" height="16" fill="#ffc200"/>
<rect x="779.6" y="974.4" width="16.1" height="16" fill="#ffd100"/>
<rect x="795.3" y="974.4" width="16.1" height="16" fill="#ffd900"/>
<rect x="811" y="974.4" width="16.1" height="16" fill="#ffd500"/>
<rect x="826.7" y="974.4" width="16.1" height="16" fill="#ffc200"/>
<rect x="842.4" y="974.4" width="16.1" height="16" fill="#ffb400"/>
<rect x="858.1" y="974.4" width="16.1" height="16" fill="#ffaf00"/>
<rect x="873.8" y="974.4" width="16.1" height="16" fill="#ffab00"/>
<rect x="889.5" y="974.4" width="16.1" height="16" fill="#ffa900"/>
<rect x="905.2" y="974.4" width="16.1" height="16" fill="#ffa600"/>
<rect x="920.9" y="974.4" width="16.1" height="16" fill="#ffa400"/>
<rect x="936.6" y="974.4" width="16.1" height="16" fill="#ffa100"/>
<rect x="952.3" y="974.4" width="16.1" height="16" fill="#ffa000"/>
<rect x="968" y="974.4" width="16.1" height="16" fill="#ff9e00"/>
<rect x="983.7" y="974.4" width="16.1" height="16" fill="#ff9900"/>
<rect x="999.4" y="974.4" width="31.8" height="16" fill="#ff9400"/>
<rect x="1030.8" y="974.4" width="16.1" height="16" fill="#ff9a00"/>
<rect x="1046.5" y="974.4" width="16.1" height="16" fill="#ffa400"/>
<rect x="1062.2" y="974.4" width="16.1" height="16" fill="#ffaf00"/>
<rect x="1077.9" y="974.4" width="16.1" height="16" fill="#ffb400"/>
<rect x="1093.6" y="974.4" width="16.1" height="16" fill="#ffbc00"/>
<rect x="1109.3" y="974.4" width="16.1" height="16" fill="#ffd800"/>
<rect x="1125" y="974.4" width="16.1" height="16" fill="#ffdf00"/>
<rect x="1140.7" y="974.4" width="16.1" height="16" fill="#ffd200"/>
<rect x="1156.4" y="974.4" width="16.1" height="16" fill="#ffbc00"/>
<rect x="1172.1" y="974.4" width="16.1" height="16" fill="#ffad00"/>
<rect x="1187.8" y="974.4" width="16.1" height="16" fill="#ff8b00"/>
<rect x="1203.5" y="974.4" width="16.1" height="16" fill="#ff7a00"/>
<rect x="1219.2" y="974.4" width="16.1" height="16" fill="#ffa900"/>
<rect x="1234.9" y="974.4" width="16.1" height="16" fill="#ffd600"/>
<rect x="732.5" y="990" width="16.1" height="16" fill="#ffde00"/>
<rect x="748.2" y="990" width="16.1" height="16" fill="#ffa400"/>
<rect x="763.9" y="990" width="16.1" height="16" fill="#ffb900"/>
<rect x="779.6" y="990" width="16.1" height="16" fill="#ffc800"/>
<rect x="795.3" y="990" width="31.8" height="16" fill="#ffd400"/>
<rect x="826.7" y="990" width="16.1" height="16" fill="#ffc600"/>
<rect x="842.4" y="990" width="16.1" height="16" fill="#ffba00"/>
<rect x="858.1" y="990" width="16.1" height="16" fill="#ffb200"/>
<rect x="873.8" y="990" width="16.1" height="16" fill="#ffae00"/>
<rect x="889.5" y="990" width="16.1" height="16" fill="#ffac00"/>
<rect x="905.2" y="990" width="16.1" height="16" fill="#ffab00"/>
<rect x="920.9" y="990" width="16.1" height="16" fill="#ffaa00"/>
<rect x="936.6" y="990" width="16.1" height="16" fill="#ffa900"/>
<rect x="952.3" y="990" width="16.1" height="16" fill="#ffa700"/>
<rect x="968" y="990" width="16.1" height="16" fill="#ffa400"/>
<rect x="983.7" y="990" width="16.1" height="16" fill="#ff9d00"/>
<rect x="999.4" y="990" width="16.1" height="16" fill="#ff9500"/>
<rect x="1015.1" y="990" width="16.1" height="16" fill="#ff9200"/>
<rect x="1030.8" y="990" width="16.1" height="16" fill="#ff9400"/>
<rect x="1046.5" y="990" width="16.1" height="16" fill="#ff9800"/>
<rect x="1062.2" y="990" width="16.1" height="16" fill="#ff9900"/>
<rect x="1077.9" y="990" width="16.1" height="16" fill="#ff9100"/>
<rect x="1093.6" y="990" width="16.1" height="16" fill="#ff9900"/>
<rect x="1109.3" y="990" width="16.1" height="16" fill="#ffbc00"/>
<rect x="1125" y="990" width="16.1" height="16" fill="#ffc600"/>
<rect x="1140.7" y="990" width="16.1" height="16" fill="#ffb300"/>
<rect x="1156.4" y="990" width="16.1" height="16" fill="#ffa200"/>
<rect x="1172.1" y="990" width="16.1" height="16" fill="#ffa000"/>
<rect x="1187.8" y="990" width="16.1" height="16" fill="#ff8200"/>
<rect x="1203.5" y="990" width="16.1" height="16" fill="#ff7c00"/>
<rect x="1219.2" y="990" width="16.1" height="16" fill="#ffa200"/>
<rect x="1234.9" y="990" width="16.1" height="16" fill="#ffb200"/>
<rect x="748.2" y="1005.6" width="16.1" height="16" fill="#ffd800"/>
<rect x="763.9" y="1005.6" width="16.1" height="16" fill="#ffb700"/>
<rect x="779.6" y="1005.6" width="16.1" height="16" fill="#ffc000"/>
<rect x="795.3" y="1005.6" width="16.1" height="16" fill="#ffd100"/>
<rect x="811" y="1005.6" width="16.1" height="16" fill="#ffd200"/>
<rect x="826.7" y="1005.6" width="16.1" height="16" fill="#ffc400"/>
<rect x="842.4" y="1005.6" width="16.1" height="16" fill="#ffb800"/>
<rect x="858.1" y="1005.6" width="16.1" height="16" fill="#ffb100"/>
<rect x="873.8" y="1005.6" width="16.1" height="16" fill="#ffb000"/>
<rect x="889.5" y="1005.6" width="16.1" height="16" fill="#ffb200"/>
<rect x="905.2" y="1005.6" width="16.1" height="16" fill="#ffb400"/>
<rect x="920.9" y="1005.6" width="16.1" height="16" fill="#ffb500"/>
<rect x="936.6" y="1005.6" width="16.1" height="16" fill="#ffb600"/>
<rect x="952.3" y="1005.6" width="16.1" height="16" fill="#ffb700"/>
<rect x="968" y="1005.6" width="16.1" height="16" fill="#ffb400"/>
<rect x="983.7" y="1005.6" width="16.1" height="16" fill="#ffaf00"/>
<rect x="999.4" y="1005.6" width="16.1" height="16" fill="#ffa800"/>
<rect x="1015.1" y="1005.6" width="16.1" height="16" fill="#ffa400"/>
<rect x="1030.8" y="1005.6" width="16.1" height="16" fill="#ffa700"/>
<rect x="1046.5" y="1005.6" width="16.1" height="16" fill="#ffaa00"/>
<rect x="1062.2" y="1005.6" width="16.1" height="16" fill="#ffa900"/>
<rect x="1077.9" y="1005.6" width="16.1" height="16" fill="#ffaa00"/>
<rect x="1093.6" y="1005.6" width="16.1" height="16" fill="#ffb300"/>
<rect x="1109.3" y="1005.6" width="16.1" height="16" fill="#ffc100"/>
<rect x="1125" y="1005.6" width="16.1" height="16" fill="#ffc400"/>
<rect x="1140.7" y="1005.6" width="16.1" height="16" fill="#ffb700"/>
<rect x="1156.4" y="1005.6" width="16.1" height="16" fill="#ffac00"/>
<rect x="1172.1" y="1005.6" width="16.1" height="16" fill="#ffa500"/>
<rect x="1187.8" y="1005.6" width="16.1" height="16" fill="#ff9400"/>
<rect x="1203.5" y="1005.6" width="16.1" height="16" fill="#ff9700"/>
<rect x="1219.2" y="1005.6" width="16.1" height="16" fill="#ffa500"/>
<rect x="1234.9" y="1005.6" width="16.1" height="16" fill="#ffae00"/>
<rect x="795.3" y="1021.2" width="16.1" height="16" fill="#ffd300"/>
<rect x="811" y="1021.2" width="16.1" height="16" fill="#ffcd00"/>
<rect x="826.7" y="1021.2" width="16.1" height="16" fill="#ffba00"/>
<rect x="842.4" y="1021.2" width="16.1" height="16" fill="#ffb000"/>
<rect x="858.1" y="1021.2" width="16.1" height="16" fill="#ffad00"/>
<rect x="873.8" y="1021.2" width="16.1" height="16" fill="#ffb100"/>
<rect x="889.5" y="1021.2" width="16.1" height="16" fill="#ffb900"/>
<rect x="905.2" y="1021.2" width="16.1" height="16" fill="#ffc000"/>
<rect x="920.9" y="1021.2" width="16.1" height="16" fill="#ffc500"/>
<rect x="936.6" y="1021.2" width="16.1" height="16" fill="#ffc900"/>
<rect x="952.3" y="1021.2" width="16.1" height="16" fill="#ffcd00"/>
<rect x="968" y="1021.2" width="16.1" height="16" fill="#ffce00"/>
<rect x="983.7" y="1021.2" width="16.1" height="16" fill="#ffcd00"/>
<rect x="999.4" y="1021.2" width="16.1" height="16" fill="#ffc700"/>
<rect x="1015.1" y="1021.2" width="16.1" height="16" fill="#ffc600"/>
<rect x="1030.8" y="1021.2" width="16.1" height="16" fill="#ffca00"/>
<rect x="1046.5" y="1021.2" width="31.8" height="16" fill="#ffd000"/>
<rect x="1077.9" y="1021.2" width="16.1" height="16" fill="#ffd300"/>
<rect x="1093.6" y="1021.2" width="16.1" height="16" fill="#ffda00"/>
<rect x="1109.3" y="1021.2" width="16.1" height="16" fill="#ffd900"/>
<rect x="1125" y="1021.2" width="16.1" height="16" fill="#ffd600"/>
<rect x="1140.7" y="1021.2" width="16.1" height="16" fill="#ffcd00"/>
<rect x="1156.4" y="1021.2" width="16.1" height="16" fill="#ffc500"/>
<rect x="1172.1" y="1021.2" width="16.1" height="16" fill="#ffb800"/>
<rect x="1187.8" y="1021.2" width="16.1" height="16" fill="#ffaa00"/>
<rect x="1203.5" y="1021.2" width="16.1" height="16" fill="#ffab00"/>
<rect x="1219.2" y="1021.2" width="16.1" height="16" fill="#ffb600"/>
<rect x="1234.9" y="1021.2" width="16.1" height="16" fill="#ffbf00"/>
<rect x="811" y="1036.9" width="16.1" height="16" fill="#ffc700"/>
<rect x="826.7" y="1036.9" width="16.1" height="16" fill="#ffb000"/>
<rect x="842.4" y="1036.9" width="16.1" height="16" fill="#ffab00"/>
<rect x="858.1" y="1036.9" width="16.1" height="16" fill="#ffa800"/>
<rect x="873.8" y="1036.9" width="16.1" height="16" fill="#ffb100"/>
<rect x="889.5" y="1036.9" width="16.1" height="16" fill="#ffc400"/>
<rect x="905.2" y="1036.9" width="16.1" height="16" fill="#ffd200"/>
<rect x="920.9" y="1036.9" width="16.1" height="16" fill="#ffd900"/>
<rect x="936.6" y="1036.9" width="16.1" height="16" fill="#ffe100"/>
<rect x="952.3" y="1036.9" width="16.1" height="16" fill="#ffe900"/>
<rect x="968" y="1036.9" width="16.1" height="16" fill="#ffef00"/>
<rect x="983.7" y="1036.9" width="31.8" height="16" fill="#fff200"/>
<rect x="1015.1" y="1036.9" width="16.1" height="16" fill="#fff700"/>
<rect x="1030.8" y="1036.9" width="16.1" height="16" fill="#fffe00"/>
<rect x="1046.5" y="1036.9" width="16.1" height="16" fill="#fffd00"/>
<rect x="1062.2" y="1036.9" width="16.1" height="16" fill="#fbff04"/>
<rect x="1077.9" y="1036.9" width="16.1" height="16" fill="#fcff03"/>
<rect x="1093.6" y="1036.9" width="16.1" height="16" fill="#fffe00"/>
<rect x="1109.3" y="1036.9" width="16.1" height="16" fill="#fdff02"/>
<rect x="1125" y="1036.9" width="16.1" height="16" fill="#fff200"/>
<rect x="1140.7" y="1036.9" width="16.1" height="16" fill="#ffec00"/>
<rect x="1156.4" y="1036.9" width="16.1" height="16" fill="#ffe500"/>
<rect x="1172.1" y="1036.9" width="16.1" height="16" fill="#ffd600"/>
<rect x="1187.8" y="1036.9" width="16.1" height="16" fill="#ffc900"/>
<rect x="1203.5" y="1036.9" width="16.1" height="16" fill="#ffc800"/>
<rect x="1219.2" y="1036.9" width="16.1" height="16" fill="#ffc900"/>
<rect x="1234.9" y="1036.9" width="16.1" height="16" fill="#ffcb00"/>
<rect x="826.7" y="1052.5" width="16.1" height="16" fill="#ffb600"/>
<rect x="842.4" y="1052.5" width="16.1" height="16" fill="#ffad00"/>
<rect x="858.1" y="1052.5" width="16.1" height="16" fill="#ffa200"/>
<rect x="873.8" y="1052.5" width="16.1" height="16" fill="#ffaa00"/>
<rect x="889.5" y="1052.5" width="16.1" height="16" fill="#ffd300"/>
<rect x="905.2" y="1052.5" width="16.1" height="16" fill="#ffe800"/>
<rect x="920.9" y="1052.5" width="16.1" height="16" fill="#fff100"/>
<rect x="936.6" y="1052.5" width="16.1" height="16" fill="#fffa00"/>
<rect x="952.3" y="1052.5" width="16.1" height="16" fill="#f9ff06"/>
<rect x="968" y="1052.5" width="16.1" height="16" fill="#edff12"/>
<rect x="983.7" y="1052.5" width="16.1" height="16" fill="#e0ff1f"/>
<rect x="999.4" y="1052.5" width="16.1" height="16" fill="#d5ff2a"/>
<rect x="1015.1" y="1052.5" width="16.1" height="16" fill="#c6ff39"/>
<rect x="1030.8" y="1052.5" width="16.1" height="16" fill="#acff53"/>
<rect x="1046.5" y="1052.5" width="16.1" height="16" fill="#adff52"/>
<rect x="1062.2" y="1052.5" width="16.1" height="16" fill="#a5ff5a"/>
<rect x="1077.9" y="1052.5" width="16.1" height="16" fill="#9eff61"/>
<rect x="1093.6" y="1052.5" width="16.1" height="16" fill="#9dff62"/>
<rect x="1109.3" y="1052.5" width="16.1" height="16" fill="#a9ff56"/>
<rect x="1125" y="1052.5" width="16.1" height="16" fill="#b9ff46"/>
<rect x="1140.7" y="1052.5" width="16.1" height="16" fill="#c7ff38"/>
<rect x="1156.4" y="1052.5" width="16.1" height="16" fill="#dfff20"/>
<rect x="1172.1" y="1052.5" width="16.1" height="16" fill="#f8ff07"/>
<rect x="1187.8" y="1052.5" width="16.1" height="16" fill="#fff400"/>
<rect x="1203.5" y="1052.5" width="16.1" height="16" fill="#ffeb00"/>
<rect x="1219.2" y="1052.5" width="16.1" height="16" fill="#ffdc00"/>
<rect x="1234.9" y="1052.5" width="16.1" height="16" fill="#ffd100"/>
<rect x="842.4" y="1068.1" width="16.1" height="16" fill="#ffa900"/>
<rect x="858.1" y="1068.1" width="16.1" height="16" fill="#ff9f00"/>
<rect x="873.8" y="1068.1" width="16.1" height="16" fill="#ffa700"/>
<rect x="889.5" y="1068.1" width="16.1" height="16" fill="#ffdd00"/>
<rect x="905.2" y="1068.1" width="16.1" height="16" fill="#fff800"/>
<rect x="920.9" y="1068.1" width="16.1" height="16" fill="#fbff04"/>
<rect x="936.6" y="1068.1" width="16.1" height="16" fill="#f0ff0f"/>
<rect x="952.3" y="1068.1" width="16.1" height="16" fill="#e3ff1c"/>
<rect x="968" y="1068.1" width="16.1" height="16" fill="#d1ff2e"/>
<rect x="983.7" y="1068.1" width="16.1" height="16" fill="#b9ff46"/>
<rect x="999.4" y="1068.1" width="16.1" height="16" fill="#9cff63"/>
<rect x="1015.1" y="1068.1" width="16.1" height="16" fill="#79ff86"/>
<rect x="1030.8" y="1068.1" width="16.1" height="16" fill="#5effa1"/>
<rect x="1046.5" y="1068.1" width="16.1" height="16" fill="#53ffac"/>
<rect x="1062.2" y="1068.1" width="16.1" height="16" fill="#52ffad"/>
<rect x="1077.9" y="1068.1" width="16.1" height="16" fill="#4cffb3"/>
<rect x="1093.6" y="1068.1" width="16.1" height="16" fill="#47ffb8"/>
<rect x="1109.3" y="1068.1" width="16.1" height="16" fill="#52ffad"/>
<rect x="1125" y="1068.1" width="16.1" height="16" fill="#4cffb3"/>
<rect x="1140.7" y="1068.1" width="16.1" height="16" fill="#5dffa2"/>
<rect x="1156.4" y="1068.1" width="16.1" height="16" fill="#74ff8b"/>
<rect x="1172.1" y="1068.1" width="16.1" height="16" fill="#9cff63"/>
<rect x="1187.8" y="1068.1" width="16.1" height="16" fill="#b9ff46"/>
<rect x="1203.5" y="1068.1" width="16.1" height="16" fill="#d5ff2a"/>
<rect x="1219.2" y="1068.1" width="16.1" height="16" fill="#f7ff08"/>
<rect x="858.1" y="1083.8" width="16.1" height="16" fill="#ffa900"/>
<rect x="873.8" y="1083.8" width="16.1" height="16" fill="#ffc400"/>
<rect x="889.5" y="1083.8" width="16.1" height="16" fill="#ffec00"/>
<rect x="905.2" y="1083.8" width="16.1" height="16" fill="#feff01"/>
<rect x="920.9" y="1083.8" width="16.1" height="16" fill="#f3ff0c"/>
<rect x="936.6" y="1083.8" width="16.1" height="16" fill="#e7ff18"/>
<rect x="952.3" y="1083.8" width="16.1" height="16" fill="#d6ff29"/>
<rect x="968" y="1083.8" width="16.1" height="16" fill="#c0ff3f"/>
<rect x="983.7" y="1083.8" width="16.1" height="16" fill="#a3ff5c"/>
<rect x="999.4" y="1083.8" width="16.1" height="16" fill="#82ff7d"/>
<rect x="1015.1" y="1083.8" width="16.1" height="16" fill="#5bffa4"/>
<rect x="1030.8" y="1083.8" width="16.1" height="16" fill="#46ffb9"/>
<rect x="1046.5" y="1083.8" width="16.1" height="16" fill="#3bffc4"/>
<rect x="1062.2" y="1083.8" width="16.1" height="16" fill="#37ffc8"/>
<rect x="1077.9" y="1083.8" width="16.1" height="16" fill="#33ffcc"/>
<rect x="1093.6" y="1083.8" width="16.1" height="16" fill="#2dffd2"/>
<rect x="1109.3" y="1083.8" width="47.5" height="16" fill="#31ffce"/>
<rect x="1156.4" y="1083.8" width="16.1" height="16" fill="#29ffd6"/>
<rect x="1172.1" y="1083.8" width="16.1" height="16" fill="#41ffbe"/>
<rect x="1187.8" y="1083.8" width="16.1" height="16" fill="#64ff9b"/>
<rect x="858.1" y="1099.4" width="16.1" height="16" fill="#ffb500"/>
<rect x="873.8" y="1099.4" width="16.1" height="16" fill="#ffcb00"/>
<rect x="889.5" y="1099.4" width="16.1" height="16" fill="#ffeb00"/>
<rect x="905.2" y="1099.4" width="16.1" height="16" fill="#ffff00"/>
<rect x="920.9" y="1099.4" width="16.1" height="16" fill="#f2ff0d"/>
<rect x="936.6" y="1099.4" width="16.1" height="16" fill="#e3ff1c"/>
<rect x="952.3" y="1099.4" width="16.1" height="16" fill="#cfff30"/>
<rect x="968" y="1099.4" width="16.1" height="16" fill="#b4ff4b"/>
<rect x="983.7" y="1099.4" width="16.1" height="16" fill="#92ff6d"/>
<rect x="999.4" y="1099.4" width="16.1" height="16" fill="#70ff8f"/>
<rect x="1015.1" y="1099.4" width="16.1" height="16" fill="#4effb1"/>
<rect x="1030.8" y="1099.4" width="16.1" height="16" fill="#3cffc3"/>
<rect x="1046.5" y="1099.4" width="16.1" height="16" fill="#36ffc9"/>
<rect x="1062.2" y="1099.4" width="16.1" height="16" fill="#30ffcf"/>
<rect x="1077.9" y="1099.4" width="16.1" height="16" fill="#2bffd4"/>
<rect x="1093.6" y="1099.4" width="16.1" height="16" fill="#27ffd8"/>
<rect x="1109.3" y="1099.4" width="16.1" height="16" fill="#2affd5"/>
<rect x="1125" y="1099.4" width="16.1" height="16" fill="#31ffce"/>
<rect x="1140.7" y="1099.4" width="16.1" height="16" fill="#28ffd7"/>
<rect x="1156.4" y="1099.4" width="16.1" height="16" fill="#25ffda"/>
<rect x="873.8" y="1115" width="16.1" height="16" fill="#ffdc00"/>
<rect x="889.5" y="1115" width="16.1" height="16" fill="#fff100"/>
<rect x="905.2" y="1115" width="16.1" height="16" fill="#feff01"/>
<rect x="920.9" y="1115" width="16.1" height="16" fill="#f1ff0e"/>
<rect x="936.6" y="1115" width="16.1" height="16" fill="#dfff20"/>
<rect x="952.3" y="1115" width="16.1" height="16" fill="#c6ff39"/>
<rect x="968" y="1115" width="16.1" height="16" fill="#a5ff5a"/>
<rect x="983.7" y="1115" width="16.1" height="16" fill="#7fff80"/>
<rect x="999.4" y="1115" width="16.1" height="16" fill="#5effa1"/>
<rect x="1015.1" y="1115" width="16.1" height="16" fill="#45ffba"/>
<rect x="1030.8" y="1115" width="16.1" height="16" fill="#39ffc6"/>
<rect x="1046.5" y="1115" width="16.1" height="16" fill="#34ffcb"/>
<rect x="1062.2" y="1115" width="16.1" height="16" fill="#2effd1"/>
<rect x="1077.9" y="1115" width="16.1" height="16" fill="#28ffd7"/>
<rect x="1093.6" y="1115" width="63.2" height="16" fill="#25ffda"/>
<rect x="873.8" y="1130.7" width="16.1" height="16" fill="#ffed00"/>
<rect x="889.5" y="1130.7" width="16.1" height="16" fill="#fffb00"/>
<rect x="905.2" y="1130.7" width="16.1" height="16" fill="#fcff03"/>
<rect x="920.9" y="1130.7" width="16.1" height="16" fill="#f0ff0f"/>
<rect x="936.6" y="1130.7" width="16.1" height="16" fill="#daff25"/>
<rect x="952.3" y="1130.7" width="16.1" height="16" fill="#baff45"/>
<rect x="968" y="1130.7" width="16.1" height="16" fill="#95ff6a"/>
<rect x="983.7" y="1130.7" width="16.1" height="16" fill="#70ff8f"/>
<rect x="999.4" y="1130.7" width="16.1" height="16" fill="#51ffae"/>
<rect x="1015.1" y="1130.7" width="16.1" height="16" fill="#3fffc0"/>
<rect x="1030.8" y="1130.7" width="16.1" height="16" fill="#38ffc7"/>
<rect x="1046.5" y="1130.7" width="16.1" height="16" fill="#34ffcb"/>
<rect x="1062.2" y="1130.7" width="16.1" height="16" fill="#2dffd2"/>
<rect x="1077.9" y="1130.7" width="16.1" height="16" fill="#27ffd8"/>
<rect x="1093.6" y="1130.7" width="31.8" height="16" fill="#25ffda"/>
<rect x="889.5" y="1146.3" width="16.1" height="16" fill="#feff01"/>
<rect x="905.2" y="1146.3" width="16.1" height="16" fill="#f8ff07"/>
<rect x="920.9" y="1146.3" width="16.1" height="16" fill="#eeff11"/>
<rect x="936.6" y="1146.3" width="16.1" height="16" fill="#d5ff2a"/>
<rect x="952.3" y="1146.3" width="16.1" height="16" fill="#b1ff4e"/>
<rect x="968" y="1146.3" width="16.1" height="16" fill="#88ff77"/>
<rect x="983.7" y="1146.3" width="16.1" height="16" fill="#65ff9a"/>
<rect x="999.4" y="1146.3" width="16.1" height="16" fill="#4cffb3"/>
<rect x="1015.1" y="1146.3" width="16.1" height="16" fill="#3effc1"/>
<rect x="1030.8" y="1146.3" width="16.1" height="16" fill="#38ffc7"/>
<rect x="1046.5" y="1146.3" width="16.1" height="16" fill="#34ffcb"/>
<rect x="1062.2" y="1146.3" width="16.1" height="16" fill="#2dffd2"/>
<rect x="1077.9" y="1146.3" width="16.1" height="16" fill="#26ffd9"/>
<rect x="1093.6" y="1146.3" width="16.1" height="16" fill="#25ffda"/>
<rect x="905.2" y="1161.9" width="16.1" height="16" fill="#f0ff0f"/>
<rect x="920.9" y="1161.9" width="16.1" height="16" fill="#e5ff1a"/>
<rect x="936.6" y="1161.9" width="16.1" height="16" fill="#ceff31"/>
<rect x="952.3" y="1161.9" width="16.1" height="16" fill="#aaff55"/>
<rect x="968" y="1161.9" width="16.1" height="16" fill="#81ff7e"/>
<rect x="983.7" y="1161.9" width="16.1" height="16" fill="#60ff9f"/>
<rect x="999.4" y="1161.9" width="16.1" height="16" fill="#4affb5"/>
<rect x="1015.1" y="1161.9" width="16.1" height="16" fill="#3effc1"/>
<rect x="1030.8" y="1161.9" width="16.1" height="16" fill="#39ffc6"/>
<rect x="1046.5" y="1161.9" width="16.1" height="16" fill="#36ffc9"/>
<rect x="1062.2" y="1161.9" width="16.1" height="16" fill="#2effd1"/>
<rect x="905.2" y="1177.5" width="16.1" height="16" fill="#e4ff1b"/>
<rect x="920.9" y="1177.5" width="16.1" height="16" fill="#d8ff27"/>
<rect x="936.6" y="1177.5" width="16.1" height="16" fill="#c2ff3d"/>
<rect x="952.3" y="1177.5" width="16.1" height="16" fill="#a1ff5e"/>
<rect x="968" y="1177.5" width="16.1" height="16" fill="#7cff83"/>
<rect x="920.9" y="1193.2" width="16.1" height="16" fill="#c9ff36"/>
<rect x="936.6" y="1193.2" width="16.1" height="16" fill="#b5ff4a"/>
</g>
<path d="M233.7 54.5L231 70.7L237 80L234.5 95L233.7 102.2L234.8 116.4L239.8 134.7L241.9 148.9L248 159L254 173.3" stroke="#a8a8a8" stroke-width="1.3" fill="none" stroke-linejoin="round"/>
<path d="M343 592.4L340.3 602L344.4 615.6L341.6 629.2L345.7 640L337.6 648.2L334.8 658.5" stroke="#a8a8a8" stroke-width="1.3" fill="none" stroke-linejoin="round"/>
<path d="M561.7 54.5L556.7 74.8L565.9 90L573.9 96L580 108.2L582 122.3L586 134.4L589 148.6L586 164.7L590 178.9L584 187L569.9 191L557.8 195L553.7 205L541.6 215.3L529.5 221.3L519.4 227.4L515.4 233.4L521.4 239.5L529.5 251.6L533.5 265.8L535.6 283.9" stroke="#a8a8a8" stroke-width="1.3" fill="none" stroke-linejoin="round"/>
<path d="M490.4 535L488.2 555.3L490.4 577.9L485.9 600.4L479.1 620L477.3 631.2L472.3 658.5" stroke="#a8a8a8" stroke-width="1.3" fill="none" stroke-linejoin="round"/>
<path d="M648.5 305.8L636.2 318.2L631.3 348L626.3 387.7L616.4 432.5L613.9 454.8L621.3 467.2L638.7 477.2L648.5 482.1" stroke="#a8a8a8" stroke-width="1.3" fill="none" stroke-linejoin="round"/>
<path d="M648.5 499.5L628.8 516.9L603.9 529.3L574.1 536.8L556.7 546.7L551.8 566.6L546.8 586.4L544.3 601.3" stroke="#a8a8a8" stroke-width="1.3" fill="none" stroke-linejoin="round"/>
<path d="M545.5 612L551.8 623.7L569.2 636.1L603.9 648.5L638.7 656L648.5 658.5" stroke="#a8a8a8" stroke-width="1.3" fill="none" stroke-linejoin="round"/>
<path d="M648.5 541.7L636.2 556.6L628.8 574L631.3 586.4" stroke="#a8a8a8" stroke-width="1.3" fill="none" stroke-linejoin="round"/>
<path d="M640 600L643.7 603.8L648.5 606.3" stroke="#a8a8a8" stroke-width="1.3" fill="none" stroke-linejoin="round"/>
<path d="M89.4 588.8L101.6 580.6L105.6 570.5L103.6 560.3L113.8 554.2L125.9 550.2L132 545L138.1 552.2L142.2 562.3L146.3 576.6L152.3 580.6L158.4 574L160.8 558.4L158.1 544.9L169 531.3L182.6 523.1L193.4 517.7L196.2 506.8L192.1 501.3L201.6 495.9L212.5 476.9L217.9 449.7L223.3 433.3L230.1 425.2" stroke="#a8a8a8" stroke-width="1.3" fill="none" stroke-linejoin="round"/>
<path d="M647 262L646 275" stroke="#a8a8a8" stroke-width="1.3" fill="none" stroke-linejoin="round"/>
<path d="M408.5 58L413 56.5L420 60L419 68L413.5 69.5L410 65Z" stroke="#a8a8a8" stroke-width="1.3" fill="none" stroke-linejoin="round"/>
<path d="M133 553L135.5 551L137 555L135 558Z" stroke="#a8a8a8" stroke-width="1.3" fill="none" stroke-linejoin="round"/>
<ellipse cx="557.7" cy="99.6" rx="2.2" ry="1.8" fill="#b5b5b5"/>
<ellipse cx="637.7" cy="134.4" rx="2.2" ry="1.8" fill="#b5b5b5"/>
<ellipse cx="568.2" cy="201.4" rx="2.4" ry="2.0" fill="#b5b5b5"/>
<ellipse cx="250" cy="136.5" rx="1" ry="1" fill="#b5b5b5"/>
<ellipse cx="74.5" cy="195.5" rx="1" ry="1" fill="#b5b5b5"/>
<ellipse cx="163" cy="571" rx="1.2" ry="1.2" fill="#b5b5b5"/>
<ellipse cx="318" cy="578" rx="1" ry="1" fill="#b5b5b5"/>
<text transform="translate(547.5,607) rotate(75)" font-size="6.5" fill="#555" text-anchor="middle">-2000</text>
<text transform="translate(636.5,595) rotate(35)" font-size="6.5" fill="#555" text-anchor="middle">-1000</text>
<text transform="translate(645,254) rotate(80)" font-size="5.5" fill="#555" text-anchor="middle">-200</text>
<text transform="translate(162,563) rotate(80)" font-size="5" fill="#555" text-anchor="middle">-3000</text>
<path d="M854.3 54.5L851.6 70.7L857.6 80L855.1 95L854.3 102.2L855.4 116.4L860.4 134.7L862.5 148.9L868.6 159L874.6 173.3" stroke="#a8a8a8" stroke-width="1.3" fill="none" stroke-linejoin="round"/>
<path d="M963.6 592.4L960.9 602L965 615.6L962.2 629.2L966.3 640L958.2 648.2L955.4 658.5" stroke="#a8a8a8" stroke-width="1.3" fill="none" stroke-linejoin="round"/>
<path d="M1182.3 54.5L1177.3 74.8L1186.5 90L1194.5 96L1200.6 108.2L1202.6 122.3L1206.6 134.4L1209.6 148.6L1206.6 164.7L1210.6 178.9L1204.6 187L1190.5 191L1178.4 195L1174.3 205L1162.2 215.3L1150.1 221.3L1140 227.4L1136 233.4L1142 239.5L1150.1 251.6L1154.1 265.8L1156.2 283.9" stroke="#a8a8a8" stroke-width="1.3" fill="none" stroke-linejoin="round"/>
<path d="M1111 535L1108.8 555.3L1111 577.9L1106.5 600.4L1099.7 620L1097.9 631.2L1092.9 658.5" stroke="#a8a8a8" stroke-width="1.3" fill="none" stroke-linejoin="round"/>
<path d="M1269.1 305.8L1256.8 318.2L1251.9 348L1246.9 387.7L1237 432.5L1234.5 454.8L1241.9 467.2L1259.3 477.2L1269.1 482.1" stroke="#a8a8a8" stroke-width="1.3" fill="none" stroke-linejoin="round"/>
<path d="M1269.1 499.5L1249.4 516.9L1224.5 529.3L1194.7 536.8L1177.3 546.7L1172.4 566.6L1167.4 586.4L1164.9 601.3" stroke="#a8a8a8" stroke-width="1.3" fill="none" stroke-linejoin="round"/>
<path d="M1166.1 612L1172.4 623.7L1189.8 636.1L1224.5 648.5L1259.3 656L1269.1 658.5" stroke="#a8a8a8" stroke-width="1.3" fill="none" stroke-linejoin="round"/>
<path d="M1269.1 541.7L1256.8 556.6L1249.4 574L1251.9 586.4" stroke="#a8a8a8" stroke-width="1.3" fill="none" stroke-linejoin="round"/>
<path d="M1260.6 600L1264.3 603.8L1269.1 606.3" stroke="#a8a8a8" stroke-width="1.3" fill="none" stroke-linejoin="round"/>
<path d="M710 588.8L722.2 580.6L726.2 570.5L724.2 560.3L734.4 554.2L746.5 550.2L752.6 545L758.7 552.2L762.8 562.3L766.9 576.6L772.9 580.6L779 574L781.4 558.4L778.7 544.9L789.6 531.3L803.2 523.1L814 517.7L816.8 506.8L812.7 501.3L822.2 495.9L833.1 476.9L838.5 449.7L843.9 433.3L850.7 425.2" stroke="#a8a8a8" stroke-width="1.3" fill="none" stroke-linejoin="round"/>
<path d="M1267.6 262L1266.6 275" stroke="#a8a8a8" stroke-width="1.3" fill="none" stroke-linejoin="round"/>
<path d="M1029.1 58L1033.6 56.5L1040.6 60L1039.6 68L1034.1 69.5L1030.6 65Z" stroke="#a8a8a8" stroke-width="1.3" fill="none" stroke-linejoin="round"/>
<path d="M753.6 553L756.1 551L757.6 555L755.6 558Z" stroke="#a8a8a8" stroke-width="1.3" fill="none" stroke-linejoin="round"/>
<ellipse cx="1178.3" cy="99.6" rx="2.2" ry="1.8" fill="#b5b5b5"/>
<ellipse cx="1258.3" cy="134.4" rx="2.2" ry="1.8" fill="#b5b5b5"/>
<ellipse cx="1188.8" cy="201.4" rx="2.4" ry="2.0" fill="#b5b5b5"/>
<ellipse cx="870.6" cy="136.5" rx="1" ry="1" fill="#b5b5b5"/>
<ellipse cx="695.1" cy="195.5" rx="1" ry="1" fill="#b5b5b5"/>
<ellipse cx="783.6" cy="571" rx="1.2" ry="1.2" fill="#b5b5b5"/>
<ellipse cx="938.6" cy="578" rx="1" ry="1" fill="#b5b5b5"/>
<text transform="translate(1168.1,607) rotate(75)" font-size="6.5" fill="#555" text-anchor="middle">-2000</text>
<text transform="translate(1257.1,595) rotate(35)" font-size="6.5" fill="#555" text-anchor="middle">-1000</text>
<text transform="translate(1265.6,254) rotate(80)" font-size="5.5" fill="#555" text-anchor="middle">-200</text>
<text transform="translate(782.6,563) rotate(80)" font-size="5" fill="#555" text-anchor="middle">-3000</text>
<path d="M432.5 764.5L428.9 778L427.9 786.5" stroke="#a8a8a8" stroke-width="1.3" fill="none" stroke-linejoin="round"/>
<path d="M328.4 1195.3L333.4 1207.5L335.5 1223.8L337.5 1234.5" stroke="#a8a8a8" stroke-width="1.3" fill="none" stroke-linejoin="round"/>
<path d="M649.3 1051L642.2 1049L634 1044L626.5 1047.5L622 1058L618.8 1069.4L613.8 1085.6L610.7 1101.9L612.7 1122.2L609.7 1138.4L601.6 1152.7L591.4 1162.8L586.3 1175L591.4 1187.2L597 1193" stroke="#a8a8a8" stroke-width="1.3" fill="none" stroke-linejoin="round"/>
<path d="M607 1201L613.8 1205.5L621.9 1215.6L624.9 1225.8L623.9 1234.5" stroke="#a8a8a8" stroke-width="1.3" fill="none" stroke-linejoin="round"/>
<path d="M219 788L228 783.5L232.5 791L224 796.5Z" stroke="#a8a8a8" stroke-width="1.3" fill="none" stroke-linejoin="round"/>
<path d="M90 905L96 901L100 908L94 912.5Z" stroke="#a8a8a8" stroke-width="1.3" fill="none" stroke-linejoin="round"/>
<path d="M461 1207L468 1204.5L469 1211Z" stroke="#a8a8a8" stroke-width="1.3" fill="none" stroke-linejoin="round"/>
<text transform="translate(227,785) rotate(-25)" font-size="6" fill="#555" text-anchor="middle">-4000</text>
<text transform="translate(99,906) rotate(55)" font-size="6" fill="#555" text-anchor="middle">-4000</text>
<text transform="translate(603,1199) rotate(40)" font-size="6.5" fill="#555" text-anchor="middle">-3000</text>
<path d="M1057.5 764.5L1053.9 778L1052.9 786.5" stroke="#a8a8a8" stroke-width="1.3" fill="none" stroke-linejoin="round"/>
<path d="M953.4 1195.3L958.4 1207.5L960.5 1223.8L962.5 1234.5" stroke="#a8a8a8" stroke-width="1.3" fill="none" stroke-linejoin="round"/>
<path d="M1274.3 1051L1267.2 1049L1259 1044L1251.5 1047.5L1247 1058L1243.8 1069.4L1238.8 1085.6L1235.7 1101.9L1237.7 1122.2L1234.7 1138.4L1226.6 1152.7L1216.4 1162.8L1211.3 1175L1216.4 1187.2L1222 1193" stroke="#a8a8a8" stroke-width="1.3" fill="none" stroke-linejoin="round"/>
<path d="M1232 1201L1238.8 1205.5L1246.9 1215.6L1249.9 1225.8L1248.9 1234.5" stroke="#a8a8a8" stroke-width="1.3" fill="none" stroke-linejoin="round"/>
<path d="M844 788L853 783.5L857.5 791L849 796.5Z" stroke="#a8a8a8" stroke-width="1.3" fill="none" stroke-linejoin="round"/>
<path d="M715 905L721 901L725 908L719 912.5Z" stroke="#a8a8a8" stroke-width="1.3" fill="none" stroke-linejoin="round"/>
<path d="M1086 1207L1093 1204.5L1094 1211Z" stroke="#a8a8a8" stroke-width="1.3" fill="none" stroke-linejoin="round"/>
<text transform="translate(852,785) rotate(-25)" font-size="6" fill="#555" text-anchor="middle">-4000</text>
<text transform="translate(724,906) rotate(55)" font-size="6" fill="#555" text-anchor="middle">-4000</text>
<text transform="translate(1228,1199) rotate(40)" font-size="6.5" fill="#555" text-anchor="middle">-3000</text>
<path d="M318.5 374.6L318.2 375.7L318.5 376L332.4 377.9L337.4 375.7L332.4 370.2L318.5 374.6M360.1 388L351.6 389.5L346.2 401.6L345.9 403.4L346.2 405.4L349.1 417.2L360.1 426.3L363.9 431L373.9 441L387.3 444.9L387.7 445.1L401.6 446L408.9 444.9L415.4 443.4L429.3 434.8L432.4 431L443.1 417.7L443.6 417.2L443.1 417L429.3 416.2L425.2 417.2L415.4 424.1L405.8 417.2L401.6 410.2L391.6 403.4L387.7 402.8L373.9 398.6L363.5 389.5L360.1 388M581.5 399.2L575.8 403.4L567.7 407.7L557.4 417.2L566.6 431L567.7 431.7L569 431L581.5 426L589.3 417.2L585.6 403.4L581.5 399.2M526.1 430.9L525 431L512.3 432.2L498.5 436L484.6 439.8L479.6 444.9L476 458.7L474.4 472.6L470.8 486.4L484.6 497.4L498.5 492.3L506.1 486.4L512.3 476.9L516.9 472.6L526.1 466.1L540 459.3L540.5 458.7L543.5 444.9L540 436.1L526.8 431L526.1 430.9M595.3 377.6L581.5 379.9L567.7 385.6L553.8 386.9L540.7 389.5L540 389.9L526.1 400.6L521 403.4L512.3 407.9L498.5 411.5L484.6 412.3L470.8 411L456.9 406.1L443.1 405.3L429.3 408.3L415.4 411.3L408.2 403.4L401.6 393.7L387.7 392.1L382.6 389.5L373.9 386L360.1 380.1L353.5 375.7L346.2 370.6L337.7 361.8L332.4 356.3L321.6 348L318.5 344.8L315.6 348L315.1 361.8L311.6 375.7L318.5 382.2L332.4 388.2L334.2 389.5L332.4 393.5L330.5 403.4L332.4 409.7L336.5 417.2L346.2 425.7L352 431L360.1 442.6L362.3 444.9L373.8 458.7L373.9 458.8L387.7 467.8L401.6 468.3L415.4 472.2L419.3 472.6L429.3 474.6L443.1 476.1L448 486.4L452.4 500.2L456.9 505L470.8 511.2L481.6 514.1L484.6 518.7L488.8 523.7M587.6 466.5L593.2 458.7L595.3 454.1L608.8 444.9L609.2 444.1M277 191.3L268.6 195.8L276.3 209.6L277 210.1L277.7 209.6L282.8 195.8L277 191.3M588 368.3L581.5 369.4L567.7 375.2L553.8 375.5L551.1 375.7L540 376.8L526.1 379.8L512.3 385.1L498.5 388.4L495.2 389.5L484.6 391.5L470.8 394.3L456.9 394L443.1 394.3L429.3 398.5L415.4 400.7L412.3 389.5L401.6 382.5L387.7 383.2L373.9 377.2L370 375.7L360.1 371.4L346.2 362.4L345.7 361.8L332.4 348L332.4 348L319.2 334.2L318.5 333.3L307.1 334.2L305.3 348L304.7 358.7L304.5 361.8L304.7 364.7L305.1 375.7L318.5 388.3L321.2 389.5L324.5 403.4L328 417.2L332.4 422.4L342.1 431L346.2 438.4L350.5 444.9L360.1 458.2L360.5 458.7L369.3 472.6L373.9 479L387.7 484.3L396.1 486.4L401.6 489.1L407.9 500.2L415.4 509.2L419.7 514.1L429.3 517.5L443.1 517.3L452.9 527.9L456.9 531.7L465.7 533M263.2 178.2L257.4 181.9L249.3 192L246.8 195.8L248.3 209.6L249.3 211.4L255.9 223.4L263.2 232.9L271 237.3L277 241L286.6 237.3L290.9 235.6L296.8 223.4L299.5 209.6L297.7 195.8L290.9 182.2L290.5 181.9L277 172.8L263.2 178.2M166.3 248.5L164 251.1L159.4 265L166.3 277.8L180.1 274.5L194 270.5L200 265L200.5 251.1L194 245.4L180.1 243.4L166.3 248.5M579.4 359.7L577.9 361.8L567.7 366.8L553.8 368.2L540 368.5L526.1 364.1L520.5 361.8L512.3 358.3L499.9 348L498.5 347.2L484.6 347.9L484.3 348L470.8 354L456.9 359.4L443.7 361.8L443.1 362.4L429.3 367.8L415.4 365.9L401.6 368.9L393.5 361.8L387.7 360L373.9 360.8L360.1 361.4L346.2 348.4L345.8 348L332.4 337.2L329.5 334.2L318.8 320.3L318.5 320.1L304.7 315.3L296.1 320.3L290.9 325.6L286.1 334.2L285.4 348L290.9 361.3L291.1 361.8L294.6 375.7L303.5 389.5L304.7 390.5L318.5 403.2L318.6 403.4L321 417.2L332.4 430.6L332.8 431L340 444.9L346.2 455.3L348.6 458.7L355.1 472.6L356.2 486.4L353.7 500.2L346.2 510.5L332.4 511L318.5 511.2L304.7 505.1L298.5 500.2L290.9 494.3M319.5 542.7L321.9 541.8L332.4 536.5L346.2 528.5L350 527.9L360.1 520.5L365 527.9L373.9 539.9L374.8 541.8L383.6 555.6L387.3 569.4L387.7 572.9L390.4 583.3M419 565.8L415.4 557.2L414.7 555.6L413.4 541.8L401.6 528.6L400.3 527.9L401.6 526.1L415.4 526L429.3 524.5L443.1 527L443.9 527.9L456.9 540.1L458.4 540.3M210.5 195.8L207.8 199.2L194 209.6L194 209.6L193.9 209.7M138.6 256.9L139.4 265L139.2 265.6M166.3 298.2L180.1 295.3L194 294.6L207.8 293.2L221.7 293.5L235.5 294.9L249.3 300.7L254.7 306.5L262.9 320.3L263.2 321.1L266.4 334.2L270.5 348L274.8 361.8L277 366.9L280.9 375.7L288.4 389.5L290.9 391.1L304.7 402.6L305.6 403.4L309.3 417.2L318.5 424.9L323.4 431L329.3 444.9L331.8 458.7L332.4 459.3L342.2 472.6L336.2 486.4L332.4 489.8L318.5 490.9L310.2 486.4L304.7 483.2L290.9 477.4L280.4 475.9M569.2 349.6L567.7 351.9L553.8 357.4L540 355.6L526.1 349.6L522.9 348L512.3 339.7L498.5 336.3L484.6 336.8L470.8 341.4L456.9 346.1L452.4 348L443.1 352.1L429.3 354.8L415.4 355.5L401.6 356.7L387.7 353.7L373.9 353.8L367.1 348L360.1 339.7L353.6 334.2L346.2 325.4L334.3 320.3L332.4 318.9L319.2 306.5L318.5 305.7L306.8 292.6L304.7 286.8L301.9 278.8L303.6 265L304.7 262.2L308.9 251.1L313.9 237.3L314.1 223.4L312.4 209.6L309 195.8L304.7 186.4L302.7 181.9L295.7 168.1L292.9 154.2L292.5 152.6M328.8 552L332.4 550.6L346.2 547.7L360.1 550.7L365.2 555.6L373.9 566.9L375.1 569.4L376.9 583.3L377.1 593.9M456.9 165.4L448.3 168.1L443.1 172.7L440 181.9L440.7 195.8L443.1 203.3L446.8 209.6L455.1 223.4L456.9 224.9L470.8 227.1L484.6 226.2L497.6 237.3L498.5 237.8L511.8 251.1L512.3 251.7L521.4 265L526.1 277.4M528.4 281.1L526.1 282.6L523 292.6L512.3 304L510.1 306.5L498.5 319.7L497.9 320.3L484.6 325.1L470.8 331.4L465.7 334.2L456.9 337L443.1 341.3L429.3 346.8L419.1 348L415.4 348.2L403.2 348L401.6 347.9L387.7 346.4L373.9 344.3L366.7 334.2L360.1 322.5L358.5 320.3L349.3 306.5L346.2 300L341 292.6L333.8 278.8L332.4 272.5L331.4 265L332.4 262L337.3 251.1L339.4 237.3L335.8 223.4L332.4 217.5L329.5 209.6L323.4 195.8L318.5 186.9L316.6 181.9L309 168.1L304.7 163.6L300.7 154.2L298.9 146.2M176.7 316.9L180.1 316.7L194 317.6L201.7 320.3L204.6 334.2L194 344.9L191.9 346M207.8 375.6L213.5 361.8L215.5 348L221.7 336.6L235.5 334.5L249.3 346.7L250 348L258.6 361.8L263.2 368.1L266.7 375.7L276 389.5L277 390.6L290.9 398.7L296.4 403.4L290.9 415.9L289.3 417.2L290.9 419.2L303.7 431L304.7 441.1L306.1 444.9L304.7 445.6L290.9 455.1L277 453.2L263.2 450.6M332.4 568.5L346.2 567.9L349.2 569.4L357.2 583.3L358.6 595.6M448.1 145.4L443.1 149.1L429.3 153.8L428.8 154.2L421 168.1L415.4 180.1L414.4 181.9L415.1 195.8L415.4 199.2L416.8 209.6L417.7 223.4L424 237.3L429.3 243.4L439.2 251.1L443.1 254L456.9 257.3L470.8 252L472.1 251.1L484.6 246L494.6 251.1L498.5 253.7L506.5 265L509.6 278.8L498.5 290.4L495.3 292.6L484.6 302.5L478.1 306.5L470.8 311.1L456.9 315.8L443.7 320.3L443.1 320.5L429.3 324.5L415.4 328L401.6 329.3L387.7 327.5L380.1 320.3L377.7 306.5L377.3 292.6L378.7 278.8L385.8 265L387.7 261.6L392 251.1L387.9 237.3L387.7 236.5L383.1 223.4L373.9 216L366.1 209.6L360.1 205.2L349.2 195.8L346.2 192.5L339.1 181.9L333.5 168.1L332.4 164.7L326.2 154.2L320.1 140.4L318.5 128.9L318.1 127M373.6 168.1L373.9 167.4L374.4 168.1L373.9 168.6L373.6 168.1" stroke="#111" stroke-width="1.3" fill="none" stroke-linejoin="round"/>
<path d="M1229.8 431L1223.4 417.2L1215.9 410.5L1202.1 415.4L1199.8 417.2L1195.1 431L1202.1 438.4L1211 444.9L1202.1 458.6L1188.3 456.4L1174.4 451.5L1172.2 458.7L1174.4 463.7L1188.3 468.5L1202.1 459.8L1204 470.6M1114.1 519L1105.2 518.8L1091.4 518.2L1077.5 520.6L1063.7 518.9L1049.9 517L1036 522.3L1031 527.9L1027.7 541.8L1032 555.6L1033.6 558.1M1225.6 399.1L1215.9 396L1202.1 401L1199.9 403.4L1188.3 413.2L1182.7 417.2L1174.4 427.3L1167.6 431L1160.6 435.9L1148 444.9L1160.6 456.7L1161.3 458.7L1165.2 472.6L1160.6 485.9L1146.7 485.2L1141.1 486.4L1132.9 490.5L1120.5 500.2L1119.1 500.8L1105.2 504.4L1091.4 505.7L1077.5 509.5L1063.7 507.8L1049.9 506.9L1036 509.4L1027.5 514.1L1022.2 520.7L1019.9 527.9L1017.6 541.8L1019 555.6L1021.8 569.4L1022.2 570.6M1215.9 387.3L1202.1 388.7L1201 389.5L1188.3 403.4L1188.3 403.4L1174.4 407L1168.3 417.2L1160.6 422.6L1146.7 430.6L1146.2 431L1132.9 443L1129.6 444.9L1119.1 455.8L1116.8 458.7L1112.5 472.6L1106.8 486.4L1105.2 488.3L1091.4 494.4L1078 500.2L1077.5 500.4L1075.9 500.2L1063.7 498.4L1049.9 495.7L1036 494.2L1025.6 500.2L1022.2 501.6L1012.3 514.1L1011.6 527.9L1011.2 541.8L1012.5 555.6L1015.5 569.4L1020.4 583.3M840.4 195.8L842.3 203.1L846.9 209.6L856.1 217.5L865.4 209.6L869.9 207.5L883.8 196.3L884.8 195.8L897.6 187.4L911.5 185.8L925.3 186.9L939.1 190.4L952.1 195.8L953 196L966.8 195.8L966.9 195.8L971.6 181.9L967.1 168.1L972.5 154.2L966.8 146.6L956.4 140.4L959.4 126.6L953 122.5L939.9 126.6L939.1 128.5L938.5 127.2M869.9 257.2L861 265L856.4 278.8L863.7 292.6L869.9 299.2L879.2 306.5L883.8 309.2L897.6 311L904.8 306.5L905.4 292.6L898.7 278.8L897.6 277.2L883.8 267.3L877 265L869.9 257.2M953 361.7L952.6 361.8L939.1 368.3L934.7 375.7L938.8 389.5L939.1 390.5L948.5 389.5L953 387.1L954.3 389.5L953 394.7L952.2 403.4L953 404.6L965.3 417.2L966.8 417.8L980.7 422.8L990.9 431L994.5 441.8L997.3 444.9L1008.3 449.3L1013.4 444.9L1010.9 431L1008.9 417.2L1008.3 416.5L998.7 403.4L994.5 394L982.9 389.5L980.7 387.2L976.2 375.7L966.8 371.5L953.1 361.8L953 361.7M1215.9 380.6L1202.1 380L1189.2 389.5L1188.3 390.6L1174.4 390.4L1160.6 402.7L1160.3 403.4L1154.1 417.2L1146.7 422L1136.7 431L1132.9 434.4L1119.1 437.4L1116 444.9L1105.2 458.1L1104.6 458.7L1100.1 472.6L1091.4 482.1L1082 486.4L1077.5 487.8L1069.6 486.4L1063.7 485.3L1049.9 478.4L1042.5 472.6L1036 465L1027 472.6L1022.2 478.1L1018.7 486.4L1012.6 500.2L1008.3 505.4L1004.6 514.1L1004.8 527.9L1005.4 541.8L1006.4 555.6L1008.3 565.7L1009.1 569.4L1015.7 583.3M817.8 206.3L818.6 209.6L823.5 223.4L825.5 237.3L824.2 251.1L824.7 265L828.4 271.3L834 278.8L842.3 288.9L844.6 292.6L856.1 304L858.5 306.5L869.9 317.7L874.5 320.3L883.8 324.9L897.6 325.9L911.5 320.7L911.9 320.3L919.8 306.5L917 292.6L911.5 282.5L909.2 278.8L900.2 265L897.6 260.2L890.4 251.1L883.8 241L880.9 237.3L881.4 223.4L883.8 220.7L896.2 209.6L897.6 208.7L911.5 203.3L925.3 202.7L939.1 206.1L950.1 209.6L953 210.4L966.8 212.4L978.3 209.6L980.7 208.5L991 195.8L994.5 190.3L998 181.9L995.5 168.1L994.5 166.5L989.3 154.2L980.7 143.5L978.4 140.4L980.7 132L981.6 126.6L980.7 125.5L966.8 117.6L959.5 112.7M1213.7 373.4L1202.1 372L1189.4 375.7L1188.3 376.3L1174.4 382.6L1160.6 387L1155.5 389.5L1152.9 403.4L1146.7 412.4L1132.9 407.3L1119.1 406.8L1105.2 412.4L1091.4 416.6L1090.9 417.2L1091.4 418.3L1105.2 425.2L1107.3 431L1105.4 444.9L1105.2 445.1L1091.7 458.7L1091.4 459.4L1077.5 470.5L1063.7 471.2L1049.9 461.8L1047.1 458.7L1049.2 444.9L1036 435.4L1026.7 431L1023.5 417.2L1022.2 415.1L1012.6 403.4L1009.8 389.5L1008.3 387.6L1000.6 375.7L994.5 371.5L983.2 361.8L980.7 359.2L966.8 357L956.4 348L953 346.9L948 348L939.1 351.4L929.7 361.8L925.3 370L922.7 375.7L925.3 380L929.7 389.5L933.9 403.4L939.1 409.7L945.2 417.2L953 430.7L954.5 431L966.8 432.9L975.7 444.9L980.7 452.1L987.8 458.7L994.5 465.2L1002.5 472.6L1005.5 486.4L1004 500.2L999.2 514.1L998.9 527.9L1000.1 541.8L1000.6 555.6L1002.2 569.4L1008.3 577.8L1011 583.3M805.8 218.4L808.1 223.4L813.7 237.3L809.8 251.1L808.1 265L813.9 278.8L814.6 279.5L827.9 292.6L828.4 293.3L839.4 306.5L842.3 309.8L852 320.3L856.1 323.2L869.9 332.2L873.9 334.2L883.8 339.8L897.6 338.6L907.3 334.2L911.5 332.5L925.3 321.7L926.3 320.3L931.5 306.5L927.2 292.6L925.3 290.4L918.8 278.8L912 265L911.5 263L906.6 251.1L904.8 237.3L910.1 223.4L911.5 222.4L925.3 217.9L939.1 219.7L953 221.7L961.5 223.4L966.8 225L980.7 229L994.5 235.7L998 237.3L1008.3 240.8L1011.1 237.3L1008.3 230.7L1004.3 223.4L1006.5 209.6L1006.2 195.8L1008.3 188.3L1020.8 181.9L1019.3 168.1L1011.2 154.2L1008.3 151.6L997.5 140.4L994.5 135.1L992.1 126.6L980.7 114.4L978 112.7M1036 306.4L1035.9 306.5L1028.6 320.3L1033 334.2L1036 339.3L1048.6 348L1049.9 348.5L1050.5 348L1056.5 334.2L1059.7 320.3L1050.9 306.5L1049.9 305.7L1036 306.4M1205.4 365.2L1202.1 364.8L1188.3 366.1L1174.4 374.8L1172.9 375.7L1160.6 379L1146.7 385L1139.2 389.5L1132.9 394.6L1119.1 393.7L1105.2 393L1091.4 393.6L1077.5 400.4L1074.3 403.4L1064.8 417.2L1063.7 417.9L1056.4 417.2L1049.9 416.1L1036 405.5L1034.9 403.4L1031.7 389.5L1027.5 375.7L1022.2 367L1013.7 361.8L1008.3 360L994.5 353.3L989.4 348L980.7 343.1L966.8 340.1L953 337.8L939.1 339.8L925.7 348L925.3 348.5L913.2 361.8L911.5 373.4L911.1 375.7L911.5 377.1L914.9 389.5L919.7 403.4L925.3 408.4L932.4 417.2L939.1 425L943 431L953 439.4L963.4 444.9L966.8 448.6L973.6 458.7L980.7 468.4L984.9 472.6L993.5 486.4L994.5 489L996.6 500.2L994.5 510L993.2 514.1L991.9 527.9L994.5 539.3L994.8 541.8L994.9 555.6L995.2 569.4L1001.3 583.3L1003.5 588.2M784.1 226.3L786.9 228L800.7 232.6L803.5 237.3L800.7 243.4L793.9 251.1L791.4 265L792.8 278.8L800.7 290.6L802.5 292.6L811.8 306.5L812.1 320.3L814.6 324.8L822.6 334.2L828.4 347L830.8 348L842.3 351L845.8 348L856.1 345.4L862.8 348L868.7 361.8L869.1 375.7L869.9 376.6L883.8 376.5L888.9 389.5L896.1 403.4L897.6 405L907.9 417.2L911.5 421.2L925.3 429.6L926.4 431L939.1 439.8L946.1 444.9L953 455L956.3 458.7L964.3 472.6L966.8 482L970.4 486.4L980.7 497.7L981.2 500.2L982.6 514.1L981.7 527.9L981.9 541.8L983.3 555.6L984.5 569.4L987.8 583.3L991.6 597.1M930.7 237.3L939.1 234.8L953 235L959.5 237.3L966.8 242.6L973.5 251.1L978.5 265L977.6 278.8L966.8 291L964.3 292.6L953 305.2L945.3 292.6L939.1 290.3L929.5 278.8L925.3 271.4L922.5 265L920.6 251.1L925.3 240.5L930.7 237.3M909.3 348L911.5 347.1L912.2 348L911.5 348.8L909.3 348M1188.3 344.8L1184 348L1174.4 352.9L1165.5 361.8L1160.6 364.4L1146.7 371.6L1142 375.7L1132.9 378.6L1122.7 375.7L1124.9 361.8L1132.9 355L1137.6 348L1135.9 334.2L1132.9 327.7L1128.3 320.3L1121.1 306.5L1119.1 302.6L1114 292.6L1105.9 278.8L1105.2 277.7L1095.3 265L1091.4 260.1L1082 251.1L1077.5 244.5L1073.2 237.3L1063.7 225.3L1062.9 223.4L1058.3 209.6L1056.8 195.8L1057.5 181.9L1060.6 168.1L1055.3 154.2L1049.9 151.3L1036 145.6L1029.4 140.4L1022.2 137.1L1008.3 126.7L1008.3 126.6L998.2 112.7M759.9 250.4L760.5 251.1L762.2 265L761.8 267.5M933.3 265L939.1 251.5L953 253.5L960.1 265L953 275.6L939.1 273.7L933.3 265M922.1 458.7L925.3 454.3L933.1 458.7L925.3 467L922.1 458.7M935.9 472.6L939.1 469.7L939.7 472.6L939.1 479.1L935.9 472.6M948.7 486.4L953 486.1L953.1 486.4L953 487.4L948.7 486.4M966.3 582.7L966.8 580.6L967.4 583.3L967.8 584.3" stroke="#111" stroke-width="1.3" fill="none" stroke-linejoin="round"/>
<path d="M549 1097.5L539.2 1097.6L523.5 1101.7L516.6 1107.2L510.8 1122.8M617.8 1056.5L602 1055.4L586.4 1056.9L570.6 1059.3L562.6 1060.3L555 1061.3L539.2 1062.4L523.5 1063L507.8 1063.5L492.1 1063.2L476.4 1061.3L460.8 1060.5L460.4 1060.3L445 1056.6L429.3 1055.6L413.6 1057.8L397.9 1060.2L397.6 1060.3L382.2 1067.3L366.6 1074.2L361.1 1076L350.9 1084.1L344.9 1091.6L350.8 1098.2L366.5 1104.9L382.2 1106L385.2 1107.2L397.9 1115.2L413.6 1116.9L423.6 1122.8L429.3 1127.4L434.1 1138.5L440.4 1154.1L445 1167.8L445.5 1169.3M141.4 1008.1L137.8 997.8L132.6 982.2L132 981.2M617.8 1019.5L602 1024.6L586.4 1028.1L582.6 1029.1L570.6 1031.2L555 1034.5L539.2 1037.1L523.5 1039.4L507.8 1040.8L492.1 1041.6L476.4 1042.1L460.8 1039.2L445 1033.7L432.2 1029.1L429.3 1027.7L413.6 1023.1L397.9 1022.3L382.2 1024.8L369.7 1029.1L366.6 1030.2L350.8 1035.7L335.1 1039.4L319.4 1041.8L303.8 1043.7L299.5 1044.7L288.1 1048.1L272.4 1054.4L258.3 1060.3L256.6 1061.2L240.9 1070.4L230.3 1076L227.5 1078.2M300.9 1198.2L303.8 1196.7L319.4 1199.1L322.1 1198.3M414 809.9L414.3 810.2L429.3 824.5L431.3 825.9L445 834.5L453.6 841.5L460.8 846.9L476.4 855.3L492.1 856.9L492.8 857.1L507.8 862.8L520.7 872.8L523.5 876.8L529 888.4L533.5 904L537.1 919.7L539.2 930L540.2 935.3L543 950.9L543.6 966.5L540.4 982.2L539.2 984.2L530.4 997.8L523.5 1001.9L507.8 1007.4L492.2 1010L476.5 1008.8L460.8 1003.8L445 998.3L443.9 997.8L429.3 992L413.6 988.3L397.9 989.1L382.2 992.6L366.9 997.8L366.6 997.9L350.8 1002.7L335.1 1006.2L319.4 1009L303.8 1010.2L288.1 1011.3L277.4 1013.4L272.4 1014.4L256.6 1018.5L240.9 1020.8L225.2 1020.9L209.6 1019.4L193.8 1014.6L192.1 1013.4L178.2 1007L165.8 997.8L162.4 996.1L147.8 982.2L146.8 981.3L140.9 972.4M341 851.3L342.4 857.1L344.7 872.8L335.1 887.5L334.4 888.4L329.4 904L329.3 919.7L327.8 935.3L319.4 945.9L308.4 950.9L303.8 952.3L288.1 953.8L272.4 953.4L256.6 951.9L252.9 950.9L241 949L236.3 950.9L225.2 957.4L209.6 963.6L195.3 966.5L193.8 967.2L178.2 973.4L165 966.5L163.6 965.4M321.6 870.6L323.1 872.8L319.4 878.6L313.4 872.8M289.3 887.1L289.2 888.4L293.8 904L288.1 910L278.1 904L285.6 888.4" stroke="#111" stroke-width="1.4" fill="none" stroke-linejoin="round"/>
<path d="M1161.9 854.8L1161.9 857.1L1164.2 859.5L1178.5 872.8L1180 874.2M1182.5 1091.6L1180 1090.6L1164.2 1085.3L1148.5 1083.8L1132.8 1078.8L1117.2 1081.3L1101.7 1076L1101.5 1075.9L1100.8 1076L1085.8 1078.9L1070 1082.3L1054.3 1084L1038.7 1091.1L1038.1 1091.6L1029.6 1107.2L1023 1119.6L1021.7 1122.8L1016.2 1138.5L1013.1 1154.1L1012 1169.7M1157.2 850.1L1157.1 857.1L1164.2 864.1L1173.5 872.8L1180 879.1M1199.5 1087.8L1195.7 1086.6L1180 1080.9L1168.8 1076L1164.2 1074.2L1148.5 1070.9L1132.8 1068.6L1117.2 1067.8L1101.5 1065.7L1085.8 1066.1L1070 1067.4L1054.3 1068.3L1038.7 1069.3L1023 1074.6L1019.9 1076L1008.4 1091.6L1007.2 1094.1L1000.2 1107.2L991.6 1122.5L991.4 1122.8L984.8 1138.5L979.6 1154.1L976.4 1169.7L975.9 1173.3L974.3 1185.4M1043.1 805.8L1044.1 810.2L1049.4 825.9L1054.3 833.6L1070 839.9L1085.8 836.9L1091.2 825.9L1085.8 814.4L1084.9 810.2L1079.4 794.6M1152.4 845.4L1152.4 857.1L1164.2 868.8L1168.5 872.8L1180 883.9M1205 929L1206.6 935.3L1211.3 939L1217.8 941.7M1207.4 1079.9L1195.7 1076.2L1195 1076L1180 1071.2L1164.2 1065.9L1148.5 1062.5L1132.8 1060.5L1131.7 1060.3L1117.2 1057.5L1101.4 1056.1L1085.8 1056L1070 1056.9L1054.3 1058.3L1038.7 1058.1L1031.4 1060.3L1023 1063.2L1007.2 1068.1L992.2 1076L991.6 1076.9L980 1091.6L975.9 1101.2L973.2 1107.2L966.7 1122.8L961 1138.5L960.2 1141.7L957 1154.1L954.1 1169.7L949.2 1185.4L944.4 1196.9L941.7 1201M994.7 838.4L994.6 841.5L997.9 857.1L996.2 872.8L1003.5 888.4L1007.2 891.6L1023 901.2L1028.9 904L1038.7 908.1L1054.3 919.7L1054.4 919.7L1070 926.5L1085.8 928.4L1101.5 926.7L1115.4 919.7L1117.2 918.9L1132.8 910.6L1148.5 904.6L1150.3 904L1164.2 895.9L1180 893.6M1185.6 909.6L1189.9 919.7L1195.7 929.4L1197.1 935.3L1211.3 946.6L1222 950.9L1227 954.9M1224.2 1076L1211.3 1068.9L1195.7 1065.2L1180 1061.6L1175.4 1060.3L1164.2 1055.5L1148.5 1051.6L1132.8 1049.8L1117.2 1047L1101.5 1047.1L1085.8 1046.6L1070 1046.6L1054.3 1047.7L1038.7 1047.5L1023 1050.1L1007.2 1052.3L991.5 1054.4L975.9 1058.6L970.8 1060.3L960.2 1066.1L944.5 1075.6L943.8 1076L931.5 1091.6L929.6 1107.2L929.2 1122.8L928.8 1128.9L927.7 1138.5L925 1154.1L913.1 1167.9L911.9 1168.6M961.1 856.2L962.2 857.1L960.8 872.8L962.4 888.4L965 904L975.9 915.2L986.9 919.7L991.6 921L1007.2 924.4L1023 931.1L1028.5 935.3L1038.7 947L1042.1 950.9L1054.3 959.5L1067.1 966.5L1070 967.8L1085.8 971.7L1101.5 973.7L1115.2 982.2L1117.2 984.1L1132.8 988.8L1145.8 982.2L1148.5 980.4L1164.2 967.4L1165.2 966.5L1175.8 950.9L1180 949.1L1195.7 949.7L1197.9 950.9L1211.3 955.9L1224.2 966.5L1227 969.8L1242.2 982.2L1242.8 982.9M786 966.5L787.5 970.9L793.9 982.2L803.2 994.9L818.9 990.6L819.5 982.2L818.9 973.2L817.4 966.5L812.4 950.9M757.7 1013.4L756.1 1012.4L743 997.8L743 995.1M1241.6 1061.5L1237.1 1060.3L1227 1054.5L1211.3 1050.4L1195.7 1048.8L1182.3 1044.7L1180 1043.7L1164.2 1036.6L1148.5 1032.8L1135 1029.1L1132.8 1028L1117.2 1026L1101.5 1026.9L1088.5 1029.1L1085.8 1029.5L1070 1030.6L1054.3 1030.5L1038.7 1032.1L1023 1033.6L1007.2 1033.8L991.6 1032.4L975.9 1032L960.2 1033.3L944.5 1036.5L928.8 1041.3L918.5 1044.7L913 1046.4L898.8 1060.3L897.3 1063.2L894.9 1076L888.2 1091.6L886.3 1107.2L881.7 1116.1L878.7 1120M982.7 982.2L991.6 976L1007.2 971.5L1023 975.5L1038.7 981.2L1041.3 982.2L1054.3 992.6L1070 996L1085.8 993L1101.5 996.5L1102.7 997.8L1101.5 999.6L1085.8 1004.6L1070 1000.3L1054.3 1001.2L1038.7 1004.4L1023 1006.3L1007.2 1003.5L994.2 997.8L991.6 992.1L982.7 982.2M1187.7 982.2L1195.7 972.4L1211.3 968.9L1222.6 982.2L1224.5 997.8L1217.1 1013.4L1211.3 1017.2L1195.7 1019L1188.4 1013.4L1181.9 997.8L1187.7 982.2" stroke="#111" stroke-width="1.4" fill="none" stroke-linejoin="round"/>
<circle cx="318.3" cy="487" r="3.6" fill="#999"/>
<circle cx="332.8" cy="478.3" r="3.6" fill="#999"/>
<circle cx="347.4" cy="469" r="3.6" fill="#999"/>
<circle cx="362.7" cy="459.8" r="3.6" fill="#999"/>
<circle cx="377.2" cy="450.6" r="3.6" fill="#999"/>
<circle cx="390.9" cy="442.6" r="3.6" fill="#999"/>
<circle cx="405.5" cy="432.1" r="3.6" fill="#999"/>
<circle cx="420" cy="423.6" r="3.6" fill="#999"/>
<circle cx="434.5" cy="414.9" r="3.6" fill="#999"/>
<circle cx="447.2" cy="407" r="3.6" fill="#999"/>
<circle cx="460.4" cy="399" r="3.6" fill="#999"/>
<circle cx="474.1" cy="391.9" r="3.6" fill="#999"/>
<circle cx="938.9" cy="487" r="3.6" fill="#999"/>
<circle cx="953.4" cy="478.3" r="3.6" fill="#999"/>
<circle cx="968" cy="469" r="3.6" fill="#999"/>
<circle cx="983.3" cy="459.8" r="3.6" fill="#999"/>
<circle cx="997.8" cy="450.6" r="3.6" fill="#999"/>
<circle cx="1011.5" cy="442.6" r="3.6" fill="#999"/>
<circle cx="1026.1" cy="432.1" r="3.6" fill="#999"/>
<circle cx="1040.6" cy="423.6" r="3.6" fill="#999"/>
<circle cx="1055.1" cy="414.9" r="3.6" fill="#999"/>
<circle cx="1067.8" cy="407" r="3.6" fill="#999"/>
<circle cx="1083.5" cy="395.8" r="3.6" fill="#999"/>
<circle cx="1099.9" cy="386.1" r="3.6" fill="#999"/>
<circle cx="147" cy="769" r="6" fill="#999"/>
<circle cx="171" cy="806" r="6" fill="#999"/>
<circle cx="195" cy="844" r="6" fill="#999"/>
<circle cx="220" cy="882" r="6" fill="#999"/>
<circle cx="244" cy="919" r="6" fill="#999"/>
<circle cx="266" cy="958" r="6" fill="#999"/>
<circle cx="291" cy="995" r="6" fill="#999"/>
<circle cx="315" cy="1032" r="6" fill="#999"/>
<circle cx="340" cy="1071" r="6" fill="#999"/>
<circle cx="364" cy="1108" r="6" fill="#999"/>
<circle cx="387" cy="1146" r="6" fill="#999"/>
<circle cx="411" cy="1185" r="6" fill="#999"/>
<circle cx="435" cy="1222" r="6" fill="#999"/>
<circle cx="772" cy="769" r="6" fill="#999"/>
<circle cx="796" cy="806" r="6" fill="#999"/>
<circle cx="820" cy="844" r="6" fill="#999"/>
<circle cx="845" cy="882" r="6" fill="#999"/>
<circle cx="869" cy="919" r="6" fill="#999"/>
<circle cx="891" cy="958" r="6" fill="#999"/>
<circle cx="916" cy="995" r="6" fill="#999"/>
<circle cx="940" cy="1032" r="6" fill="#999"/>
<circle cx="965" cy="1071" r="6" fill="#999"/>
<circle cx="989" cy="1108" r="6" fill="#999"/>
<circle cx="1012" cy="1146" r="6" fill="#999"/>
<circle cx="1036" cy="1185" r="6" fill="#999"/>
<circle cx="1060" cy="1222" r="6" fill="#999"/>
<path d="M380.8 105.8L378 96.7M325.5 133.5L323.6 121.1M353.1 133.5L350.8 119.4M380.8 133.5L376.5 123.2M408.5 133.5L401.4 135M297.8 161.2L292.8 147.1M325.5 161.2L324.2 153.1M353.1 161.2L351.7 152.5M380.8 161.2L377.2 152.5M408.5 161.2L400.6 161.6M436.2 161.2L426.3 168.4M242.4 188.8L229.4 184.6M270.1 188.8L258.2 171.3M297.8 188.8L294 173.6M325.5 188.8L323.6 178.9M353.1 188.8L348.9 183.4M380.8 188.8L374.2 184.3M408.5 188.8L399.9 188.8M436.2 188.8L427.7 193.4M463.9 188.8L458.3 189.9M214.7 216.5L216 216.9M242.4 216.5L237.5 214.3M270.1 216.5L265.5 202.6M297.8 216.5L295.6 192.5M325.5 216.5L322.5 190.5M353.1 216.5L347.9 207.6M380.8 216.5L374.9 211.4M408.5 216.5L399.9 215.2M436.2 216.5L428.5 220.4M463.9 216.5L461 227.2M159.4 244.2L151.7 252.5M187.1 244.2L183.1 244.2M214.7 244.2L214.6 244.2M242.4 244.2L240.3 241.7M270.1 244.2L269.2 232.9M297.8 244.2L295.6 219.2M325.5 244.2L322.4 213.2M353.1 244.2L350.3 213.5M380.8 244.2L380.2 230.1M408.5 244.2L403.8 239.4M436.2 244.2L430.3 246.6M463.9 244.2L461 257.3M491.5 244.2L490 271M159.4 271.9L155.5 279.6M187.1 271.9L185.4 270.4M214.7 271.9L215 269.4M242.4 271.9L242.4 271.9M270.1 271.9L271.5 268.9M297.8 271.9L294.9 255M325.5 271.9L321.7 244.8M353.1 271.9L348.5 240.8M380.8 271.9L379.8 255.1M408.5 271.9L404.6 266.7M436.2 271.9L429.2 275.5M463.9 271.9L457.1 285.5M491.5 271.9L485.4 300.6M519.2 271.9L515.4 280.3M187.1 299.6L187.5 297.2M214.7 299.6L216 295.8M242.4 299.6L242.8 297M270.1 299.6L270.1 296.1M297.8 299.6L295.9 289M325.5 299.6L319 277.7M353.1 299.6L344.1 275M380.8 299.6L374.1 285.7M408.5 299.6L399.9 293.5M436.2 299.6L424.7 300.3M463.9 299.6L449.4 310.1M491.5 299.6L480 316.5M519.2 299.6L512.9 313.4M187.1 327.2L187.1 326.7M214.7 327.2L215.7 319.6M242.4 327.2L243.7 318.8M270.1 327.2L270.1 320.7M297.8 327.2L295.3 319.2M325.5 327.2L319.9 315.5M353.1 327.2L342.5 311.9M380.8 327.2L366.9 314.4M408.5 327.2L393 319.5M436.2 327.2L418.2 325.9M463.9 327.2L444.5 334.3M491.5 327.2L475.2 337.5M519.2 327.2L508.5 334.4M546.9 327.2L542.9 323.5M214.7 354.9L215.1 349.7M242.4 354.9L243.7 347.4M270.1 354.9L270.1 352.1M297.8 354.9L296.6 352.1M325.5 354.9L316.8 347M353.1 354.9L340.1 346.9M380.8 354.9L363.9 348.1M408.5 354.9L388.7 349.5M436.2 354.9L415.6 352.9M463.9 354.9L444.6 361.4M491.5 354.9L475.2 365.4M519.2 354.9L510.8 361.4M546.9 354.9L544.2 352.5M214.7 382.6L216.2 377.6M242.4 382.6L245.1 374.6M270.1 382.6L271.7 378.7M297.8 382.6L294.3 379.8M325.5 382.6L316.8 379.6M353.1 382.6L335.2 380M380.8 382.6L362 380.8M408.5 382.6L389.5 381.2M436.2 382.6L418.2 382.6M463.9 382.6L446.7 390.7M491.5 382.6L479.1 394.4M519.2 382.6L513 392.3M546.9 382.6L545.3 382.9M574.6 382.6L567.1 379.7M242.4 410.3L245.1 407.1M270.1 410.3L271.3 409.2M297.8 410.3L297.3 411M325.5 410.3L323.7 409.7M353.1 410.3L337.1 411.2M380.8 410.3L364.8 411.2M408.5 410.3L389 408.6M436.2 410.3L420.6 409.5M463.9 410.3L446.5 419.5M491.5 410.3L478.8 423.3M519.2 410.3L513 420.1M546.9 410.3L542.5 412.2M574.6 410.3L569.1 407.4M602.3 410.3L593.6 404.3M270.1 438L273.9 438.5M297.8 438L301.1 441.9M325.5 438L326.4 439.9M353.1 438L348.7 441.3M380.8 438L370.9 442.9M408.5 438L395.4 441.3M436.2 438L422.4 436.7M463.9 438L449.6 442.1M491.5 438L476.7 451.8M519.2 438L509.9 449.7M546.9 438L545.4 439.1M574.6 438L569.2 435.5M602.3 438L593.6 430.7M270.1 465.6L270.5 465.9M297.8 465.6L300.4 469.8M325.5 465.6L327.8 471.5M353.1 465.6L354.3 471.2M380.8 465.6L376.5 475.3M408.5 465.6L399.9 470.8M436.2 465.6L426.3 462.5M463.9 465.6L452.7 463.2M491.5 465.6L481.2 472.3M519.2 465.6L513.8 475.3M546.9 465.6L544.2 470.1M574.6 465.6L573 462.1M297.8 493.3L298.9 498.9M325.5 493.3L327.4 501.6M353.1 493.3L353.1 500.9M380.8 493.3L379 500.8M408.5 493.3L403.4 496.1M436.2 493.3L430.4 491.2M463.9 493.3L455.7 484.3M491.5 493.3L485 488.8M519.2 493.3L517.4 495.1M325.5 521L325.9 532.5M353.1 521L351.7 532.5M380.8 521L377.2 532.5M408.5 521L405.2 530.9M436.2 521L434.7 522.2M463.9 521L460.3 512.8M491.5 521L487.3 507.5M325.5 548.7L325.9 566M353.1 548.7L352.4 564.7M380.8 548.7L376.5 561.9M408.5 548.7L405.2 560.5M436.2 548.7L436.7 553.2M353.1 576.4L353.1 601.3M380.8 576.4L378.5 596.4M408.5 576.4L406.6 588.3M353.1 604L353.9 640M380.8 604L380.8 631" stroke="#0d0d0d" stroke-width="1.35" fill="none"/>
<path d="M376.2 91.2L379.5 96.3L376.5 97.2ZM322.5 113.5L325.7 120.8L321.5 121.4ZM349.4 110.8L353.2 119L348.5 119.8ZM373.8 116.9L378.2 122.5L374.8 123.9ZM397 135.9L401.2 133.8L401.7 136.2ZM289.8 138.6L295.1 146.3L290.5 147.9ZM323.5 148.2L325.6 152.9L322.9 153.3ZM350.7 147.2L353.1 152.2L350.2 152.7ZM375 147.2L378.7 151.9L375.8 153.1ZM395.8 161.9L400.6 160.3L400.7 162.9ZM420.2 172.9L425.1 166.8L427.5 170.1ZM221.4 182L230.1 182.5L228.7 186.8ZM253.1 163.8L260.2 169.9L256.2 172.6ZM291.8 164.8L296.3 173L291.6 174.2ZM322.5 172.8L325.2 178.6L322 179.2ZM346.1 179.8L349.9 182.6L347.9 184.1ZM370.1 181.5L374.9 183.2L373.4 185.4ZM394.6 188.8L399.9 187.4L399.9 190.3ZM422.6 196.1L427 192L428.5 194.8ZM453.9 190.8L458.1 188.8L458.5 191.1ZM211.7 215.5L216.4 215.8L215.6 218.1ZM233.4 212.5L238 213.2L237 215.5ZM262.6 194.1L267.7 201.9L263.2 203.4ZM294.8 183.5L298 192.3L293.2 192.7ZM321.5 181.5L324.9 190.2L320.1 190.7ZM344.6 202.1L349.3 206.7L346.4 208.5ZM371.3 208.2L375.8 210.4L374.1 212.3ZM394.6 214.3L400.1 213.7L399.7 216.6ZM423.8 222.8L427.8 219.2L429.1 221.7ZM459.3 233.8L459.2 226.8L462.8 227.7ZM147 257.6L150.3 251.2L153.1 253.8ZM178.6 244.2L183.1 243L183.1 245.4ZM210.1 244.2L214.6 243L214.6 245.4ZM237.4 238.2L241.2 240.9L239.4 242.4ZM268.6 225.9L271 232.7L267.3 233ZM294.8 210.2L298 219L293.2 219.4ZM321.5 204.2L324.8 212.9L319.9 213.4ZM349.4 204.5L352.7 213.2L347.9 213.7ZM379.8 221.5L382.5 230L377.9 230.2ZM400.7 236.2L404.7 238.6L403 240.3ZM426.2 248.3L429.9 245.5L430.8 247.7ZM459.3 265.4L458.8 256.9L463.2 257.8ZM489.5 280L487.6 270.9L492.5 271.1ZM153.1 284.3L154.2 278.9L156.7 280.2ZM182.2 267.3L186.3 269.5L184.6 271.2ZM215.4 264.9L216.2 269.5L213.8 269.2ZM244.4 267.9L243.5 272.4L241.3 271.4ZM273.5 264.9L272.6 269.5L270.4 268.4ZM293.4 246.1L297.3 254.5L292.5 255.4ZM320.5 235.9L324.1 244.5L319.3 245.1ZM347.1 231.9L350.9 240.4L346.1 241.1ZM379.3 246.1L382.3 254.9L377.4 255.2ZM401.9 263.1L405.6 266L403.6 267.4ZM425 277.7L428.6 274.3L429.8 276.6ZM453.2 293.6L455 284.4L459.3 286.6ZM483.5 309.4L483 300.1L487.8 301.1ZM513 285.5L514 279.7L516.8 281ZM188.3 292.8L188.7 297.4L186.3 297ZM217.4 291.6L217.2 296.2L214.8 295.4ZM243.4 292.6L244 297.2L241.6 296.8ZM270.1 291.6L271.3 296.1L268.9 296.1ZM294.8 282.6L297.7 288.7L294.2 289.3ZM316.5 269.1L321.3 277L316.7 278.4ZM340.9 266.6L346.3 274.2L341.8 275.8ZM370.1 277.6L376.2 284.6L371.9 286.7ZM394.6 289.9L400.9 292.1L398.9 295ZM417.7 300.8L424.6 298.4L424.8 302.2ZM442.2 315.4L448 308.1L450.9 312ZM474.9 324L478 315.2L482 317.9ZM509.2 321.6L510.7 312.4L515.2 314.4ZM187.1 322.2L188.3 326.7L185.8 326.7ZM216.2 314.8L216.9 319.7L214.4 319.4ZM244.4 313.6L245.1 319L242.3 318.6ZM270.1 316.2L271.3 320.7L268.9 320.7ZM293.8 314.2L296.6 318.8L294 319.6ZM316.5 308.2L321.8 314.5L317.9 316.4ZM337.3 304.5L344.5 310.5L340.5 313.3ZM360.3 308.2L368.6 312.6L365.3 316.1ZM384.9 315.5L394 317.4L391.9 321.7ZM409.2 325.2L418.3 323.5L418 328.3ZM436.1 337.4L443.7 332.1L445.3 336.6ZM467.6 342.3L474 335.5L476.5 339.6ZM501.9 338.7L507.3 332.6L509.7 336.1ZM539.6 320.4L543.7 322.6L542.1 324.4ZM215.4 345.2L216.3 349.8L213.9 349.6ZM244.4 342.7L244.9 347.6L242.4 347.2ZM270.1 347.6L271.3 352.1L268.9 352.1ZM294.8 347.9L297.7 351.6L295.4 352.5ZM311.6 342.2L318.1 345.6L315.5 348.5ZM332.4 342.2L341.4 344.9L338.8 349ZM355.5 344.7L364.8 345.8L363 350.3ZM380 347.1L389.3 347.2L388 351.8ZM406.7 352L415.9 350.5L415.4 355.3ZM436.1 364.2L443.8 359.1L445.4 363.7ZM467.6 370.3L473.9 363.4L476.5 367.5ZM505.6 365.4L509.7 360L511.9 362.8ZM540.9 349.5L545.1 351.6L543.4 353.4ZM217.4 373.3L217.4 378L215 377.3ZM246.8 369.7L246.5 375.1L243.8 374.2ZM273.5 374.6L272.9 379.2L270.6 378.3ZM290.8 377L295.1 378.9L293.5 380.8ZM311.6 377.7L317.3 378.1L316.3 381ZM326.3 378.7L335.6 377.6L334.9 382.4ZM353 379.9L362.2 378.4L361.7 383.2ZM380.5 380.6L389.7 378.8L389.3 383.7ZM409.2 382.6L418.2 380.2L418.2 385ZM438.6 394.6L445.7 388.5L447.7 392.9ZM472.5 400.6L477.4 392.6L480.7 396.2ZM509.2 398.2L511.4 391.2L514.6 393.3ZM540.9 383.6L545.1 381.7L545.5 384.1ZM562.5 377.9L567.6 378.4L566.6 380.9ZM248 403.7L246 407.9L244.2 406.3ZM274.7 406.2L272.1 410.1L270.5 408.3ZM299.8 407.3L298.3 411.7L296.3 410.4ZM319.5 408.3L324.1 408.6L323.3 410.9ZM328.1 411.8L337 408.8L337.3 413.7ZM355.8 411.8L364.7 408.8L364.9 413.7ZM380 407.9L389.2 406.2L388.8 411.1ZM411.6 409.1L420.7 407.1L420.5 411.9ZM438.6 423.7L445.4 417.3L447.7 421.6ZM472.5 429.8L477.1 421.6L480.6 425ZM509.2 426.1L511.4 419.1L514.6 421.1ZM538.4 414L542 411.1L543 413.3ZM565.1 405.4L569.6 406.4L568.5 408.5ZM588.4 400.6L594.6 402.8L592.6 405.7ZM278.4 439.2L273.8 439.7L274.1 437.3ZM304.1 445.3L300.2 442.6L302.1 441.1ZM328.5 444L325.4 440.5L327.5 439.4ZM345.1 444L348 440.3L349.5 442.2ZM364.8 446L370.1 441.3L371.7 444.6ZM387.3 443.4L394.8 439.1L395.9 443.5ZM414 436L422.6 434.4L422.2 439ZM441 444.6L448.9 439.7L450.3 444.4ZM470.1 458L475.1 450L478.4 453.6ZM504.3 456.8L508 448.2L511.8 451.2ZM541.9 442L544.7 438.2L546.2 440.1ZM565.1 433.6L569.7 434.3L568.7 436.6ZM588.4 426.3L594.8 429.3L592.4 432.1ZM274.1 468.6L269.8 466.9L271.2 465ZM302.8 473.6L299.4 470.5L301.4 469.2ZM329.5 475.6L326.7 471.9L328.9 471ZM355.1 475.6L353.1 471.5L355.4 471ZM373.8 481.2L374.9 474.6L378.1 476ZM394.6 473.9L399 469.4L400.7 472.2ZM420.2 460.6L426.8 460.9L425.7 464.2ZM445.9 461.7L453.1 461.4L452.3 465.1ZM474.9 476.3L480.2 470.6L482.3 474ZM510.4 481.2L512.2 474.4L515.4 476.2ZM541.9 473.9L543.2 469.5L545.3 470.7ZM571.2 458L574.1 461.7L571.9 462.6ZM299.8 503.3L297.7 499.1L300.1 498.7ZM328.7 506.7L326.1 502L328.8 501.3ZM353.1 505.5L351.9 500.9L354.4 500.9ZM377.8 505.3L377.7 500.5L380.2 501.1ZM399.5 498.3L402.8 495.1L404 497.2ZM426.2 489.6L430.8 490L430 492.3ZM450.7 478.7L457.2 482.9L454.2 485.6ZM481 486L485.8 487.7L484.3 489.9ZM514.2 498.2L516.6 494.2L518.3 495.9ZM326.2 539.5L324 532.5L327.8 532.4ZM350.7 539.5L349.8 532.2L353.6 532.7ZM375 539.5L375.3 531.9L379.1 533.1ZM403.1 537L403.5 530.4L406.8 531.5ZM431.2 525L433.9 521.2L435.5 523.1ZM458.1 507.8L461.6 512.2L458.9 513.4ZM484.7 499.3L489.6 506.8L485.1 508.2ZM326.2 575L323.5 566L328.3 565.9ZM351.9 573.7L349.9 564.6L354.8 564.8ZM373.8 570.1L374.3 561.2L378.7 562.7ZM403.1 567.7L403.2 559.9L407.1 561ZM437.2 557.7L435.5 553.3L437.9 553.1ZM353.1 610.3L350.7 601.3L355.6 601.3ZM377.4 605.4L376.1 596.1L380.9 596.7ZM405.5 595.7L404.7 588L408.6 588.6ZM354.1 649L351.5 640.1L356.4 640ZM380.8 640L378.4 631L383.2 631Z" fill="#0d0d0d"/>
<path d="M1001.4 105.8L1003.9 97.7M946.1 133.5L940.6 122.6M973.7 133.5L979.9 123.2M1001.4 133.5L1005.5 124.8M918.4 161.2L918.4 163.7M946.1 161.2L947.6 161.3M973.7 161.2L977.9 157.5M1001.4 161.2L1005.1 156.8M1029.1 161.2L1028.5 158.8M1056.8 161.2L1057.1 164.7M863 188.8L854.7 184.3M890.7 188.8L884.9 176M918.4 188.8L917.3 178.3M946.1 188.8L946.3 187.3M973.7 188.8L973.5 190.3M1029.1 188.8L1029.1 192.8M1056.8 188.8L1056.2 183.3M1084.5 188.8L1087.1 198.5M835.3 216.5L832.3 216.1M863 216.5L857.8 210.6M890.7 216.5L887.9 201.4M918.4 216.5L918 181.9M946.1 216.5L946.9 191.6M973.7 216.5L973.1 206.8M1001.4 216.5L1002 218.9M1029.1 216.5L1028.8 220.8M1056.8 216.5L1057.4 222.1M1084.5 216.5L1086.9 227.2M780 244.2L777.9 245.6M807.7 244.2L802.8 239.4M835.3 244.2L831.8 239.7M863 244.2L857.8 237.7M890.7 244.2L888.7 233.2M918.4 244.2L918.9 213.5M946.1 244.2L945.1 215.9M973.7 244.2L971.3 220.8M1001.4 244.2L1000.2 236.1M1056.8 244.2L1057.5 252.8M1084.5 244.2L1086.3 257.2M1112.1 244.2L1113.4 256.6M780 271.9L777.9 278.3M807.7 271.9L807.4 271.5M835.3 271.9L833.8 266.2M863 271.9L861.6 269.5M890.7 271.9L888 263.4M918.4 271.9L913.5 247.7M946.1 271.9L937.3 237.7M973.7 271.9L965.6 244.9M1001.4 271.9L998.7 260.4M1056.8 271.9L1056 279.9M1084.5 271.9L1082.5 286.1M1112.1 271.9L1111.5 288.9M1139.8 271.9L1139.8 284.3M807.7 299.6L806.5 300.7M835.3 299.6L835.3 298.1M863 299.6L862.5 296.7M890.7 299.6L888 289M918.4 299.6L914.4 297.1M946.1 299.6L936 273.9M973.7 299.6L964.4 279.7M1001.4 299.6L994.9 287.5M1029.1 299.6L1024 296.1M1056.8 299.6L1053.2 302M1084.5 299.6L1080.2 310.1M1112.1 299.6L1109.6 314.7M1139.8 299.6L1139.2 316.6M1167.5 299.6L1167.5 308.2M807.7 327.2L807.6 327.4M835.3 327.2L835.9 321.2M863 327.2L863 320M890.7 327.2L889.5 319.2M918.4 327.2L915 316.2M946.1 327.2L939 312.6M973.7 327.2L964.7 310.2M1001.4 327.2L992.6 314.6M1029.1 327.2L1020.7 321.5M1056.8 327.2L1049.2 328.3M1084.5 327.2L1077.2 334.4M1112.1 327.2L1107.2 338.4M1139.8 327.2L1137.3 339.6M1167.5 327.2L1166.3 335.9M835.3 354.9L835.3 354.4M863 354.9L863.6 350.4M890.7 354.9L891 353.4M918.4 354.9L918.1 354.1M946.1 354.9L939.2 347.8M973.7 354.9L964.7 345.6M1001.4 354.9L989.6 347M1029.1 354.9L1016.1 350.8M1056.8 354.9L1044.7 353.9M1084.5 354.9L1074.8 359.9M1112.1 354.9L1104.3 362.2M1139.8 354.9L1136.2 358M1167.5 354.9L1168.5 355.4M835.3 382.6L835.3 381.1M863 382.6L864.5 375.2M890.7 382.6L891.2 381.8M918.4 382.6L919.1 383.1M946.1 382.6L939.2 379.5M973.7 382.6L963.2 379.5M1001.4 382.6L985.4 380.9M1029.1 382.6L1009.6 382.6M1056.8 382.6L1040 386.4M1084.5 382.6L1071.6 390.8M1112.1 382.6L1105 391.5M1139.8 382.6L1137.8 386.8M1167.5 382.6L1169.5 381.6M1195.2 382.6L1190.4 390.1M863 410.3L866.1 402.4M890.7 410.3L892.9 408.1M918.4 410.3L916.7 408.6M946.1 410.3L942.5 410.7M973.7 410.3L964.7 411.8M1001.4 410.3L985.3 412.7M1029.1 410.3L1009.4 414.4M1056.8 410.3L1040.4 418.5M1084.5 410.3L1071.7 422.4M1112.1 410.3L1104.1 423.3M1139.8 410.3L1135.9 420.8M1167.5 410.3L1166.5 413.3M1195.2 410.3L1194.6 408.5M1222.9 410.3L1218.7 417M890.7 438L893.2 435.1M918.4 438L920.7 438M946.1 438L947 439.9M973.7 438L970.7 441.5M1001.4 438L995.7 445.8M1029.1 438L1017.4 446.6M1056.8 438L1046.2 447.3M1084.5 438L1075.5 449.6M1112.1 438L1103.5 454.8M1139.8 438L1135.1 451.8M1167.5 438L1166 446.6M1195.2 438L1194.6 435.6M1222.9 438L1223.3 432M890.7 465.6L891.9 464.2M918.4 465.6L920.1 464.6M946.1 465.6L948.8 463M973.7 465.6L974.6 466M1001.4 465.6L998.7 475.3M1029.1 465.6L1024.3 476.1M1056.8 465.6L1050.8 471.5M1084.5 465.6L1077.8 470.8M1112.1 465.6L1105 476.1M1139.8 465.6L1133.6 478.3M1167.5 465.6L1165.2 473.8M918.4 493.3L917.9 494.3M946.1 493.3L944.9 494.5M973.7 493.3L974.9 491.7M1001.4 493.3L1000.8 495.1M1029.1 493.3L1028 503.9M1056.8 493.3L1054.7 498.8M1084.5 493.3L1081.9 493.8M1112.1 493.3L1105 496.4M1139.8 493.3L1131.4 500.9M946.1 521L944.2 524.9M973.7 521L972.3 523.4M1001.4 521L998.7 527.9M1029.1 521L1028 530.9M1056.8 521L1055.3 529.4M1084.5 521L1081.7 522.1M1112.1 521L1103.5 520.3M946.1 548.7L943 559M973.7 548.7L970.7 556.7M1001.4 548.7L997.9 555.2M1029.1 548.7L1027.2 557.4M1056.8 548.7L1055.3 560.5M973.7 576.4L970.7 589.8M1001.4 576.4L997.9 585.3M1029.1 576.4L1027.2 583.8M973.7 604L973.7 618.5M1001.4 604L1000.7 614.8" stroke="#0d0d0d" stroke-width="1.35" fill="none"/>
<path d="M1005.4 92.8L1005.2 98.2L1002.6 97.3ZM937.3 115.9L942.4 121.7L938.8 123.5ZM983.7 116.9L981.6 124.2L978.2 122.2ZM1008 119.5L1006.9 125.5L1004.1 124.1ZM918.4 159.2L919.6 163.7L917.2 163.7ZM952.1 161.9L947.4 162.5L947.7 160.1ZM981.2 154.6L978.7 158.4L977.1 156.6ZM1008 153.4L1006 157.6L1004.2 156ZM1029.6 163.2L1027.3 159.1L1029.7 158.5ZM1057.5 169.2L1055.9 164.8L1058.3 164.6ZM849.6 181.5L855.5 182.9L854 185.7ZM881.4 168.1L887.1 175.1L882.8 177ZM916.7 171.8L919.1 178.1L915.6 178.5ZM947.1 182.8L947.5 187.5L945.1 187.1ZM974.2 185.8L974.7 190.5L972.3 190.1ZM1029.1 197.3L1027.9 192.8L1030.3 192.8ZM1055.8 178.8L1057.4 183.2L1055 183.4ZM1088.8 204.5L1085.5 199L1088.8 198.1ZM827.8 215.5L832.5 214.9L832.1 217.3ZM854.5 207L858.7 209.8L856.8 211.5ZM886.3 192.5L890.3 200.9L885.5 201.8ZM917.9 172.9L920.4 181.9L915.6 181.9ZM947.3 182.6L949.4 191.7L944.5 191.5ZM972.7 200.9L974.7 206.7L971.5 207ZM1000.9 214.5L1003.2 218.6L1000.8 219.2ZM1028.4 225.3L1027.5 220.7L1030 220.9ZM1058 226.5L1056.2 222.2L1058.7 221.9ZM1088.5 233.8L1085.2 227.7L1088.7 226.8ZM774.2 248.2L777.2 244.6L778.6 246.6ZM799.7 236.2L803.7 238.5L802 240.2ZM829 236.2L832.8 239L830.9 240.5ZM854.5 233.7L858.8 236.8L856.7 238.6ZM887.5 226.4L890.5 232.8L886.9 233.5ZM919.1 204.5L921.4 213.5L916.5 213.5ZM944.9 206.9L947.6 215.8L942.7 216ZM970.3 211.8L973.7 220.5L968.9 221ZM999.4 231.2L1001.5 235.9L998.8 236.3ZM1058 258.1L1056.1 252.9L1059 252.7ZM1087.5 265.2L1084.2 257.5L1088.5 256.9ZM1114.1 264.2L1111.3 256.8L1115.4 256.4ZM776.6 282.6L776.8 277.9L779.1 278.7ZM804.7 267.9L808.3 270.8L806.4 272.2ZM832.6 261.9L835 265.9L832.6 266.5ZM859.3 265.6L862.6 268.8L860.6 270.1ZM886.3 258.3L889.4 263L886.6 263.9ZM911.8 238.9L915.9 247.2L911.2 248.2ZM935.1 229L939.6 237.1L934.9 238.3ZM963 236.3L968 244.2L963.3 245.6ZM997 253.4L1000.6 260L996.8 260.9ZM1055.6 284.9L1054.7 279.8L1057.4 280.1ZM1081.3 294.8L1080.1 285.7L1084.8 286.4ZM1111.1 297.9L1109.1 288.8L1113.9 289ZM1139.8 291.9L1137.8 284.3L1141.9 284.3ZM809.7 297.6L807.3 301.6L805.6 299.9ZM835.3 293.6L836.6 298.1L834.1 298.1ZM861.8 292.3L863.7 296.5L861.4 296.9ZM886.3 282.6L889.7 288.6L886.2 289.5ZM910.6 294.7L915 296L913.7 298.1ZM932.7 265.6L938.2 273L933.7 274.8ZM960.5 271.6L966.6 278.7L962.2 280.7ZM990.9 280.1L996.9 286.4L992.9 288.5ZM1020.3 293.6L1024.7 295.1L1023.3 297.1ZM1049.5 304.5L1052.5 300.9L1053.9 303ZM1077.7 316.6L1078.5 309.4L1082 310.8ZM1108.1 323.6L1107.2 314.3L1112 315.1ZM1138.8 325.6L1136.7 316.5L1141.6 316.7ZM1167.5 313.6L1166.1 308.2L1168.9 308.2ZM805.4 331.4L806.5 326.8L808.6 328ZM836.3 316.7L837.1 321.3L834.7 321.1ZM863 315.5L864.2 320L861.8 320ZM888.7 314.3L890.8 319L888.1 319.4ZM913 309.4L916.9 315.6L913.2 316.8ZM935.1 304.5L941.2 311.6L936.8 313.7ZM960.5 302.2L966.9 309.1L962.6 311.3ZM987.4 307.2L994.6 313.2L990.6 316ZM1015.5 317.9L1021.6 320.1L1019.7 322.9ZM1044.6 328.9L1049 327L1049.4 329.5ZM1072.8 338.7L1076 333.2L1078.4 335.6ZM1104.1 345.2L1105.3 337.6L1109 339.2ZM1135.8 347.2L1135.3 339.2L1139.4 340.1ZM1165.5 341.2L1164.8 335.7L1167.7 336.1ZM835.3 349.9L836.6 354.4L834.1 354.4ZM864.2 345.9L864.8 350.5L862.4 350.2ZM891.7 348.9L892.2 353.6L889.8 353.2ZM916.4 349.9L919.2 353.6L916.9 354.5ZM935.1 343.4L940.4 346.7L938.1 348.9ZM959.1 339.9L966.2 344.1L963.1 347.1ZM982.4 342.2L990.9 345.1L988.3 349ZM1008.1 348.3L1016.8 348.7L1015.4 353ZM1037.3 353.2L1044.9 351.9L1044.5 355.9ZM1068.9 362.9L1074 358.3L1075.6 361.5ZM1099.4 366.6L1103.1 360.9L1105.5 363.5ZM1132.8 360.9L1135.4 357.1L1137 358.9ZM1164.5 353.4L1169.1 354.3L1168 356.5ZM835.3 376.6L836.6 381.1L834.1 381.1ZM865.4 370.6L865.7 375.4L863.3 374.9ZM893.7 378L892.3 382.4L890.2 381.1ZM915.4 380.6L919.8 382.1L918.5 384.1ZM935.1 377.6L939.8 378.4L938.7 380.6ZM956.7 377.6L963.7 377.8L962.7 381.2ZM976.4 379.9L985.6 378.5L985.1 383.3ZM1000.6 382.6L1009.6 380.2L1009.6 385ZM1031.2 388.4L1039.4 384L1040.5 388.8ZM1064 395.6L1070.3 388.7L1072.9 392.8ZM1100.6 397L1103.5 390.3L1106.5 392.7ZM1135.8 390.9L1136.7 386.3L1138.9 387.4ZM1165.5 383.6L1169 380.5L1170.1 382.7ZM1187.4 394.7L1189.1 389.3L1191.6 390.9ZM867.9 397.6L867.4 402.9L864.8 401.9ZM896.1 404.9L893.8 408.9L892.1 407.2ZM919.9 411.8L915.8 409.5L917.6 407.7ZM938.1 411.3L942.4 409.5L942.7 411.9ZM959.1 412.7L964.4 410.3L964.9 413.3ZM976.4 414L985 410.3L985.7 415.1ZM1000.6 416.3L1008.9 412L1009.9 416.8ZM1032.4 422.5L1039.3 416.3L1041.5 420.6ZM1065.2 428.6L1070 420.6L1073.4 424.2ZM1099.4 431L1102.1 422L1106.2 424.6ZM1133.5 427.3L1134.2 420.2L1137.7 421.5ZM1165.1 417.6L1165.4 412.9L1167.7 413.7ZM1193.2 404.3L1195.8 408.2L1193.5 408.9ZM1216.1 421.1L1217.6 416.3L1219.8 417.6ZM896.1 431.7L894.1 435.9L892.2 434.3ZM925.2 438L920.7 439.2L920.7 436.7ZM949.1 444L946 440.5L948.1 439.4ZM967.7 445L969.7 440.8L971.6 442.3ZM992.1 450.7L994.4 444.9L997 446.8ZM1010.3 451.9L1016 444.6L1018.9 448.5ZM1039.8 453L1044.7 445.5L1047.8 449ZM1070.1 456.8L1073.6 448.1L1077.5 451.1ZM1099.4 462.9L1101.4 453.7L1105.7 455.9ZM1132.2 460.4L1132.8 451.1L1137.4 452.6ZM1165.1 451.9L1164.6 446.3L1167.4 446.8ZM1195.7 440L1193.4 435.9L1195.8 435.3ZM1223.6 427.5L1224.5 432L1222 431.9ZM894.7 460.6L892.8 464.9L890.9 463.4ZM924 462.2L920.8 465.6L919.5 463.5ZM952.1 459.8L949.7 463.8L948 462.1ZM978.7 467.6L974.1 467.1L975 464.8ZM997 481.2L997.1 474.9L1000.3 475.8ZM1021.3 482.4L1022.5 475.3L1026 476.9ZM1047.1 475.1L1049.8 470.5L1051.7 472.5ZM1073.8 473.9L1077 469.7L1078.7 471.9ZM1100.6 482.4L1103.3 474.9L1106.7 477.2ZM1129.8 486.1L1131.5 477.3L1135.7 479.4ZM1163.8 478.8L1163.9 473.4L1166.6 474.2ZM919.9 490.3L919 494.9L916.8 493.8ZM948.1 491.3L945.7 495.4L944 493.6ZM972.2 495.3L974 491L975.9 492.4ZM999.4 499.3L999.7 494.7L1002 495.4ZM1027.4 510.3L1026.3 503.7L1029.8 504ZM1053.1 503L1053.5 498.4L1055.8 499.2ZM1077.5 494.5L1081.7 492.6L1082.1 495ZM1100.6 498.2L1104.5 495.2L1105.5 497.5ZM1126.2 505.5L1130.1 499.5L1132.6 502.3ZM942.4 529L943.1 524.4L945.4 525.4ZM970 527.3L971.3 522.8L973.4 524ZM997 532.2L997.5 527.5L999.8 528.4ZM1027.4 537L1026.4 530.7L1029.7 531.1ZM1054.4 534.6L1053.9 529.2L1056.7 529.7ZM1077.5 523.7L1081.2 520.9L1082.1 523.2ZM1098.2 519.8L1103.6 518.8L1103.4 521.7ZM941.1 565.3L941.3 558.5L944.7 559.5ZM968.8 561.7L969.4 556.2L972 557.2ZM995.8 559.2L996.9 554.6L999 555.8ZM1026.1 562.7L1025.8 557.1L1028.7 557.7ZM1054.4 567.7L1053.3 560.2L1057.2 560.7ZM968.8 598.1L968.5 589.3L972.9 590.3ZM995.8 590.8L996.5 584.7L999.4 585.9ZM1026.1 588.4L1026 583.5L1028.5 584.1ZM973.7 627.4L971.3 618.5L976.1 618.5ZM1000.2 621.3L998.9 614.6L1002.5 614.9Z" fill="#0d0d0d"/>
<path d="M452.9 802.4L414.9 822.4M424.4 812L414.9 822.4L428.9 820.5M484.3 802.4L454.3 828.8M460.7 817.3L454.3 828.8L466.5 824M390.1 833.7L344 851.3M356.3 840.7L344 851.3L360.2 851M421.5 833.7L379 848.1M390.6 838.9L379 848.1L393.8 848.4M452.9 833.7L419.9 850.2M428.3 841.4L419.9 850.2L432 848.8M484.3 833.7L467.4 854.2M470.4 845.9L467.4 854.2L474.9 849.7M515.7 833.7L513.9 856.2M511.9 849L513.9 856.2L517 849.4M358.7 864.9L311.2 880.5M324.2 870.4L311.2 880.5L327.7 881M390.1 864.9L348.7 875.5M360.4 867.6L348.7 875.5L362.7 876.9M421.5 864.9L392.3 871.4M400.6 866.2L392.3 871.4L402.1 872.7M452.9 864.9L441.1 872.4M443.9 868.8L441.1 872.4L445.6 871.4M484.3 864.9L490.8 876.5M487.5 873.7L490.8 876.5L490.1 872.2M515.7 864.9L533.6 882.6M526.1 879.2L533.6 882.6L530 875.2M295.9 896.2L256.1 911.4M266.8 902.3L256.1 911.4L270.2 911.2M327.3 896.2L282.6 911.2M294.8 901.6L282.6 911.2L298.1 911.5M358.7 896.2L321.3 904.2M332 897.6L321.3 904.2L333.8 905.9M390.1 896.2L368.6 900.1M374.8 896.5L368.6 900.1L375.7 901.3M421.5 896.2L413.5 898.4M416.1 896.6L413.5 898.4L416.7 898.7M452.9 896.2L464.5 899M460.6 899.4L464.5 899L461.2 896.8M484.3 896.2L508.1 907.2M499.5 906.5L508.1 907.2L501.9 901.1M515.7 896.2L536.6 917.2M527.8 913L536.6 917.2L532.5 908.4M547.1 896.2L560.9 927.5M553.1 919.3L560.9 927.5L560.1 916.3M233.1 927.5L193.4 940.6M204.2 932.1L193.4 940.6L207.2 940.9M264.5 927.5L222.7 936.5M234.7 929L222.7 936.5L236.7 938.3M295.9 927.5L254.3 933.5M266.5 927L254.3 933.5L267.9 936.3M327.3 927.5L292.8 929.5M303.3 925L292.8 929.5L303.7 932.7M358.7 927.5L336.7 928.1M343.5 925.4L336.7 928.1L343.6 930.3M390.1 927.5L385.1 927.5M388.1 926.4L385.1 927.5L388.1 928.6M421.5 927.5L431.9 929.1M428.5 929.7L431.9 929.1L428.9 927.4M452.9 927.5L470.6 935.5M464.2 935L470.6 935.5L466 931M484.3 927.5L504 947.8M495.6 943.7L504 947.8L500.2 939.3M515.7 927.5L530.5 960M522.3 951.5L530.5 960L529.5 948.2M547.1 927.5L553.8 965.1M547.5 954.2L553.8 965.1L555.9 952.7M201.7 958.7L177.1 966M183.9 961L177.1 966L185.5 966.5M233.1 958.7L199.4 960.9M209.6 956.5L199.4 960.9L210.1 964M264.5 958.7L224.7 955.2M237.4 951.9L224.7 955.2L236.6 960.8M295.9 958.7L264.4 952.8M274.8 951.1L264.4 952.8L273.5 958.2M327.3 958.7L308 952.8M314.6 952.5L308 952.8L313.3 956.8M358.7 958.7L350.7 955.2M353.9 955.4L350.7 955.2L353 957.4M390.1 958.7L396.4 960.9M393.2 961L396.4 960.9L393.9 958.9M421.5 958.7L435.9 969.1M430.3 967.5L435.9 969.1L432.6 964.3M452.9 958.7L467.5 981.2M460.5 975.9L467.5 981.2L465.5 972.6M484.3 958.7L493.8 993.4M487 983.7L493.8 993.4L494.7 981.6M515.7 958.7L518.3 994.7M513.5 983.9L518.3 994.7L521.5 983.3M547.1 958.7L541.6 995.5M539.2 983.5L541.6 995.5L547.4 984.7M578.5 958.7L567.1 988.4M567.3 978L567.1 988.4L573.9 980.5M138.9 990L128.3 1005.6M129.8 999.6L128.3 1005.6L133.3 1001.9M170.3 990L150.6 994.5M156.2 990.9L150.6 994.5L157.2 995.3M201.7 990L171 985.3M181 983.3L171 985.3L180 990.2M233.1 990L199.4 977.2M211.3 977.4L199.4 977.2L208.4 984.9M264.5 990L233.8 975.2M245 976.4L233.8 975.2L241.7 983.2M295.9 990L275.6 977.2M283.3 978.9L275.6 977.2L280.5 983.4M327.3 990L319.3 983.3M322.5 984.5L319.3 983.3L321 986.3M358.7 990L361.7 992.5M358.7 991.4L361.7 992.5L360.1 989.7M390.1 990L398.4 1004.6M394.2 1001L398.4 1004.6L397.5 999.1M421.5 990L428.8 1016.8M423.5 1009.3L428.8 1016.8L429.5 1007.7M452.9 990L455.3 1030M450.1 1017.9L455.3 1030L459 1017.3M484.3 990L480.6 1030M477.3 1017.2L480.6 1030L486.2 1018M515.7 990L506.2 1024M505.4 1012.4L506.2 1024L512.9 1014.5M547.1 990L532.5 1015.8M534.1 1006.2L532.5 1015.8L539.9 1009.4M578.5 990L563.1 1006.7M566 999.8L563.1 1006.7L569.7 1003.2M170.3 1021.2L144.5 1016.8M153 1015.3L144.5 1016.8L152 1021M201.7 1021.2L175.1 1006.6M185 1008.2L175.1 1006.6L181.7 1014.1M233.1 1021.2L211.6 1003.5M220.2 1006.6L211.6 1003.5L216.3 1011.4M264.5 1021.2L250.1 1005.6M256.3 1008.9L250.1 1005.6L252.8 1012.1M295.9 1021.2L288.9 1016.8M292 1017.5L288.9 1016.8L290.8 1019.3M327.3 1021.2L321.3 1018.2M324.5 1018.6L321.3 1018.2L323.5 1020.6M358.7 1021.2L360.7 1031.2M359 1028.4L360.7 1031.2L361.2 1027.9M390.1 1021.2L390.3 1054.2M386.6 1044L390.3 1054.2L393.9 1044M421.5 1021.2L416.6 1063.2M413.4 1049.7L416.6 1063.2L422.8 1050.8M452.9 1021.2L439.1 1057.2M439.4 1044.5L439.1 1057.2L447.4 1047.6M484.3 1021.2L465.4 1048M468.3 1037.6L465.4 1048L474.2 1041.9M515.7 1021.2L497 1035.8M501.2 1029.2L497 1035.8L504.4 1033.4M547.1 1021.2L536.5 1026.8M539.2 1023.9L536.5 1026.8L540.4 1026.2M578.5 1021.2L570.2 1022M573.1 1020.7L570.2 1022L573.3 1022.8M609.9 1021.2L601.6 1022M604.5 1020.7L601.6 1022L604.7 1022.8M201.7 1052.5L188.3 1039.9M193.9 1042.3L188.3 1039.9L191 1045.3M233.1 1052.5L226.8 1045M229.6 1046.6L226.8 1045L227.9 1048M264.5 1052.5L265.5 1057.5M263.9 1054.8L265.5 1057.5L266 1054.4M295.9 1052.5L299.9 1065.3M297.2 1061.8L299.9 1065.3L300.1 1060.9M327.3 1052.5L328.3 1073.5M325.6 1067.1L328.3 1073.5L330.3 1066.9M358.7 1052.5L354.8 1081.5M352.8 1072.1L354.8 1081.5L359.2 1073M390.1 1052.5L376.1 1081.5M377.2 1071L376.1 1081.5L383.7 1074.1M421.5 1052.5L396.5 1075.5M401.7 1065.6L396.5 1075.5L406.8 1071.2M452.9 1052.5L422.9 1061.2M431.2 1055.2L422.9 1061.2L433.2 1061.9M484.3 1052.5L463.3 1055.1M469.5 1052L463.3 1055.1L470.1 1056.6M515.7 1052.5L507.2 1049M510.4 1049.2L507.2 1049L509.6 1051.2M547.1 1052.5L546.7 1044M547.9 1047L546.7 1044L545.8 1047.1M578.5 1052.5L579.7 1045M580.3 1048.1L579.7 1045L578.2 1047.8M233.1 1083.8L237 1094.8M234.6 1091.8L237 1094.8L237 1090.9M264.5 1083.8L272.4 1101.8M267.9 1097.1L272.4 1101.8L272 1095.3M295.9 1083.8L299.9 1104.8M296.3 1098.7L299.9 1104.8L301 1097.8M327.3 1083.8L320.3 1105.8M320 1098.2L320.3 1105.8L324.9 1099.7M358.7 1083.8L337.7 1102.8M342.1 1094.5L337.7 1102.8L346.3 1099.2M390.1 1083.8L360.1 1086.6M369.1 1082.4L360.1 1086.6L369.7 1089M421.5 1083.8L387.2 1073.4M399 1072.8L387.2 1073.4L396.7 1080.4M452.9 1083.8L425.9 1072.4M435.5 1072.9L425.9 1072.4L433 1078.9M484.3 1083.8L471.5 1072.4M476.7 1074.5L471.5 1072.4L474.2 1077.3M515.7 1083.8L514.3 1071.4M516.1 1075.1L514.3 1071.4L513.4 1075.4M547.1 1083.8L547.1 1072.4M548.4 1075.9L547.1 1072.4L545.8 1075.9M264.5 1115L270.4 1130.2M266.9 1126.2L270.4 1130.2L270.3 1124.9M295.9 1115L283.7 1131.3M285.7 1124.9L283.7 1131.3L289.3 1127.6M327.3 1115L299.9 1126.6M307.1 1120L299.9 1126.6L309.7 1126.1M358.7 1115L320.7 1115M332.5 1110.8L320.7 1115L332.5 1119.3M390.1 1115L355.1 1103M367.3 1102.8L355.1 1103L364.6 1110.7M421.5 1115L390.2 1094.7M402.2 1097.5L390.2 1094.7L397.6 1104.5M452.9 1115L432 1095.7M440.6 1099.4L432 1095.7L436.3 1104M484.3 1115L471.5 1096.7M477.5 1101L471.5 1096.7L473.4 1103.8M515.7 1115L508.2 1099.8M512.2 1103.7L508.2 1099.8L508.8 1105.4M295.9 1146.3L257.3 1152.8M268.5 1146.5L257.3 1152.8L270 1155.1M327.3 1146.3L282.6 1148.5M296.2 1142.8L282.6 1148.5L296.7 1152.8M358.7 1146.3L315.2 1138.3M329.6 1135.9L315.2 1138.3L327.8 1145.6M390.1 1146.3L353.7 1127.3M367.1 1129.1L353.7 1127.3L362.9 1137.2M421.5 1146.3L392.2 1122.1M404 1126.3L392.2 1122.1L398.6 1132.9M452.9 1146.3L431 1122.1M440.5 1127.1L431 1122.1L435.1 1132M295.9 1177.5L248.2 1183.5M262.3 1176.4L248.2 1183.5L263.7 1187M327.3 1177.5L282.6 1176M296.6 1171.5L282.6 1176L296.3 1181.4M358.7 1177.5L319.3 1165.8M332.8 1165L319.3 1165.8L330.2 1173.8M390.1 1177.5L356.8 1155.5M369.6 1158.7L356.8 1155.5L364.7 1166.1M421.5 1177.5L392.2 1152.5M404.1 1157L392.2 1152.5L398.5 1163.6" stroke="#0d0d0d" stroke-width="1.65" fill="none" stroke-linejoin="miter"/>
<path d="M1077.9 802.4L1068.1 825.8M1068.5 817.5L1068.1 825.8L1073.7 819.7M1109.3 802.4L1103.6 836.9M1101.5 825.6L1103.6 836.9L1109.2 826.9M1015.1 833.7L1003.7 859.8M1004.3 850.5L1003.7 859.8L1010.2 853M1046.5 833.7L1034.5 850.2M1036.4 843.7L1034.5 850.2L1040.1 846.4M1077.9 833.7L1070.2 857.3M1070 849.1L1070.2 857.3L1075.2 850.8M1109.3 833.7L1107.7 867.4M1104.4 856.8L1107.7 867.4L1112 857.1M1140.7 833.7L1145.4 875.5M1139.3 863.1L1145.4 875.5L1148.6 862M952.3 864.9L928.2 882.3M933.7 874.2L928.2 882.3L937.6 879.6M983.7 864.9L961.7 878.5M967 871.9L961.7 878.5L970 876.8M1015.1 864.9L996.1 882.6M1000 875L996.1 882.6L1004 879.3M1046.5 864.9L1036.5 884.6M1037.4 877.4L1036.5 884.6L1041.8 879.7M1077.9 864.9L1076.3 888.7M1074.1 881.2L1076.3 888.7L1079.5 881.6M1109.3 864.9L1114.8 898.9M1109.3 889L1114.8 898.9L1116.9 887.8M1140.7 864.9L1150.5 908.9M1142.6 896.4L1150.5 908.9L1152.4 894.2M920.9 896.2L893.9 909.1M900.8 902.1L893.9 909.1L903.7 908.1M952.3 896.2L922.8 905.2M930.9 899.1L922.8 905.2L932.9 905.7M983.7 896.2L960.7 912.2M966 904.7L960.7 912.2L969.6 909.8M1015.1 896.2L998.1 916.2M1001.1 908.1L998.1 916.2L1005.6 911.9M1046.5 896.2L1039.5 920.2M1039 912L1039.5 920.2L1044.3 913.6M1077.9 896.2L1080.3 922.2M1076.7 914.4L1080.3 922.2L1082.5 913.9M1109.3 896.2L1115.8 927.5M1110.3 918.5L1115.8 927.5L1117.3 917.1M1140.7 896.2L1146.4 937.6M1140 925.4L1146.4 937.6L1149.3 924.1M1172.1 896.2L1173.7 943.7M1167.9 929.2L1173.7 943.7L1178.5 928.8M858.1 927.5L820.8 923.2M832.8 920.3L820.8 923.2L831.9 928.7M889.5 927.5L852.7 923.5M864.6 920.6L852.7 923.5L863.7 928.8M920.9 927.5L889.4 926.1M899.3 923L889.4 926.1L899 930M952.3 927.5L924.9 933.5M932.7 928.6L924.9 933.5L934.1 934.7M983.7 927.5L958.7 942.7M964.8 935.2L958.7 942.7L968.1 940.7M1015.1 927.5L998.1 946.8M1001.2 938.9L998.1 946.8L1005.5 942.7M1046.5 927.5L1038.5 947.8M1038.7 940.6L1038.5 947.8L1043.2 942.4M1077.9 927.5L1075.3 951.9M1073.4 944L1075.3 951.9L1078.8 944.6M1109.3 927.5L1108.7 957M1105.6 947.8L1108.7 957L1112.2 947.9M1140.7 927.5L1136.2 964.1M1133.5 952.2L1136.2 964.1L1141.7 953.2M1172.1 927.5L1166.6 970.2M1163.5 956.3L1166.6 970.2L1173.1 957.5M1203.5 927.5L1201.5 967.5M1197.7 954.8L1201.5 967.5L1206.6 955.3M826.7 958.7L802.1 939.7M811.8 942.9L802.1 939.7L807.6 948.4M858.1 958.7L826.4 943.7M837.9 944.8L826.4 943.7L834.6 951.9M889.5 958.7L855.8 948.3M867.4 947.8L855.8 948.3L865.1 955.3M920.9 958.7L890.4 953.8M900.4 951.9L890.4 953.8L899.3 958.8M952.3 958.7L923.9 962M932.3 957.8L923.9 962L933.1 964.2M983.7 958.7L956.5 971.1M963.5 964.3L956.5 971.1L966.3 970.3M1015.1 958.7L997.1 975.2M1000.8 968.1L997.1 975.2L1004.5 972.1M1046.5 958.7L1034.5 980.2M1035.8 972.2L1034.5 980.2L1040.6 974.9M1077.9 958.7L1067.1 985.3M1067.5 975.9L1067.1 985.3L1073.4 978.3M1109.3 958.7L1097.5 991.4M1097.5 980L1097.5 991.4L1104.8 982.6M1140.7 958.7L1127.1 996.5M1127.1 983.3L1127.1 996.5L1135.5 986.3M1172.1 958.7L1157.5 997.5M1157.7 983.9L1157.5 997.5L1166.4 987.1M1203.5 958.7L1186 993.4M1187.6 980.7L1186 993.4L1195.3 984.6M763.9 990L758.4 968M762.6 974.2L758.4 968L757.6 975.4M795.3 990L781.7 964M788.8 970.5L781.7 964L783 973.6M826.7 990L802.1 965M812.5 970L802.1 965L806.9 975.5M858.1 990L831.5 970M842 973.2L831.5 970L837.5 979.2M889.5 990L863.9 976.2M873.4 977.6L863.9 976.2L870.3 983.3M920.9 990L894.5 984.3M903.3 983.1L894.5 984.3L902 989M952.3 990L925.9 992.4M933.8 988.7L925.9 992.4L934.4 994.6M983.7 990L961.7 998.5M967.6 993.4L961.7 998.5L969.5 998.3M1015.1 990L996.1 1006.7M1000.1 999.4L996.1 1006.7L1003.9 1003.6M1046.5 990L1028.5 1013.8M1031.4 1004.4L1028.5 1013.8L1036.7 1008.4M1077.9 990L1055.9 1019.9M1059.4 1008.2L1055.9 1019.9L1066.1 1013.1M1109.3 990L1084.3 1019.9M1088.7 1007.8L1084.3 1019.9L1095.4 1013.4M1140.7 990L1114.9 1015.8M1120 1004.9L1114.9 1015.8L1125.8 1010.7M1172.1 990L1149.3 1013.8M1153.7 1003.9L1149.3 1013.8L1159 1009M1203.5 990L1187 1019.9M1188.8 1008.8L1187 1019.9L1195.5 1012.5M1234.9 990L1233.9 1028M1230 1016.1L1233.9 1028L1238.5 1016.3M795.3 1021.2L780.7 996.5M788 1002.5L780.7 996.5L782.5 1005.8M826.7 1021.2L810.2 996.5M818.1 1002.3L810.2 996.5L812.5 1006M858.1 1021.2L842.7 1001.5M849.7 1005.9L842.7 1001.5L845.3 1009.4M889.5 1021.2L875.1 1009.6M880.9 1011.6L875.1 1009.6L878.3 1014.9M920.9 1021.2L902.6 1019.5M908.5 1018L902.6 1019.5L908.1 1022.1M952.3 1021.2L933 1027.8M938.3 1023.6L933 1027.8L939.7 1027.9M983.7 1021.2L963.7 1033.8M968.5 1027.7L963.7 1033.8L971.3 1032.2M1015.1 1021.2L995.1 1039M999.3 1031.2L995.1 1039L1003.3 1035.7M1046.5 1021.2L1020.3 1042M1026.1 1032.6L1020.3 1042L1030.7 1038.5M1077.9 1021.2L1045.9 1042M1053.5 1032L1045.9 1042L1058.1 1039.1M1109.3 1021.2L1076.3 1035.8M1084.9 1027.6L1076.3 1035.8L1088.2 1035M1140.7 1021.2L1112.9 1030.8M1120.5 1024.7L1112.9 1030.8L1122.6 1030.9M1172.1 1021.2L1156.5 1038M1159.5 1031L1156.5 1038L1163.2 1034.5M1203.5 1021.2L1195.2 1048M1194.8 1038.8L1195.2 1048L1200.8 1040.7M1234.9 1021.2L1229.6 1059.2M1227 1046.9L1229.6 1059.2L1235.5 1048.1M826.7 1052.5L822.4 1033.8M825.8 1039.1L822.4 1033.8L821.6 1040.1M858.1 1052.5L852.8 1041.9M855.6 1044.6L852.8 1041.9L853.3 1045.8M889.5 1052.5L880.2 1051.1M883.3 1050.5L880.2 1051.1L883 1052.6M920.9 1052.5L908.7 1059.2M911.7 1055.8L908.7 1059.2L913.2 1058.5M952.3 1052.5L936 1067.3M939.4 1060.9L936 1067.3L942.7 1064.5M983.7 1052.5L965.7 1072.5M969 1064.3L965.7 1072.5L973.5 1068.3M1015.1 1052.5L984.8 1067.3M992.5 1059.3L984.8 1067.3L995.8 1066.1M1046.5 1052.5L1009.1 1060.2M1019.8 1053.6L1009.1 1060.2L1021.6 1062M1077.9 1052.5L1038.9 1050.7M1051.2 1046.9L1038.9 1050.7L1050.8 1055.6M1109.3 1052.5L1079.3 1052.5M1088.6 1049.2L1079.3 1052.5L1088.6 1055.9M1140.7 1052.5L1127.1 1058.2M1130.7 1054.9L1127.1 1058.2L1132 1058M1172.1 1052.5L1167.6 1064.3M1167.7 1060.1L1167.6 1064.3L1170.3 1061.2M1203.5 1052.5L1200.3 1071.5M1199.2 1065.3L1200.3 1071.5L1203.4 1066M1234.9 1052.5L1228.6 1080.5M1227.4 1071.1L1228.6 1080.5L1233.7 1072.5M889.5 1083.8L886.5 1089.8M886.9 1086.6L886.5 1089.8L888.8 1087.6M920.9 1083.8L910.9 1095.8M912.7 1090.9L910.9 1095.8L915.3 1093.2M952.3 1083.8L933 1097.8M937.4 1091.3L933 1097.8L940.5 1095.6M983.7 1083.8L955.5 1093.8M963.1 1087.5L955.5 1093.8L965.4 1093.8M1015.1 1083.8L978.7 1079.5M990.5 1076.7L978.7 1079.5L989.5 1084.9M1046.5 1083.8L1008.1 1070.4M1021.5 1070.2L1008.1 1070.4L1018.5 1078.8M1077.9 1083.8L1047.9 1074.5M1058.2 1074L1047.9 1074.5L1056.2 1080.7M1109.3 1083.8L1094.5 1080.6M1099.4 1079.9L1094.5 1080.6L1098.7 1083.2M1140.7 1083.8L1135.2 1084.6M1138 1083.1L1135.2 1084.6L1138.3 1085.2M1172.1 1083.8L1164.2 1097M1165.2 1092L1164.2 1097L1168.1 1093.8M889.5 1115L886.5 1118M887.9 1115.1L886.5 1118L889.4 1116.7M920.9 1115L902.6 1122M907.5 1117.8L902.6 1122L909.1 1121.9M952.3 1115L920.8 1120M930 1115L920.8 1120L931.1 1122M983.7 1115L945.3 1113M957.4 1109.4L945.3 1113L957 1117.9M1015.1 1115L981.8 1107M993 1105.8L981.8 1107L991.2 1113.2M1046.5 1115L1018.3 1103.8M1028.3 1104.2L1018.3 1103.8L1025.8 1110.4M1077.9 1115L1057.9 1108M1064.9 1108L1057.9 1108L1063.3 1112.4M1109.3 1115L1095.5 1108M1100.6 1108.7L1095.5 1108L1099 1111.7M1140.7 1115L1130.1 1107M1134.3 1108.3L1130.1 1107L1132.5 1110.7M920.9 1146.3L883.3 1148.5M894.7 1143.6L883.3 1148.5L895.2 1152M952.3 1146.3L908.6 1146.5M922.1 1141.6L908.6 1146.5L922.2 1151.3M983.7 1146.3L947.3 1141.4M959.1 1138.8L947.3 1141.4L958 1147M1015.1 1146.3L986.9 1137.3M996.6 1136.9L986.9 1137.3L994.6 1143.2M1046.5 1146.3L1023.3 1136.3M1031.6 1136.8L1023.3 1136.3L1029.4 1142M1077.9 1146.3L1056.9 1135.3M1064.6 1136.4L1056.9 1135.3L1062.2 1141M920.9 1177.5L881.3 1179.5M893.4 1174.5L881.3 1179.5L893.8 1183.3M952.3 1177.5L914.7 1177M926.4 1172.9L914.7 1177L926.3 1181.3M983.7 1177.5L953.4 1172.8M963.3 1170.9L953.4 1172.8L962.3 1177.7M1015.1 1177.5L989.9 1168.8M998.7 1168.7L989.9 1168.8L996.7 1174.4M1046.5 1177.5L1023.3 1165.8M1031.8 1166.8L1023.3 1165.8L1029.2 1172" stroke="#0d0d0d" stroke-width="1.65" fill="none" stroke-linejoin="miter"/>
<circle cx="482.9" cy="626.2" r="6.1" fill="#ff00ff"/>
<circle cx="473.8" cy="611.7" r="6.1" fill="#ff00ff"/>
<circle cx="464.6" cy="597.3" r="6.1" fill="#ff00ff"/>
<circle cx="455.5" cy="582.8" r="6.1" fill="#ff00ff"/>
<circle cx="446.4" cy="568.4" r="6.1" fill="#ff00ff"/>
<circle cx="437.2" cy="553.9" r="6.1" fill="#ff00ff"/>
<circle cx="428.1" cy="539.4" r="6.1" fill="#ff00ff"/>
<circle cx="418.9" cy="525" r="6.1" fill="#ff00ff"/>
<circle cx="409.8" cy="510.5" r="6.1" fill="#ff00ff"/>
<circle cx="400.7" cy="496.1" r="6.1" fill="#ff00ff"/>
<circle cx="391.5" cy="481.6" r="6.1" fill="#ff00ff"/>
<circle cx="382.4" cy="467.1" r="6.1" fill="#ff00ff"/>
<circle cx="373.3" cy="452.7" r="6.1" fill="#ff00ff"/>
<circle cx="364.1" cy="438.2" r="6.1" fill="#ff00ff"/>
<circle cx="355" cy="423.8" r="6.1" fill="#ff00ff"/>
<circle cx="345.8" cy="409.3" r="6.1" fill="#ff00ff"/>
<circle cx="336.7" cy="394.8" r="6.1" fill="#ff00ff"/>
<circle cx="327.6" cy="380.4" r="6.1" fill="#ff00ff"/>
<circle cx="318.4" cy="365.9" r="6.1" fill="#ff00ff"/>
<circle cx="309.3" cy="351.5" r="6.1" fill="#ff00ff"/>
<circle cx="300.2" cy="337" r="6.1" fill="#ff00ff"/>
<circle cx="291" cy="322.5" r="6.1" fill="#ff00ff"/>
<circle cx="281.9" cy="308.1" r="6.1" fill="#ff00ff"/>
<circle cx="272.7" cy="293.6" r="6.1" fill="#ff00ff"/>
<circle cx="263.6" cy="279.2" r="6.1" fill="#ff00ff"/>
<circle cx="254.5" cy="264.7" r="6.1" fill="#ff00ff"/>
<circle cx="245.3" cy="250.2" r="6.1" fill="#ff00ff"/>
<circle cx="236.2" cy="235.8" r="6.1" fill="#ff00ff"/>
<circle cx="227.1" cy="221.3" r="6.1" fill="#ff00ff"/>
<circle cx="217.9" cy="206.9" r="6.1" fill="#ff00ff"/>
<circle cx="208.8" cy="192.4" r="6.1" fill="#ff00ff"/>
<circle cx="199.7" cy="177.9" r="6.1" fill="#ff00ff"/>
<circle cx="190.5" cy="163.5" r="6.1" fill="#ff00ff"/>
<circle cx="181.4" cy="149" r="6.1" fill="#ff00ff"/>
<circle cx="172.2" cy="134.6" r="6.1" fill="#ff00ff"/>
<circle cx="163.1" cy="120.1" r="6.1" fill="#ff00ff"/>
<circle cx="1103.5" cy="626.2" r="6.1" fill="#ff00ff"/>
<circle cx="1094.4" cy="611.7" r="6.1" fill="#ff00ff"/>
<circle cx="1085.2" cy="597.3" r="6.1" fill="#ff00ff"/>
<circle cx="1076.1" cy="582.8" r="6.1" fill="#ff00ff"/>
<circle cx="1067" cy="568.4" r="6.1" fill="#ff00ff"/>
<circle cx="1057.8" cy="553.9" r="6.1" fill="#ff00ff"/>
<circle cx="1048.7" cy="539.4" r="6.1" fill="#ff00ff"/>
<circle cx="1039.5" cy="525" r="6.1" fill="#ff00ff"/>
<circle cx="1030.4" cy="510.5" r="6.1" fill="#ff00ff"/>
<circle cx="1021.3" cy="496.1" r="6.1" fill="#ff00ff"/>
<circle cx="1012.1" cy="481.6" r="6.1" fill="#ff00ff"/>
<circle cx="1003" cy="467.1" r="6.1" fill="#ff00ff"/>
<circle cx="993.9" cy="452.7" r="6.1" fill="#ff00ff"/>
<circle cx="984.7" cy="438.2" r="6.1" fill="#ff00ff"/>
<circle cx="975.6" cy="423.8" r="6.1" fill="#ff00ff"/>
<circle cx="966.4" cy="409.3" r="6.1" fill="#ff00ff"/>
<circle cx="957.3" cy="394.8" r="6.1" fill="#ff00ff"/>
<circle cx="948.2" cy="380.4" r="6.1" fill="#ff00ff"/>
<circle cx="939" cy="365.9" r="6.1" fill="#ff00ff"/>
<circle cx="929.9" cy="351.5" r="6.1" fill="#ff00ff"/>
<circle cx="920.8" cy="337" r="6.1" fill="#ff00ff"/>
<circle cx="911.6" cy="322.5" r="6.1" fill="#ff00ff"/>
<circle cx="902.5" cy="308.1" r="6.1" fill="#ff00ff"/>
<circle cx="893.3" cy="293.6" r="6.1" fill="#ff00ff"/>
<circle cx="884.2" cy="279.2" r="6.1" fill="#ff00ff"/>
<circle cx="875.1" cy="264.7" r="6.1" fill="#ff00ff"/>
<circle cx="865.9" cy="250.2" r="6.1" fill="#ff00ff"/>
<circle cx="856.8" cy="235.8" r="6.1" fill="#ff00ff"/>
<circle cx="847.7" cy="221.3" r="6.1" fill="#ff00ff"/>
<circle cx="838.5" cy="206.9" r="6.1" fill="#ff00ff"/>
<circle cx="829.4" cy="192.4" r="6.1" fill="#ff00ff"/>
<circle cx="820.3" cy="177.9" r="6.1" fill="#ff00ff"/>
<circle cx="811.1" cy="163.5" r="6.1" fill="#ff00ff"/>
<circle cx="802" cy="149" r="6.1" fill="#ff00ff"/>
<circle cx="792.8" cy="134.6" r="6.1" fill="#ff00ff"/>
<circle cx="783.7" cy="120.1" r="6.1" fill="#ff00ff"/>
<circle cx="171" cy="1121" r="8" fill="#ff00ff"/>
<circle cx="211" cy="1097" r="8" fill="#ff00ff"/>
<circle cx="248" cy="1075" r="8" fill="#ff00ff"/>
<circle cx="288" cy="1050" r="8" fill="#ff00ff"/>
<circle cx="325" cy="1026" r="8" fill="#ff00ff"/>
<circle cx="362" cy="1004" r="8" fill="#ff00ff"/>
<circle cx="400" cy="980" r="8" fill="#ff00ff"/>
<circle cx="439" cy="957" r="8" fill="#ff00ff"/>
<circle cx="476" cy="933" r="8" fill="#ff00ff"/>
<circle cx="513" cy="906" r="8" fill="#ff00ff"/>
<circle cx="551" cy="878" r="8" fill="#ff00ff"/>
<circle cx="587" cy="852" r="8" fill="#ff00ff"/>
<circle cx="796" cy="1121" r="8" fill="#ff00ff"/>
<circle cx="836" cy="1097" r="8" fill="#ff00ff"/>
<circle cx="873" cy="1075" r="8" fill="#ff00ff"/>
<circle cx="913" cy="1050" r="8" fill="#ff00ff"/>
<circle cx="950" cy="1027" r="8" fill="#ff00ff"/>
<circle cx="987" cy="1004" r="8" fill="#ff00ff"/>
<circle cx="1025" cy="980" r="8" fill="#ff00ff"/>
<circle cx="1063" cy="957" r="8" fill="#ff00ff"/>
<circle cx="1101" cy="933" r="8" fill="#ff00ff"/>
<circle cx="1134" cy="908" r="8" fill="#ff00ff"/>
<circle cx="1166" cy="884" r="8" fill="#ff00ff"/>
<circle cx="1199" cy="860" r="8" fill="#ff00ff"/>
<text x="129.8" y="154.4" font-size="29.5" text-anchor="start" font-weight="bold" fill="#000">35</text>
<text x="172.5" y="228.5" font-size="29.5" text-anchor="start" font-weight="bold" fill="#000">30</text>
<text x="219.6" y="298" font-size="29.5" text-anchor="start" font-weight="bold" fill="#000">25</text>
<text x="265.7" y="370.8" font-size="29.5" text-anchor="start" font-weight="bold" fill="#000">20</text>
<text x="309.3" y="442" font-size="29.5" text-anchor="start" font-weight="bold" fill="#000">15</text>
<text x="363.7" y="517.7" font-size="29.5" text-anchor="start" font-weight="bold" fill="#000">10</text>
<text x="418.2" y="592.5" font-size="29.5" text-anchor="start" font-weight="bold" fill="#000">5</text>
<text x="454.5" y="646" font-size="29.5" text-anchor="start" font-weight="bold" fill="#000">1</text>
<text x="748.6" y="152" font-size="29.5" text-anchor="start" font-weight="bold" fill="#000">35</text>
<text x="792.3" y="228" font-size="29.5" text-anchor="start" font-weight="bold" fill="#000">30</text>
<text x="838.1" y="296.2" font-size="29.5" text-anchor="start" font-weight="bold" fill="#000">25</text>
<text x="883.8" y="369.4" font-size="29.5" text-anchor="start" font-weight="bold" fill="#000">20</text>
<text x="928.9" y="440.5" font-size="29.5" text-anchor="start" font-weight="bold" fill="#000">15</text>
<text x="982.2" y="516.6" font-size="29.5" text-anchor="start" font-weight="bold" fill="#000">10</text>
<text x="1037.1" y="591.2" font-size="29.5" text-anchor="start" font-weight="bold" fill="#000">5</text>
<text x="1073.2" y="647" font-size="29.5" text-anchor="start" font-weight="bold" fill="#000">1</text>
<text x="557.7" y="835" font-size="29.5" text-anchor="start" font-weight="bold" fill="#000">48</text>
<text x="332.3" y="984.3" font-size="29.5" text-anchor="start" font-weight="bold" fill="#000">42</text>
<text x="142.2" y="1104" font-size="29.5" text-anchor="start" font-weight="bold" fill="#000">37</text>
<text x="1165.3" y="845.5" font-size="29.5" text-anchor="start" font-weight="bold" fill="#000">48</text>
<text x="959" y="988.5" font-size="29.5" text-anchor="start" font-weight="bold" fill="#000">42</text>
<text x="762.5" y="1104" font-size="29.5" text-anchor="start" font-weight="bold" fill="#000">37</text>
<path d="M177.7 579.6L203.8 579.6" stroke="#1a1a1a" stroke-width="1.6" fill="none"/><path d="M213.3 579.6L203.8 583.6L203.8 575.6Z" fill="#1a1a1a"/>
<path d="M799.5 589.5L825.5 589.5" stroke="#1a1a1a" stroke-width="1.6" fill="none"/><path d="M835 589.5L825.5 593.5L825.5 585.5Z" fill="#1a1a1a"/>
<text x="139.5" y="617.3" font-size="29" text-anchor="start" font-weight="normal" fill="#262626">0.2 m s<tspan font-size="13.5" dy="-13.5">-1</tspan></text>
<text x="762" y="626" font-size="29" text-anchor="start" font-weight="normal" fill="#262626">0.2 m s<tspan font-size="13.5" dy="-13.5">-1</tspan></text>
<path d="M134.5 1164.5L171.5 1164.5" stroke="#1a1a1a" stroke-width="1.7" fill="none"/><path d="M181.5 1164.5L171.5 1168.7L171.5 1160.3Z" fill="#1a1a1a"/>
<path d="M764.5 1160.5L801.5 1160.5" stroke="#1a1a1a" stroke-width="1.7" fill="none"/><path d="M811.5 1160.5L801.5 1164.7L801.5 1156.3Z" fill="#1a1a1a"/>
<text x="110.5" y="1202" font-size="29" text-anchor="start" font-weight="normal" fill="#262626">0.1 m s<tspan font-size="13.5" dy="-13.5">-1</tspan></text>
<text x="740.5" y="1198" font-size="29" text-anchor="start" font-weight="normal" fill="#262626">0.1 m s<tspan font-size="13.5" dy="-13.5">-1</tspan></text>
<path d="M83 48H654.5V665.4H83ZM89.5 54.5H648V658.9H89.5ZM83 48L89.5 54.5M654.5 48L648 54.5M83 665.4L89.5 658.9M654.5 665.4L648 658.9M83 42V54.5M83 658.9V671.4M178.3 42V54.5M178.3 658.9V671.4M273.6 42V54.5M273.6 658.9V671.4M368.9 42V54.5M368.9 658.9V671.4M464.2 42V54.5M464.2 658.9V671.4M559.5 42V54.5M559.5 658.9V671.4M654.8 42V54.5M654.8 658.9V671.4M77 89.4H89.5M648 89.4H660.5M77 192.3H89.5M648 192.3H660.5M77 295.2H89.5M648 295.2H660.5M77 398.1H89.5M648 398.1H660.5M77 501H89.5M648 501H660.5M77 603.9H89.5M648 603.9H660.5M83 658.9V665.4M130.7 658.9V665.4M83 662.1H130.7M178.3 658.9V665.4M225.9 658.9V665.4M178.3 662.1H225.9M273.6 658.9V665.4M321.2 658.9V665.4M273.6 662.1H321.2M368.9 658.9V665.4M416.6 658.9V665.4M368.9 662.1H416.6M464.2 658.9V665.4M511.8 658.9V665.4M464.2 662.1H511.8M559.5 658.9V665.4M607.1 658.9V665.4M559.5 662.1H607.1M130.7 54.5V48M178.3 54.5V48M130.7 51.2H178.3M225.9 54.5V48M273.6 54.5V48M225.9 51.2H273.6M321.2 54.5V48M368.9 54.5V48M321.2 51.2H368.9M416.6 54.5V48M464.2 54.5V48M416.6 51.2H464.2M511.8 54.5V48M559.5 54.5V48M511.8 51.2H559.5M607.1 54.5V48M654.8 54.5V48M607.1 51.2H654.8M83 69H89.5M83 89.2H89.5M86.2 69V89.2M83 140.8H89.5M83 192.4H89.5M86.2 140.8V192.4M83 244H89.5M83 295.6H89.5M86.2 244V295.6M83 347.2H89.5M83 398.8H89.5M86.2 347.2V398.8M83 450.4H89.5M83 502H89.5M86.2 450.4V502M83 553.6H89.5M83 605.2H89.5M86.2 553.6V605.2M83 635H89.5M83 659H89.5M86.2 635V659M648 89.2H654.5M648 140.8H654.5M651.2 89.2V140.8M648 192.4H654.5M648 244H654.5M651.2 192.4V244M648 295.6H654.5M648 347.2H654.5M651.2 295.6V347.2M648 398.8H654.5M648 450.4H654.5M651.2 398.8V450.4M648 502H654.5M648 553.6H654.5M651.2 502V553.6M648 605.2H654.5M648 635H654.5M651.2 605.2V635M648 69H654.5" stroke="#1c1c1c" stroke-width="1.0" fill="none"/>
<path d="M703.6 48H1275.1V665.4H703.6ZM710.1 54.5H1268.6V658.9H710.1ZM703.6 48L710.1 54.5M1275.1 48L1268.6 54.5M703.6 665.4L710.1 658.9M1275.1 665.4L1268.6 658.9M703.6 42V54.5M703.6 658.9V671.4M798.9 42V54.5M798.9 658.9V671.4M894.2 42V54.5M894.2 658.9V671.4M989.5 42V54.5M989.5 658.9V671.4M1084.8 42V54.5M1084.8 658.9V671.4M1180.1 42V54.5M1180.1 658.9V671.4M1275.4 42V54.5M1275.4 658.9V671.4M697.6 89.4H710.1M1268.6 89.4H1281.1M697.6 192.3H710.1M1268.6 192.3H1281.1M697.6 295.2H710.1M1268.6 295.2H1281.1M697.6 398.1H710.1M1268.6 398.1H1281.1M697.6 501H710.1M1268.6 501H1281.1M697.6 603.9H710.1M1268.6 603.9H1281.1M703.6 658.9V665.4M751.2 658.9V665.4M703.6 662.1H751.2M798.9 658.9V665.4M846.5 658.9V665.4M798.9 662.1H846.5M894.2 658.9V665.4M941.9 658.9V665.4M894.2 662.1H941.9M989.5 658.9V665.4M1037.2 658.9V665.4M989.5 662.1H1037.2M1084.8 658.9V665.4M1132.5 658.9V665.4M1084.8 662.1H1132.5M1180.1 658.9V665.4M1227.8 658.9V665.4M1180.1 662.1H1227.8M751.2 54.5V48M798.9 54.5V48M751.2 51.2H798.9M846.5 54.5V48M894.2 54.5V48M846.5 51.2H894.2M941.9 54.5V48M989.5 54.5V48M941.9 51.2H989.5M1037.2 54.5V48M1084.8 54.5V48M1037.2 51.2H1084.8M1132.5 54.5V48M1180.1 54.5V48M1132.5 51.2H1180.1M1227.8 54.5V48M1275.4 54.5V48M1227.8 51.2H1275.4M703.6 69H710.1M703.6 89.2H710.1M706.9 69V89.2M703.6 140.8H710.1M703.6 192.4H710.1M706.9 140.8V192.4M703.6 244H710.1M703.6 295.6H710.1M706.9 244V295.6M703.6 347.2H710.1M703.6 398.8H710.1M706.9 347.2V398.8M703.6 450.4H710.1M703.6 502H710.1M706.9 450.4V502M703.6 553.6H710.1M703.6 605.2H710.1M706.9 553.6V605.2M703.6 635H710.1M703.6 659H710.1M706.9 635V659M1268.6 89.2H1275.1M1268.6 140.8H1275.1M1271.8 89.2V140.8M1268.6 192.4H1275.1M1268.6 244H1275.1M1271.8 192.4V244M1268.6 295.6H1275.1M1268.6 347.2H1275.1M1271.8 295.6V347.2M1268.6 398.8H1275.1M1268.6 450.4H1275.1M1271.8 398.8V450.4M1268.6 502H1275.1M1268.6 553.6H1275.1M1271.8 502V553.6M1268.6 605.2H1275.1M1268.6 635H1275.1M1271.8 605.2V635M1268.6 69H1275.1" stroke="#1c1c1c" stroke-width="1.0" fill="none"/>
<path d="M79.2 758.6H655.3V1240.6H79.2ZM84.8 764.2H649.7V1235H84.8ZM79.2 758.6L84.8 764.2M655.3 758.6L649.7 764.2M79.2 1240.6L84.8 1235M655.3 1240.6L649.7 1235M179.3 752.6V764.2M179.3 1235V1246.6M304.4 752.6V764.2M304.4 1235V1246.6M429.5 752.6V764.2M429.5 1235V1246.6M554.6 752.6V764.2M554.6 1235V1246.6M73.2 803.3H84.8M649.7 803.3H661.3M73.2 892.8H84.8M649.7 892.8H661.3M73.2 982.3H84.8M649.7 982.3H661.3M73.2 1071.8H84.8M649.7 1071.8H661.3M73.2 1161.3H84.8M649.7 1161.3H661.3M79.2 1235V1240.6M129.4 1235V1240.6M79.2 1237.8H129.4M179.3 1235V1240.6M241.9 1235V1240.6M179.3 1237.8H241.9M304.4 1235V1240.6M366.9 1235V1240.6M304.4 1237.8H366.9M429.5 1235V1240.6M492.1 1235V1240.6M429.5 1237.8H492.1M554.6 1235V1240.6M617.1 1235V1240.6M554.6 1237.8H617.1M129.4 764.2V758.6M179.3 764.2V758.6M129.4 761.4H179.3M241.9 764.2V758.6M304.4 764.2V758.6M241.9 761.4H304.4M366.9 764.2V758.6M429.5 764.2V758.6M366.9 761.4H429.5M492.1 764.2V758.6M554.6 764.2V758.6M492.1 761.4H554.6M617.1 764.2V758.6M655.3 764.2V758.6M617.1 761.4H655.3M79.2 781.3H84.8M79.2 803.3H84.8M82 781.3V803.3M79.2 848H84.8M79.2 892.8H84.8M82 848V892.8M79.2 937.5H84.8M79.2 982.3H84.8M82 937.5V982.3M79.2 1027H84.8M79.2 1071.8H84.8M82 1027V1071.8M79.2 1116.5H84.8M79.2 1161.3H84.8M82 1116.5V1161.3M79.2 1206H84.8M79.2 1235H84.8M82 1206V1235M649.7 803.3H655.3M649.7 848H655.3M652.5 803.3V848M649.7 892.8H655.3M649.7 937.5H655.3M652.5 892.8V937.5M649.7 982.3H655.3M649.7 1027H655.3M652.5 982.3V1027M649.7 1071.8H655.3M649.7 1116.5H655.3M652.5 1071.8V1116.5M649.7 1161.3H655.3M649.7 1206H655.3M652.5 1161.3V1206M649.7 781.3H655.3" stroke="#1c1c1c" stroke-width="1.0" fill="none"/>
<path d="M704.2 758.6H1280.3V1240.6H704.2ZM709.8 764.2H1274.7V1235H709.8ZM704.2 758.6L709.8 764.2M1280.3 758.6L1274.7 764.2M704.2 1240.6L709.8 1235M1280.3 1240.6L1274.7 1235M804.3 752.6V764.2M804.3 1235V1246.6M929.4 752.6V764.2M929.4 1235V1246.6M1054.5 752.6V764.2M1054.5 1235V1246.6M1179.6 752.6V764.2M1179.6 1235V1246.6M698.2 803.3H709.8M1274.7 803.3H1286.3M698.2 892.8H709.8M1274.7 892.8H1286.3M698.2 982.3H709.8M1274.7 982.3H1286.3M698.2 1071.8H709.8M1274.7 1071.8H1286.3M698.2 1161.3H709.8M1274.7 1161.3H1286.3M704.2 1235V1240.6M754.4 1235V1240.6M704.2 1237.8H754.4M804.3 1235V1240.6M866.9 1235V1240.6M804.3 1237.8H866.9M929.4 1235V1240.6M992 1235V1240.6M929.4 1237.8H992M1054.5 1235V1240.6M1117.1 1235V1240.6M1054.5 1237.8H1117.1M1179.6 1235V1240.6M1242.2 1235V1240.6M1179.6 1237.8H1242.2M754.4 764.2V758.6M804.3 764.2V758.6M754.4 761.4H804.3M866.9 764.2V758.6M929.4 764.2V758.6M866.9 761.4H929.4M992 764.2V758.6M1054.5 764.2V758.6M992 761.4H1054.5M1117.1 764.2V758.6M1179.6 764.2V758.6M1117.1 761.4H1179.6M1242.2 764.2V758.6M1280.3 764.2V758.6M1242.2 761.4H1280.3M704.2 781.3H709.8M704.2 803.3H709.8M707 781.3V803.3M704.2 848H709.8M704.2 892.8H709.8M707 848V892.8M704.2 937.5H709.8M704.2 982.3H709.8M707 937.5V982.3M704.2 1027H709.8M704.2 1071.8H709.8M707 1027V1071.8M704.2 1116.5H709.8M704.2 1161.3H709.8M707 1116.5V1161.3M704.2 1206H709.8M704.2 1235H709.8M707 1206V1235M1274.7 803.3H1280.3M1274.7 848H1280.3M1277.5 803.3V848M1274.7 892.8H1280.3M1274.7 937.5H1280.3M1277.5 892.8V937.5M1274.7 982.3H1280.3M1274.7 1027H1280.3M1277.5 982.3V1027M1274.7 1071.8H1280.3M1274.7 1116.5H1280.3M1277.5 1071.8V1116.5M1274.7 1161.3H1280.3M1274.7 1206H1280.3M1277.5 1161.3V1206M1274.7 781.3H1280.3" stroke="#1c1c1c" stroke-width="1.0" fill="none"/>
<text x="62.5" y="95.7" font-size="28" text-anchor="end" font-weight="normal" fill="#262626" letter-spacing="0.4">23<tspan font-size="18.2" dy="-9.0">o</tspan><tspan dy="9.0">N</tspan></text>
<path d="M70.5 84.4L70.5 96.4" stroke="#b0b0b0" stroke-width="0.9" fill="none"/>
<text x="61" y="194.5" font-size="19.5" text-anchor="end" font-weight="normal" fill="#262626">30'</text>
<path d="M71.8 193.3L72.2 195.8" stroke="#b0b0b0" stroke-width="0.9" fill="none"/>
<text x="62.5" y="301.5" font-size="28" text-anchor="end" font-weight="normal" fill="#262626" letter-spacing="0.4">22<tspan font-size="18.2" dy="-9.0">o</tspan><tspan dy="9.0">N</tspan></text>
<path d="M70.5 290.2L70.5 302.2" stroke="#b0b0b0" stroke-width="0.9" fill="none"/>
<text x="61" y="400.3" font-size="19.5" text-anchor="end" font-weight="normal" fill="#262626">30'</text>
<path d="M71.8 399.1L72.2 401.6" stroke="#b0b0b0" stroke-width="0.9" fill="none"/>
<text x="62.5" y="507.3" font-size="28" text-anchor="end" font-weight="normal" fill="#262626" letter-spacing="0.4">21<tspan font-size="18.2" dy="-9.0">o</tspan><tspan dy="9.0">N</tspan></text>
<path d="M70.5 496L70.5 508" stroke="#b0b0b0" stroke-width="0.9" fill="none"/>
<text x="61" y="606.1" font-size="19.5" text-anchor="end" font-weight="normal" fill="#262626">30'</text>
<path d="M71.8 604.9L72.2 607.4" stroke="#b0b0b0" stroke-width="0.9" fill="none"/>
<text x="86" y="698.5" font-size="28.5" text-anchor="middle" font-weight="normal" fill="#262626" letter-spacing="0.5">21<tspan font-size="18.5" dy="-9.1">o</tspan><tspan dy="9.1">W</tspan></text>
<text x="176.8" y="695.5" font-size="20.5" text-anchor="middle" font-weight="normal" fill="#262626">30'</text>
<text x="273.6" y="698.5" font-size="28.5" text-anchor="middle" font-weight="normal" fill="#262626" letter-spacing="0.5">20<tspan font-size="18.5" dy="-9.1">o</tspan><tspan dy="9.1">W</tspan></text>
<text x="367.4" y="695.5" font-size="20.5" text-anchor="middle" font-weight="normal" fill="#262626">30'</text>
<text x="464.2" y="698.5" font-size="28.5" text-anchor="middle" font-weight="normal" fill="#262626" letter-spacing="0.5">19<tspan font-size="18.5" dy="-9.1">o</tspan><tspan dy="9.1">W</tspan></text>
<text x="558" y="695.5" font-size="20.5" text-anchor="middle" font-weight="normal" fill="#262626">30'</text>
<text x="634.8" y="698.5" font-size="28.5" text-anchor="middle" font-weight="normal" fill="#262626" letter-spacing="0.5">18<tspan font-size="18.5" dy="-9.1">o</tspan><tspan dy="9.1">W</tspan></text>
<text x="723.6" y="698.5" font-size="28.5" text-anchor="middle" font-weight="normal" fill="#262626" letter-spacing="0.5">21<tspan font-size="18.5" dy="-9.1">o</tspan><tspan dy="9.1">W</tspan></text>
<text x="797.4" y="695.5" font-size="20.5" text-anchor="middle" font-weight="normal" fill="#262626">30'</text>
<text x="894.2" y="698.5" font-size="28.5" text-anchor="middle" font-weight="normal" fill="#262626" letter-spacing="0.5">20<tspan font-size="18.5" dy="-9.1">o</tspan><tspan dy="9.1">W</tspan></text>
<text x="988" y="695.5" font-size="20.5" text-anchor="middle" font-weight="normal" fill="#262626">30'</text>
<text x="1084.8" y="698.5" font-size="28.5" text-anchor="middle" font-weight="normal" fill="#262626" letter-spacing="0.5">19<tspan font-size="18.5" dy="-9.1">o</tspan><tspan dy="9.1">W</tspan></text>
<text x="1178.6" y="695.5" font-size="20.5" text-anchor="middle" font-weight="normal" fill="#262626">30'</text>
<text x="1259.4" y="698.5" font-size="28.5" text-anchor="middle" font-weight="normal" fill="#262626" letter-spacing="0.5">18<tspan font-size="18.5" dy="-9.1">o</tspan><tspan dy="9.1">W</tspan></text>
<text x="61.5" y="811.8" font-size="21.5" text-anchor="end" font-weight="normal" fill="#262626">40'</text>
<text x="61.5" y="901.3" font-size="21.5" text-anchor="end" font-weight="normal" fill="#262626">30'</text>
<text x="61.5" y="990.8" font-size="21.5" text-anchor="end" font-weight="normal" fill="#262626">20'</text>
<text x="61.5" y="1080.3" font-size="21.5" text-anchor="end" font-weight="normal" fill="#262626">10'</text>
<text x="63.5" y="1173.2" font-size="28" text-anchor="end" font-weight="normal" fill="#262626" letter-spacing="0.4">21<tspan font-size="18.2" dy="-9.0">o</tspan><tspan dy="9.0">N</tspan></text>
<text x="177.8" y="1279" font-size="21" text-anchor="middle" font-weight="normal" fill="#262626">45'</text>
<text x="302.9" y="1279" font-size="21" text-anchor="middle" font-weight="normal" fill="#262626">30'</text>
<text x="428" y="1279" font-size="21" text-anchor="middle" font-weight="normal" fill="#262626">15'</text>
<text x="555.6" y="1282.5" font-size="28.5" text-anchor="middle" font-weight="normal" fill="#262626" letter-spacing="0.5">19<tspan font-size="18.5" dy="-9.1">o</tspan><tspan dy="9.1">W</tspan></text>
<text x="802.8" y="1279" font-size="21" text-anchor="middle" font-weight="normal" fill="#262626">45'</text>
<text x="927.9" y="1279" font-size="21" text-anchor="middle" font-weight="normal" fill="#262626">30'</text>
<text x="1053" y="1279" font-size="21" text-anchor="middle" font-weight="normal" fill="#262626">15'</text>
<text x="1180.6" y="1282.5" font-size="28.5" text-anchor="middle" font-weight="normal" fill="#262626" letter-spacing="0.5">19<tspan font-size="18.5" dy="-9.1">o</tspan><tspan dy="9.1">W</tspan></text>
<text x="380" y="36.8" font-size="29.5" text-anchor="middle" font-weight="bold" fill="#333">10 - 40 m</text>
<text x="993.5" y="33.2" font-size="29.5" text-anchor="middle" font-weight="bold" fill="#333">40 - 200 m</text>
<text x="-0.5" y="26.8" font-size="29" text-anchor="start" font-weight="bold" fill="#000">A</text>
<text x="680" y="26.8" font-size="29" text-anchor="start" font-weight="bold" fill="#000">B</text>
<text x="0" y="748.4" font-size="29" text-anchor="start" font-weight="bold" fill="#000">C</text>
<text x="680" y="748.4" font-size="29" text-anchor="start" font-weight="bold" fill="#000">D</text>
<defs><linearGradient id="cb1" x1="0" y1="0" x2="0" y2="1"><stop offset="0" stop-color="#800000"/><stop offset="0.0278" stop-color="#9c0000"/><stop offset="0.0556" stop-color="#b80000"/><stop offset="0.0833" stop-color="#d40000"/><stop offset="0.1111" stop-color="#f10000"/><stop offset="0.1389" stop-color="#ff0e00"/><stop offset="0.1667" stop-color="#ff2a00"/><stop offset="0.1944" stop-color="#ff4700"/><stop offset="0.2222" stop-color="#ff6300"/><stop offset="0.2500" stop-color="#ff8000"/><stop offset="0.2778" stop-color="#ff9c00"/><stop offset="0.3056" stop-color="#ffb800"/><stop offset="0.3333" stop-color="#ffd500"/><stop offset="0.3611" stop-color="#fff100"/><stop offset="0.3889" stop-color="#f1ff0e"/><stop offset="0.4167" stop-color="#d4ff2b"/><stop offset="0.4444" stop-color="#b8ff47"/><stop offset="0.4722" stop-color="#9cff63"/><stop offset="0.5000" stop-color="#80ff80"/><stop offset="0.5278" stop-color="#63ff9c"/><stop offset="0.5556" stop-color="#47ffb8"/><stop offset="0.5833" stop-color="#2bffd4"/><stop offset="0.6111" stop-color="#0efff1"/><stop offset="0.6389" stop-color="#00f1ff"/><stop offset="0.6667" stop-color="#00d4ff"/><stop offset="0.6944" stop-color="#00b8ff"/><stop offset="0.7222" stop-color="#009cff"/><stop offset="0.7500" stop-color="#007fff"/><stop offset="0.7778" stop-color="#0063ff"/><stop offset="0.8056" stop-color="#0047ff"/><stop offset="0.8333" stop-color="#002aff"/><stop offset="0.8611" stop-color="#000eff"/><stop offset="0.8889" stop-color="#0000f1"/><stop offset="0.9167" stop-color="#0000d4"/><stop offset="0.9444" stop-color="#0000b8"/><stop offset="0.9722" stop-color="#00009c"/><stop offset="1" stop-color="#000080"/></linearGradient></defs>
<rect x="1318.6" y="41.6" width="22.6" height="621.8" fill="url(#cb1)" stroke="#444" stroke-width="0.5"/>
<text x="1352.3" y="54.2" font-size="28.5" text-anchor="start" font-weight="normal" fill="#262626">37</text>
<text x="1352.3" y="120.9" font-size="28.5" text-anchor="start" font-weight="normal" fill="#262626">36.8</text>
<path d="M1336.2 110.7L1341.2 110.7" stroke="#222" stroke-width="0.8" fill="none"/>
<text x="1352.3" y="190" font-size="28.5" text-anchor="start" font-weight="normal" fill="#262626">36.6</text>
<path d="M1336.2 179.8L1341.2 179.8" stroke="#222" stroke-width="0.8" fill="none"/>
<text x="1352.3" y="259.1" font-size="28.5" text-anchor="start" font-weight="normal" fill="#262626">36.4</text>
<path d="M1336.2 248.9L1341.2 248.9" stroke="#222" stroke-width="0.8" fill="none"/>
<text x="1352.3" y="328.2" font-size="28.5" text-anchor="start" font-weight="normal" fill="#262626">36.2</text>
<path d="M1336.2 318L1341.2 318" stroke="#222" stroke-width="0.8" fill="none"/>
<text x="1352.3" y="397.2" font-size="28.5" text-anchor="start" font-weight="normal" fill="#262626">36</text>
<path d="M1336.2 387L1341.2 387" stroke="#222" stroke-width="0.8" fill="none"/>
<text x="1352.3" y="466.3" font-size="28.5" text-anchor="start" font-weight="normal" fill="#262626">35.8</text>
<path d="M1336.2 456.1L1341.2 456.1" stroke="#222" stroke-width="0.8" fill="none"/>
<text x="1352.3" y="535.4" font-size="28.5" text-anchor="start" font-weight="normal" fill="#262626">35.6</text>
<path d="M1336.2 525.2L1341.2 525.2" stroke="#222" stroke-width="0.8" fill="none"/>
<text x="1352.3" y="604.5" font-size="28.5" text-anchor="start" font-weight="normal" fill="#262626">35.4</text>
<path d="M1336.2 594.3L1341.2 594.3" stroke="#222" stroke-width="0.8" fill="none"/>
<text x="1352.3" y="671.2" font-size="28.5" text-anchor="start" font-weight="normal" fill="#262626">35.2</text>
<defs><linearGradient id="cb2" x1="0" y1="0" x2="0" y2="1"><stop offset="0" stop-color="#800000"/><stop offset="0.0278" stop-color="#9c0000"/><stop offset="0.0556" stop-color="#b80000"/><stop offset="0.0833" stop-color="#d40000"/><stop offset="0.1111" stop-color="#f10000"/><stop offset="0.1389" stop-color="#ff0e00"/><stop offset="0.1667" stop-color="#ff2a00"/><stop offset="0.1944" stop-color="#ff4700"/><stop offset="0.2222" stop-color="#ff6300"/><stop offset="0.2500" stop-color="#ff8000"/><stop offset="0.2778" stop-color="#ff9c00"/><stop offset="0.3056" stop-color="#ffb800"/><stop offset="0.3333" stop-color="#ffd500"/><stop offset="0.3611" stop-color="#fff100"/><stop offset="0.3889" stop-color="#f1ff0e"/><stop offset="0.4167" stop-color="#d4ff2b"/><stop offset="0.4444" stop-color="#b8ff47"/><stop offset="0.4722" stop-color="#9cff63"/><stop offset="0.5000" stop-color="#80ff80"/><stop offset="0.5278" stop-color="#63ff9c"/><stop offset="0.5556" stop-color="#47ffb8"/><stop offset="0.5833" stop-color="#2bffd4"/><stop offset="0.6111" stop-color="#0efff1"/><stop offset="0.6389" stop-color="#00f1ff"/><stop offset="0.6667" stop-color="#00d4ff"/><stop offset="0.6944" stop-color="#00b8ff"/><stop offset="0.7222" stop-color="#009cff"/><stop offset="0.7500" stop-color="#007fff"/><stop offset="0.7778" stop-color="#0063ff"/><stop offset="0.8056" stop-color="#0047ff"/><stop offset="0.8333" stop-color="#002aff"/><stop offset="0.8611" stop-color="#000eff"/><stop offset="0.8889" stop-color="#0000f1"/><stop offset="0.9167" stop-color="#0000d4"/><stop offset="0.9444" stop-color="#0000b8"/><stop offset="0.9722" stop-color="#00009c"/><stop offset="1" stop-color="#000080"/></linearGradient></defs>
<rect x="1323.2" y="757" width="22.1" height="486.8" fill="url(#cb2)" stroke="#444" stroke-width="0.5"/>
<text x="1353.5" y="769.6" font-size="28.5" text-anchor="start" font-weight="normal" fill="#262626">37</text>
<text x="1353.5" y="821.3" font-size="28.5" text-anchor="start" font-weight="normal" fill="#262626">36.8</text>
<path d="M1340.3 811.1L1345.3 811.1" stroke="#222" stroke-width="0.8" fill="none"/>
<text x="1353.5" y="875.4" font-size="28.5" text-anchor="start" font-weight="normal" fill="#262626">36.6</text>
<path d="M1340.3 865.2L1345.3 865.2" stroke="#222" stroke-width="0.8" fill="none"/>
<text x="1353.5" y="929.5" font-size="28.5" text-anchor="start" font-weight="normal" fill="#262626">36.4</text>
<path d="M1340.3 919.3L1345.3 919.3" stroke="#222" stroke-width="0.8" fill="none"/>
<text x="1353.5" y="983.6" font-size="28.5" text-anchor="start" font-weight="normal" fill="#262626">36.2</text>
<path d="M1340.3 973.4L1345.3 973.4" stroke="#222" stroke-width="0.8" fill="none"/>
<text x="1353.5" y="1037.6" font-size="28.5" text-anchor="start" font-weight="normal" fill="#262626">36</text>
<path d="M1340.3 1027.4L1345.3 1027.4" stroke="#222" stroke-width="0.8" fill="none"/>
<text x="1353.5" y="1091.7" font-size="28.5" text-anchor="start" font-weight="normal" fill="#262626">35.8</text>
<path d="M1340.3 1081.5L1345.3 1081.5" stroke="#222" stroke-width="0.8" fill="none"/>
<text x="1353.5" y="1145.8" font-size="28.5" text-anchor="start" font-weight="normal" fill="#262626">35.6</text>
<path d="M1340.3 1135.6L1345.3 1135.6" stroke="#222" stroke-width="0.8" fill="none"/>
<text x="1353.5" y="1199.9" font-size="28.5" text-anchor="start" font-weight="normal" fill="#262626">35.4</text>
<path d="M1340.3 1189.7L1345.3 1189.7" stroke="#222" stroke-width="0.8" fill="none"/>
<text x="1353.5" y="1251.6" font-size="28.5" text-anchor="start" font-weight="normal" fill="#262626">35.2</text>
<text transform="translate(1471,342) rotate(-90)" font-size="29" text-anchor="middle" fill="#404040">S<tspan font-size="13" dy="5">P</tspan><tspan dy="-5">[PSU]</tspan></text>
<text transform="translate(1461,995) rotate(-90)" font-size="29" text-anchor="middle" fill="#404040">S<tspan font-size="13" dy="5">P</tspan><tspan dy="-5">[PSU]</tspan></text>
</svg></body></html>
